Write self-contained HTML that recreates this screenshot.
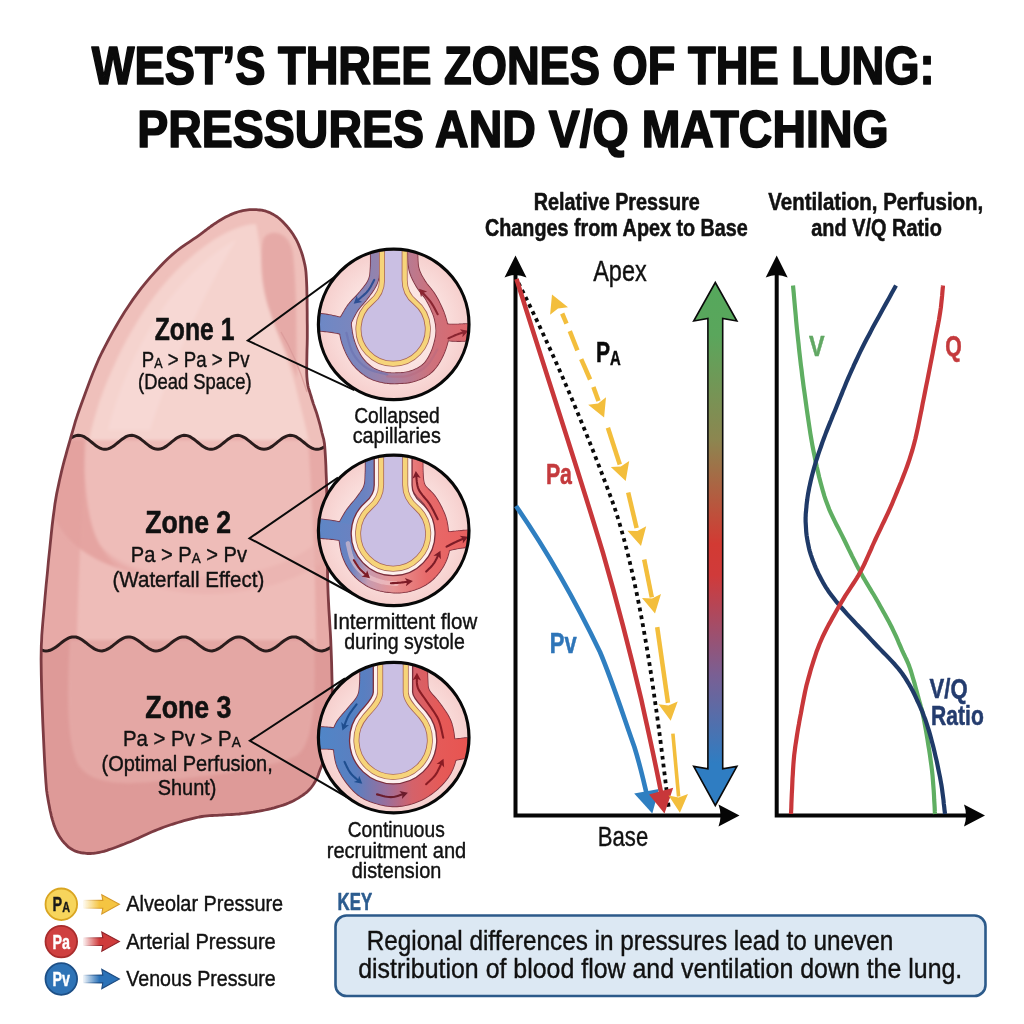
<!DOCTYPE html>
<html><head><meta charset="utf-8"><title>West's Three Zones of the Lung</title>
<style>
html,body{margin:0;padding:0;background:#fff;}
body{width:1024px;height:1024px;overflow:hidden;font-family:"Liberation Sans",sans-serif;}
svg{display:block;font-family:"Liberation Sans",sans-serif;will-change:transform;}
</style></head><body>
<svg width="1024" height="1024" viewBox="0 0 1024 1024">
<defs>


<linearGradient id="bigArrow" gradientUnits="userSpaceOnUse" x1="0" y1="283" x2="0" y2="805">
  <stop offset="0" stop-color="#55a85c"/>
  <stop offset="0.10" stop-color="#5aa65c"/>
  <stop offset="0.30" stop-color="#8c8650"/>
  <stop offset="0.50" stop-color="#d23a33"/>
  <stop offset="0.56" stop-color="#d03a3a"/>
  <stop offset="0.75" stop-color="#7a5f93"/>
  <stop offset="0.92" stop-color="#2f7dc2"/>
  <stop offset="1" stop-color="#2f7dc2"/>
</linearGradient>
<radialGradient id="circBg" cx="0.5" cy="0.5" r="0.5">
  <stop offset="0" stop-color="#fdeceb"/>
  <stop offset="0.6" stop-color="#fbe3e1"/>
  <stop offset="1" stop-color="#f6cfcd"/>
</radialGradient>
<linearGradient id="legYs" x1="0" y1="0" x2="1" y2="0">
  <stop offset="0" stop-color="#d69a2a" stop-opacity="0"/>
  <stop offset="0.5" stop-color="#d69a2a" stop-opacity="1"/>
  <stop offset="1" stop-color="#d69a2a"/>
</linearGradient>
<linearGradient id="legRs" x1="0" y1="0" x2="1" y2="0">
  <stop offset="0" stop-color="#8f2228" stop-opacity="0"/>
  <stop offset="0.5" stop-color="#8f2228" stop-opacity="1"/>
  <stop offset="1" stop-color="#8f2228"/>
</linearGradient>
<linearGradient id="legBs" x1="0" y1="0" x2="1" y2="0">
  <stop offset="0" stop-color="#1c4a80" stop-opacity="0"/>
  <stop offset="0.5" stop-color="#1c4a80" stop-opacity="1"/>
  <stop offset="1" stop-color="#1c4a80"/>
</linearGradient>
<linearGradient id="legY" x1="0" y1="0" x2="1" y2="0">
  <stop offset="0" stop-color="#f5c542" stop-opacity="0.05"/>
  <stop offset="0.45" stop-color="#f5c542" stop-opacity="1"/>
  <stop offset="1" stop-color="#f5c542"/>
</linearGradient>
<linearGradient id="legR" x1="0" y1="0" x2="1" y2="0">
  <stop offset="0" stop-color="#cf3b3b" stop-opacity="0.05"/>
  <stop offset="0.45" stop-color="#cf3b3b" stop-opacity="1"/>
  <stop offset="1" stop-color="#cf3b3b"/>
</linearGradient>
<linearGradient id="legB" x1="0" y1="0" x2="1" y2="0">
  <stop offset="0" stop-color="#2b72b8" stop-opacity="0.05"/>
  <stop offset="0.45" stop-color="#2b72b8" stop-opacity="1"/>
  <stop offset="1" stop-color="#2b72b8"/>
</linearGradient>


<linearGradient id="cap1" gradientUnits="userSpaceOnUse" x1="-76" y1="0" x2="76" y2="0">
  <stop offset="0" stop-color="#6c88c6"/>
  <stop offset="0.25" stop-color="#7c86bd"/>
  <stop offset="0.5" stop-color="#a9809f"/>
  <stop offset="0.74" stop-color="#cd727d"/>
  <stop offset="1" stop-color="#dd666a"/>
</linearGradient>
<linearGradient id="cap2" gradientUnits="userSpaceOnUse" x1="-76" y1="0" x2="76" y2="0">
  <stop offset="0" stop-color="#5d86c6"/>
  <stop offset="0.22" stop-color="#6a82c1"/>
  <stop offset="0.33" stop-color="#c79bb0"/>
  <stop offset="0.5" stop-color="#e79393"/>
  <stop offset="0.72" stop-color="#e76a6a"/>
  <stop offset="1" stop-color="#e95f5e"/>
</linearGradient>
<linearGradient id="cap3" gradientUnits="userSpaceOnUse" x1="-76" y1="0" x2="76" y2="0">
  <stop offset="0" stop-color="#4f86c8"/>
  <stop offset="0.25" stop-color="#5b7fc0"/>
  <stop offset="0.45" stop-color="#9a6f9c"/>
  <stop offset="0.62" stop-color="#d4626a"/>
  <stop offset="0.8" stop-color="#e55a58"/>
  <stop offset="1" stop-color="#e85450"/>
</linearGradient>
<linearGradient id="cap2v" gradientUnits="userSpaceOnUse" x1="-60" y1="0" x2="-10" y2="0">
  <stop offset="0" stop-color="#5d86c6"/>
  <stop offset="0.6" stop-color="#6a82c1"/>
  <stop offset="1" stop-color="#7d86c0"/>
</linearGradient>
<linearGradient id="cap3v" gradientUnits="userSpaceOnUse" x1="-60" y1="0" x2="-10" y2="0">
  <stop offset="0" stop-color="#4f84c7"/>
  <stop offset="0.6" stop-color="#587fc1"/>
  <stop offset="1" stop-color="#6a7bb8"/>
</linearGradient>
<clipPath id="cclip"><circle cx="0" cy="0" r="74"/></clipPath>

</defs>
<text x="91.8" y="83.7" font-size="53" font-weight="bold" fill="#0b0b0b" stroke="#0b0b0b" stroke-width="1.7" stroke-linejoin="round" textLength="842.8" lengthAdjust="spacingAndGlyphs" >WEST’S THREE ZONES OF THE LUNG:</text>
<text x="137.3" y="146.9" font-size="52.5" font-weight="bold" fill="#0b0b0b" stroke="#0b0b0b" stroke-width="1.7" stroke-linejoin="round" textLength="751.3" lengthAdjust="spacingAndGlyphs" >PRESSURES AND V/Q MATCHING</text>
<clipPath id="lungclip"><path d="M 254.7,209.6 L 256.4,209.7 L 258.1,209.8 L 259.8,210.0 L 261.6,210.2 L 263.3,210.5 L 265.0,210.9 L 266.7,211.5 L 268.4,212.1 L 270.1,212.8 L 271.8,213.7 L 273.5,214.6 L 275.2,215.6 L 276.9,216.7 L 278.6,218.0 L 280.3,219.4 L 282.0,221.0 L 283.7,222.8 L 285.5,224.7 L 287.4,226.8 L 289.2,229.0 L 291.0,231.4 L 292.7,233.8 L 294.2,236.2 L 295.7,238.7 L 297.0,241.2 L 298.3,243.9 L 299.4,246.6 L 300.5,249.4 L 301.5,252.2 L 302.4,255.0 L 303.2,257.8 L 303.9,260.6 L 304.5,263.2 L 305.0,265.4 L 305.4,267.6 L 305.7,269.8 L 306.0,272.3 L 306.2,275.1 L 306.4,278.5 L 306.6,282.5 L 306.8,287.4 L 306.9,293.0 L 307.1,299.1 L 307.1,305.6 L 307.2,312.3 L 307.2,319.0 L 307.3,325.6 L 307.3,331.7 L 307.3,337.7 L 307.2,343.9 L 307.0,350.1 L 306.9,356.2 L 306.8,362.1 L 306.7,367.6 L 306.7,372.6 L 306.9,377.0 L 307.2,380.6 L 307.6,383.6 L 308.0,386.0 L 308.5,388.1 L 309.1,390.0 L 309.7,391.8 L 310.3,393.8 L 311.0,396.0 L 311.7,398.5 L 312.5,401.0 L 313.3,403.6 L 314.2,406.1 L 315.1,408.7 L 316.0,411.2 L 316.8,413.6 L 317.5,416.0 L 318.2,418.3 L 318.8,420.5 L 319.4,422.6 L 320.0,424.7 L 320.5,426.8 L 321.0,428.8 L 321.5,430.9 L 322.0,433.0 L 322.5,434.9 L 322.9,436.4 L 323.3,437.8 L 323.7,439.2 L 324.0,441.0 L 324.4,443.2 L 324.7,446.2 L 325.0,450.0 L 325.3,454.7 L 325.6,460.0 L 325.9,466.0 L 326.1,472.4 L 326.4,479.4 L 326.6,486.9 L 326.8,494.7 L 327.0,503.0 L 327.1,512.0 L 327.2,521.9 L 327.3,532.5 L 327.3,543.4 L 327.4,554.4 L 327.5,565.2 L 327.6,575.5 L 327.8,585.0 L 328.1,593.7 L 328.5,601.9 L 328.9,609.7 L 329.4,617.2 L 329.8,624.6 L 330.3,632.0 L 330.7,639.4 L 331.0,647.0 L 331.3,654.9 L 331.6,663.1 L 331.8,671.4 L 332.0,679.6 L 332.2,687.7 L 332.3,695.3 L 332.3,702.5 L 332.3,709.0 L 332.2,714.8 L 332.0,720.1 L 331.8,725.0 L 331.5,729.4 L 331.2,733.6 L 330.7,737.5 L 330.2,741.3 L 329.5,745.0 L 328.7,748.6 L 327.7,751.9 L 326.5,755.0 L 325.3,757.9 L 324.1,760.7 L 322.9,763.3 L 321.8,765.7 L 320.8,768.0 L 320.0,770.1 L 319.3,772.0 L 318.7,773.7 L 318.2,775.2 L 317.6,776.7 L 317.0,778.1 L 316.3,779.5 L 315.5,781.0 L 314.6,782.5 L 313.7,784.0 L 312.7,785.5 L 311.6,787.0 L 310.5,788.4 L 309.2,789.8 L 307.8,791.2 L 306.2,792.6 L 304.4,794.0 L 302.5,795.4 L 300.5,796.7 L 298.3,798.1 L 296.0,799.4 L 293.6,800.7 L 291.1,801.9 L 288.6,803.0 L 285.9,804.1 L 283.1,805.1 L 280.2,806.0 L 277.2,806.9 L 274.1,807.8 L 271.0,808.6 L 268.0,809.3 L 265.0,810.0 L 262.0,810.6 L 259.1,811.2 L 256.1,811.7 L 253.1,812.2 L 250.2,812.6 L 247.3,813.0 L 244.4,813.4 L 241.7,813.7 L 239.1,814.0 L 236.5,814.2 L 234.1,814.4 L 231.6,814.5 L 229.3,814.6 L 226.9,814.7 L 224.5,814.8 L 222.0,815.0 L 219.5,815.1 L 217.1,815.3 L 214.7,815.4 L 212.2,815.5 L 209.7,815.6 L 207.2,815.8 L 204.6,816.1 L 201.9,816.5 L 199.1,817.0 L 196.2,817.6 L 193.2,818.3 L 190.1,819.1 L 187.1,819.9 L 184.0,820.7 L 181.0,821.6 L 178.0,822.5 L 175.1,823.4 L 172.2,824.3 L 169.3,825.3 L 166.4,826.3 L 163.5,827.3 L 160.7,828.4 L 157.8,829.5 L 155.0,830.6 L 152.2,831.8 L 149.4,833.0 L 146.7,834.2 L 143.9,835.5 L 141.2,836.8 L 138.5,838.1 L 135.7,839.3 L 133.0,840.5 L 130.2,841.7 L 127.3,842.8 L 124.4,844.0 L 121.4,845.1 L 118.6,846.2 L 115.9,847.3 L 113.3,848.2 L 111.0,849.0 L 108.9,849.7 L 107.1,850.3 L 105.4,850.8 L 103.9,851.3 L 102.4,851.7 L 101.0,852.0 L 99.5,852.3 L 98.0,852.6 L 96.5,852.9 L 95.0,853.1 L 93.5,853.3 L 92.1,853.4 L 90.6,853.5 L 89.2,853.5 L 87.7,853.5 L 86.2,853.4 L 84.7,853.2 L 83.2,853.0 L 81.6,852.8 L 80.0,852.5 L 78.4,852.1 L 76.9,851.6 L 75.4,851.1 L 74.0,850.5 L 72.7,849.8 L 71.4,849.0 L 70.1,848.2 L 68.9,847.3 L 67.7,846.3 L 66.6,845.2 L 65.5,844.1 L 64.4,843.0 L 63.4,841.8 L 62.3,840.6 L 61.4,839.3 L 60.4,837.9 L 59.5,836.5 L 58.6,835.0 L 57.8,833.5 L 57.0,832.0 L 56.2,830.4 L 55.5,828.9 L 54.9,827.2 L 54.2,825.6 L 53.6,823.8 L 53.1,822.0 L 52.5,820.1 L 51.9,818.0 L 51.3,815.8 L 50.8,813.4 L 50.2,811.0 L 49.7,808.4 L 49.2,805.8 L 48.7,803.2 L 48.2,800.6 L 47.8,798.0 L 47.4,795.7 L 47.1,793.9 L 46.9,792.2 L 46.6,790.4 L 46.4,788.3 L 46.2,785.6 L 45.9,782.1 L 45.6,777.5 L 45.2,771.7 L 44.8,764.8 L 44.4,757.1 L 44.0,748.9 L 43.6,740.3 L 43.2,731.6 L 42.8,723.1 L 42.5,715.0 L 42.2,707.1 L 41.9,699.0 L 41.7,690.9 L 41.5,682.8 L 41.3,674.8 L 41.2,667.1 L 41.1,659.6 L 41.2,652.5 L 41.3,646.1 L 41.6,640.5 L 41.8,635.4 L 42.2,630.3 L 42.6,625.1 L 43.1,619.4 L 43.7,612.8 L 44.4,605.0 L 45.2,595.6 L 46.2,584.7 L 47.4,572.9 L 48.5,560.6 L 49.8,548.3 L 51.0,536.6 L 52.1,526.0 L 53.2,517.0 L 54.2,509.6 L 55.0,503.4 L 55.9,498.2 L 56.7,493.6 L 57.6,489.3 L 58.5,485.1 L 59.4,480.8 L 60.5,476.0 L 61.7,470.8 L 63.0,465.5 L 64.4,460.1 L 65.9,454.8 L 67.3,449.6 L 68.8,444.5 L 70.2,439.6 L 71.5,435.0 L 72.7,430.9 L 73.7,427.3 L 74.7,423.9 L 75.6,420.7 L 76.7,417.4 L 77.9,413.8 L 79.3,409.8 L 81.0,405.0 L 83.0,399.5 L 85.2,393.5 L 87.6,387.0 L 90.1,380.2 L 92.8,373.2 L 95.7,366.2 L 98.7,359.2 L 101.9,352.5 L 105.3,345.8 L 108.9,339.0 L 112.6,332.1 L 116.6,325.2 L 120.6,318.4 L 124.7,311.8 L 128.9,305.5 L 133.0,299.4 L 137.2,293.6 L 141.5,287.9 L 146.0,282.4 L 150.4,277.1 L 154.9,272.1 L 159.4,267.2 L 163.7,262.7 L 168.0,258.5 L 172.3,254.6 L 176.6,251.0 L 181.0,247.7 L 185.3,244.6 L 189.5,241.8 L 193.4,239.2 L 196.9,236.8 L 200.0,234.6 L 202.6,232.7 L 204.7,231.0 L 206.5,229.7 L 208.0,228.5 L 209.4,227.5 L 210.7,226.5 L 212.1,225.5 L 213.7,224.4 L 215.4,223.3 L 217.1,222.1 L 218.8,221.0 L 220.5,220.0 L 222.2,219.0 L 223.9,218.0 L 225.6,217.1 L 227.3,216.2 L 229.0,215.4 L 230.7,214.6 L 232.4,213.9 L 234.1,213.2 L 235.9,212.6 L 237.6,212.0 L 239.3,211.5 L 241.0,211.1 L 242.7,210.7 L 244.4,210.4 L 246.1,210.1 L 247.8,209.9 L 249.6,209.7 L 251.3,209.6 L 253.0,209.6 Z"/></clipPath>
<filter id="soft" x="-20%" y="-20%" width="140%" height="140%"><feGaussianBlur stdDeviation="3.2"/></filter>
<filter id="soft2" x="-20%" y="-20%" width="140%" height="140%"><feGaussianBlur stdDeviation="1.6"/></filter>
<g clip-path="url(#lungclip)">
<rect x="0" y="180" width="400" height="700" fill="#efc0bb"/>
<g filter="url(#soft2)">
<path d="M 256,224 C 240,224 215,236 190,258 C 150,292 120,345 100,400 C 92,425 88,440 84,470 L 314,470 C 310,440 300,405 295,384 C 288,358 276,332 270,312 C 262,290 262,250 256,224 Z" fill="#f5d3ce"/>
<path d="M 236,240 C 215,250 180,280 155,320 C 135,352 118,390 108,430 L 150,430 C 170,370 200,300 236,240 Z" fill="#f8ddd9" opacity="0.55"/>
<path d="M 263,240 C 268,228 290,230 293,254 C 297,290 296,330 297,378 C 288,352 276,332 270,312 C 262,290 259,262 263,240 Z" fill="#e6aaa7"/>
</g>
<path d="M 281,332 C 292,350 300,370 307,392" fill="none" stroke="#d99a98" stroke-width="1.4" opacity="0.8"/>
<path d="M 60.0,446.4 L 62.0,444.9 L 64.0,443.3 L 66.0,441.7 L 68.0,440.1 L 70.0,438.6 L 72.0,437.3 L 74.0,436.3 L 76.0,435.6 L 78.0,435.3 L 80.0,435.4 L 82.0,435.9 L 84.0,436.7 L 86.0,437.9 L 88.0,439.3 L 90.0,440.9 L 92.0,442.5 L 94.0,444.1 L 96.0,445.7 L 98.0,447.0 L 100.0,448.1 L 102.0,448.9 L 104.0,449.3 L 106.0,449.3 L 108.0,448.9 L 110.0,448.1 L 112.0,447.0 L 114.0,445.7 L 116.0,444.1 L 118.0,442.5 L 120.0,440.9 L 122.0,439.3 L 124.0,437.9 L 126.0,436.7 L 128.0,435.9 L 130.0,435.4 L 132.0,435.3 L 134.0,435.6 L 136.0,436.3 L 138.0,437.3 L 140.0,438.6 L 142.0,440.1 L 144.0,441.7 L 146.0,443.3 L 148.0,444.9 L 150.0,446.4 L 152.0,447.6 L 154.0,448.5 L 156.0,449.1 L 158.0,449.3 L 160.0,449.1 L 162.0,448.5 L 164.0,447.6 L 166.0,446.4 L 168.0,444.9 L 170.0,443.3 L 172.0,441.7 L 174.0,440.1 L 176.0,438.6 L 178.0,437.3 L 180.0,436.3 L 182.0,435.6 L 184.0,435.3 L 186.0,435.4 L 188.0,435.9 L 190.0,436.7 L 192.0,437.9 L 194.0,439.3 L 196.0,440.9 L 198.0,442.5 L 200.0,444.1 L 202.0,445.7 L 204.0,447.0 L 206.0,448.1 L 208.0,448.9 L 210.0,449.3 L 212.0,449.3 L 214.0,448.9 L 216.0,448.1 L 218.0,447.0 L 220.0,445.7 L 222.0,444.1 L 224.0,442.5 L 226.0,440.9 L 228.0,439.3 L 230.0,437.9 L 232.0,436.7 L 234.0,435.9 L 236.0,435.4 L 238.0,435.3 L 240.0,435.6 L 242.0,436.3 L 244.0,437.3 L 246.0,438.6 L 248.0,440.1 L 250.0,441.7 L 252.0,443.3 L 254.0,444.9 L 256.0,446.4 L 258.0,447.6 L 260.0,448.5 L 262.0,449.1 L 264.0,449.3 L 266.0,449.1 L 268.0,448.5 L 270.0,447.6 L 272.0,446.4 L 274.0,444.9 L 276.0,443.3 L 278.0,441.7 L 280.0,440.1 L 282.0,438.6 L 284.0,437.3 L 286.0,436.3 L 288.0,435.6 L 290.0,435.3 L 292.0,435.4 L 294.0,435.9 L 296.0,436.7 L 298.0,437.9 L 300.0,439.3 L 302.0,440.9 L 304.0,442.5 L 306.0,444.1 L 308.0,445.7 L 310.0,447.0 L 312.0,448.1 L 314.0,448.9 L 316.0,449.3 L 318.0,449.3 L 320.0,448.9 L 322.0,448.1 L 324.0,447.0 L 326.0,445.7 L 328.0,444.1 L 330.0,442.5 L 332.0,440.9 L 334.0,439.3 L 340,900 L 20,900 Z" fill="#e7aaa7"/>
<g filter="url(#soft2)">
<path d="M 86,440 C 82,500 78,580 76,670 L 316,670 C 316,600 314,520 308,440 Z" fill="#eebcb8"/>
<path d="M 40,440 L 84,440 C 84,480 86,520 100,545 C 112,562 130,570 150,574 C 120,572 90,560 70,540 C 58,528 50,510 46,500 Z" fill="#e3a19f" opacity="0.9"/>
<path d="M 100,545 C 130,575 190,585 260,570 C 290,562 310,550 325,535 L 325,560 C 300,580 250,596 200,594 C 150,592 115,575 100,545 Z" fill="#e9b0ad" opacity="0.6"/>
</g>
<path d="M 30.0,641.9 L 32.0,643.5 L 34.0,645.1 L 36.0,646.6 L 38.0,648.0 L 40.0,649.2 L 42.0,650.1 L 44.0,650.7 L 46.0,650.9 L 48.0,650.8 L 50.0,650.3 L 52.0,649.4 L 54.0,648.3 L 56.0,647.0 L 58.0,645.5 L 60.0,643.9 L 62.0,642.3 L 64.0,640.8 L 66.0,639.5 L 68.0,638.4 L 70.0,637.5 L 72.0,637.0 L 74.0,636.9 L 76.0,637.1 L 78.0,637.7 L 80.0,638.6 L 82.0,639.8 L 84.0,641.2 L 86.0,642.7 L 88.0,644.3 L 90.0,645.9 L 92.0,647.3 L 94.0,648.6 L 96.0,649.7 L 98.0,650.4 L 100.0,650.8 L 102.0,650.9 L 104.0,650.6 L 106.0,649.9 L 108.0,648.9 L 110.0,647.7 L 112.0,646.3 L 114.0,644.7 L 116.0,643.1 L 118.0,641.5 L 120.0,640.1 L 122.0,638.9 L 124.0,637.9 L 126.0,637.2 L 128.0,636.9 L 130.0,637.0 L 132.0,637.4 L 134.0,638.1 L 136.0,639.2 L 138.0,640.5 L 140.0,641.9 L 142.0,643.5 L 144.0,645.1 L 146.0,646.6 L 148.0,648.0 L 150.0,649.2 L 152.0,650.1 L 154.0,650.7 L 156.0,650.9 L 158.0,650.8 L 160.0,650.3 L 162.0,649.4 L 164.0,648.3 L 166.0,647.0 L 168.0,645.5 L 170.0,643.9 L 172.0,642.3 L 174.0,640.8 L 176.0,639.5 L 178.0,638.4 L 180.0,637.5 L 182.0,637.0 L 184.0,636.9 L 186.0,637.1 L 188.0,637.7 L 190.0,638.6 L 192.0,639.8 L 194.0,641.2 L 196.0,642.7 L 198.0,644.3 L 200.0,645.9 L 202.0,647.3 L 204.0,648.6 L 206.0,649.7 L 208.0,650.4 L 210.0,650.8 L 212.0,650.9 L 214.0,650.6 L 216.0,649.9 L 218.0,648.9 L 220.0,647.7 L 222.0,646.3 L 224.0,644.7 L 226.0,643.1 L 228.0,641.5 L 230.0,640.1 L 232.0,638.9 L 234.0,637.9 L 236.0,637.2 L 238.0,636.9 L 240.0,637.0 L 242.0,637.4 L 244.0,638.1 L 246.0,639.2 L 248.0,640.5 L 250.0,641.9 L 252.0,643.5 L 254.0,645.1 L 256.0,646.6 L 258.0,648.0 L 260.0,649.2 L 262.0,650.1 L 264.0,650.7 L 266.0,650.9 L 268.0,650.8 L 270.0,650.3 L 272.0,649.4 L 274.0,648.3 L 276.0,647.0 L 278.0,645.5 L 280.0,643.9 L 282.0,642.3 L 284.0,640.8 L 286.0,639.5 L 288.0,638.4 L 290.0,637.5 L 292.0,637.0 L 294.0,636.9 L 296.0,637.1 L 298.0,637.7 L 300.0,638.6 L 302.0,639.8 L 304.0,641.2 L 306.0,642.7 L 308.0,644.3 L 310.0,645.9 L 312.0,647.3 L 314.0,648.6 L 316.0,649.7 L 318.0,650.4 L 320.0,650.8 L 322.0,650.9 L 324.0,650.6 L 326.0,649.9 L 328.0,648.9 L 330.0,647.7 L 332.0,646.3 L 334.0,644.7 L 336.0,643.1 L 338.0,641.5 L 340.0,640.1 L 340,900 L 20,900 Z" fill="#de9a98"/>
<g filter="url(#soft2)">
<path d="M 70,640 C 66,700 68,740 76,760 C 84,780 110,786 150,782 C 220,775 270,768 296,756 C 314,744 316,700 314,640 Z" fill="#e4a7a4"/>
</g>
<path d="M 60.0,446.4 L 62.0,444.9 L 64.0,443.3 L 66.0,441.7 L 68.0,440.1 L 70.0,438.6 L 72.0,437.3 L 74.0,436.3 L 76.0,435.6 L 78.0,435.3 L 80.0,435.4 L 82.0,435.9 L 84.0,436.7 L 86.0,437.9 L 88.0,439.3 L 90.0,440.9 L 92.0,442.5 L 94.0,444.1 L 96.0,445.7 L 98.0,447.0 L 100.0,448.1 L 102.0,448.9 L 104.0,449.3 L 106.0,449.3 L 108.0,448.9 L 110.0,448.1 L 112.0,447.0 L 114.0,445.7 L 116.0,444.1 L 118.0,442.5 L 120.0,440.9 L 122.0,439.3 L 124.0,437.9 L 126.0,436.7 L 128.0,435.9 L 130.0,435.4 L 132.0,435.3 L 134.0,435.6 L 136.0,436.3 L 138.0,437.3 L 140.0,438.6 L 142.0,440.1 L 144.0,441.7 L 146.0,443.3 L 148.0,444.9 L 150.0,446.4 L 152.0,447.6 L 154.0,448.5 L 156.0,449.1 L 158.0,449.3 L 160.0,449.1 L 162.0,448.5 L 164.0,447.6 L 166.0,446.4 L 168.0,444.9 L 170.0,443.3 L 172.0,441.7 L 174.0,440.1 L 176.0,438.6 L 178.0,437.3 L 180.0,436.3 L 182.0,435.6 L 184.0,435.3 L 186.0,435.4 L 188.0,435.9 L 190.0,436.7 L 192.0,437.9 L 194.0,439.3 L 196.0,440.9 L 198.0,442.5 L 200.0,444.1 L 202.0,445.7 L 204.0,447.0 L 206.0,448.1 L 208.0,448.9 L 210.0,449.3 L 212.0,449.3 L 214.0,448.9 L 216.0,448.1 L 218.0,447.0 L 220.0,445.7 L 222.0,444.1 L 224.0,442.5 L 226.0,440.9 L 228.0,439.3 L 230.0,437.9 L 232.0,436.7 L 234.0,435.9 L 236.0,435.4 L 238.0,435.3 L 240.0,435.6 L 242.0,436.3 L 244.0,437.3 L 246.0,438.6 L 248.0,440.1 L 250.0,441.7 L 252.0,443.3 L 254.0,444.9 L 256.0,446.4 L 258.0,447.6 L 260.0,448.5 L 262.0,449.1 L 264.0,449.3 L 266.0,449.1 L 268.0,448.5 L 270.0,447.6 L 272.0,446.4 L 274.0,444.9 L 276.0,443.3 L 278.0,441.7 L 280.0,440.1 L 282.0,438.6 L 284.0,437.3 L 286.0,436.3 L 288.0,435.6 L 290.0,435.3 L 292.0,435.4 L 294.0,435.9 L 296.0,436.7 L 298.0,437.9 L 300.0,439.3 L 302.0,440.9 L 304.0,442.5 L 306.0,444.1 L 308.0,445.7 L 310.0,447.0 L 312.0,448.1 L 314.0,448.9 L 316.0,449.3 L 318.0,449.3 L 320.0,448.9 L 322.0,448.1 L 324.0,447.0 L 326.0,445.7 L 328.0,444.1 L 330.0,442.5 L 332.0,440.9 L 334.0,439.3" fill="none" stroke="#2a1c1c" stroke-width="3"/>
<path d="M 30.0,641.9 L 32.0,643.5 L 34.0,645.1 L 36.0,646.6 L 38.0,648.0 L 40.0,649.2 L 42.0,650.1 L 44.0,650.7 L 46.0,650.9 L 48.0,650.8 L 50.0,650.3 L 52.0,649.4 L 54.0,648.3 L 56.0,647.0 L 58.0,645.5 L 60.0,643.9 L 62.0,642.3 L 64.0,640.8 L 66.0,639.5 L 68.0,638.4 L 70.0,637.5 L 72.0,637.0 L 74.0,636.9 L 76.0,637.1 L 78.0,637.7 L 80.0,638.6 L 82.0,639.8 L 84.0,641.2 L 86.0,642.7 L 88.0,644.3 L 90.0,645.9 L 92.0,647.3 L 94.0,648.6 L 96.0,649.7 L 98.0,650.4 L 100.0,650.8 L 102.0,650.9 L 104.0,650.6 L 106.0,649.9 L 108.0,648.9 L 110.0,647.7 L 112.0,646.3 L 114.0,644.7 L 116.0,643.1 L 118.0,641.5 L 120.0,640.1 L 122.0,638.9 L 124.0,637.9 L 126.0,637.2 L 128.0,636.9 L 130.0,637.0 L 132.0,637.4 L 134.0,638.1 L 136.0,639.2 L 138.0,640.5 L 140.0,641.9 L 142.0,643.5 L 144.0,645.1 L 146.0,646.6 L 148.0,648.0 L 150.0,649.2 L 152.0,650.1 L 154.0,650.7 L 156.0,650.9 L 158.0,650.8 L 160.0,650.3 L 162.0,649.4 L 164.0,648.3 L 166.0,647.0 L 168.0,645.5 L 170.0,643.9 L 172.0,642.3 L 174.0,640.8 L 176.0,639.5 L 178.0,638.4 L 180.0,637.5 L 182.0,637.0 L 184.0,636.9 L 186.0,637.1 L 188.0,637.7 L 190.0,638.6 L 192.0,639.8 L 194.0,641.2 L 196.0,642.7 L 198.0,644.3 L 200.0,645.9 L 202.0,647.3 L 204.0,648.6 L 206.0,649.7 L 208.0,650.4 L 210.0,650.8 L 212.0,650.9 L 214.0,650.6 L 216.0,649.9 L 218.0,648.9 L 220.0,647.7 L 222.0,646.3 L 224.0,644.7 L 226.0,643.1 L 228.0,641.5 L 230.0,640.1 L 232.0,638.9 L 234.0,637.9 L 236.0,637.2 L 238.0,636.9 L 240.0,637.0 L 242.0,637.4 L 244.0,638.1 L 246.0,639.2 L 248.0,640.5 L 250.0,641.9 L 252.0,643.5 L 254.0,645.1 L 256.0,646.6 L 258.0,648.0 L 260.0,649.2 L 262.0,650.1 L 264.0,650.7 L 266.0,650.9 L 268.0,650.8 L 270.0,650.3 L 272.0,649.4 L 274.0,648.3 L 276.0,647.0 L 278.0,645.5 L 280.0,643.9 L 282.0,642.3 L 284.0,640.8 L 286.0,639.5 L 288.0,638.4 L 290.0,637.5 L 292.0,637.0 L 294.0,636.9 L 296.0,637.1 L 298.0,637.7 L 300.0,638.6 L 302.0,639.8 L 304.0,641.2 L 306.0,642.7 L 308.0,644.3 L 310.0,645.9 L 312.0,647.3 L 314.0,648.6 L 316.0,649.7 L 318.0,650.4 L 320.0,650.8 L 322.0,650.9 L 324.0,650.6 L 326.0,649.9 L 328.0,648.9 L 330.0,647.7 L 332.0,646.3 L 334.0,644.7 L 336.0,643.1 L 338.0,641.5 L 340.0,640.1" fill="none" stroke="#2a1c1c" stroke-width="3"/>
</g>
<path d="M 254.7,209.6 L 256.4,209.7 L 258.1,209.8 L 259.8,210.0 L 261.6,210.2 L 263.3,210.5 L 265.0,210.9 L 266.7,211.5 L 268.4,212.1 L 270.1,212.8 L 271.8,213.7 L 273.5,214.6 L 275.2,215.6 L 276.9,216.7 L 278.6,218.0 L 280.3,219.4 L 282.0,221.0 L 283.7,222.8 L 285.5,224.7 L 287.4,226.8 L 289.2,229.0 L 291.0,231.4 L 292.7,233.8 L 294.2,236.2 L 295.7,238.7 L 297.0,241.2 L 298.3,243.9 L 299.4,246.6 L 300.5,249.4 L 301.5,252.2 L 302.4,255.0 L 303.2,257.8 L 303.9,260.6 L 304.5,263.2 L 305.0,265.4 L 305.4,267.6 L 305.7,269.8 L 306.0,272.3 L 306.2,275.1 L 306.4,278.5 L 306.6,282.5 L 306.8,287.4 L 306.9,293.0 L 307.1,299.1 L 307.1,305.6 L 307.2,312.3 L 307.2,319.0 L 307.3,325.6 L 307.3,331.7 L 307.3,337.7 L 307.2,343.9 L 307.0,350.1 L 306.9,356.2 L 306.8,362.1 L 306.7,367.6 L 306.7,372.6 L 306.9,377.0 L 307.2,380.6 L 307.6,383.6 L 308.0,386.0 L 308.5,388.1 L 309.1,390.0 L 309.7,391.8 L 310.3,393.8 L 311.0,396.0 L 311.7,398.5 L 312.5,401.0 L 313.3,403.6 L 314.2,406.1 L 315.1,408.7 L 316.0,411.2 L 316.8,413.6 L 317.5,416.0 L 318.2,418.3 L 318.8,420.5 L 319.4,422.6 L 320.0,424.7 L 320.5,426.8 L 321.0,428.8 L 321.5,430.9 L 322.0,433.0 L 322.5,434.9 L 322.9,436.4 L 323.3,437.8 L 323.7,439.2 L 324.0,441.0 L 324.4,443.2 L 324.7,446.2 L 325.0,450.0 L 325.3,454.7 L 325.6,460.0 L 325.9,466.0 L 326.1,472.4 L 326.4,479.4 L 326.6,486.9 L 326.8,494.7 L 327.0,503.0 L 327.1,512.0 L 327.2,521.9 L 327.3,532.5 L 327.3,543.4 L 327.4,554.4 L 327.5,565.2 L 327.6,575.5 L 327.8,585.0 L 328.1,593.7 L 328.5,601.9 L 328.9,609.7 L 329.4,617.2 L 329.8,624.6 L 330.3,632.0 L 330.7,639.4 L 331.0,647.0 L 331.3,654.9 L 331.6,663.1 L 331.8,671.4 L 332.0,679.6 L 332.2,687.7 L 332.3,695.3 L 332.3,702.5 L 332.3,709.0 L 332.2,714.8 L 332.0,720.1 L 331.8,725.0 L 331.5,729.4 L 331.2,733.6 L 330.7,737.5 L 330.2,741.3 L 329.5,745.0 L 328.7,748.6 L 327.7,751.9 L 326.5,755.0 L 325.3,757.9 L 324.1,760.7 L 322.9,763.3 L 321.8,765.7 L 320.8,768.0 L 320.0,770.1 L 319.3,772.0 L 318.7,773.7 L 318.2,775.2 L 317.6,776.7 L 317.0,778.1 L 316.3,779.5 L 315.5,781.0 L 314.6,782.5 L 313.7,784.0 L 312.7,785.5 L 311.6,787.0 L 310.5,788.4 L 309.2,789.8 L 307.8,791.2 L 306.2,792.6 L 304.4,794.0 L 302.5,795.4 L 300.5,796.7 L 298.3,798.1 L 296.0,799.4 L 293.6,800.7 L 291.1,801.9 L 288.6,803.0 L 285.9,804.1 L 283.1,805.1 L 280.2,806.0 L 277.2,806.9 L 274.1,807.8 L 271.0,808.6 L 268.0,809.3 L 265.0,810.0 L 262.0,810.6 L 259.1,811.2 L 256.1,811.7 L 253.1,812.2 L 250.2,812.6 L 247.3,813.0 L 244.4,813.4 L 241.7,813.7 L 239.1,814.0 L 236.5,814.2 L 234.1,814.4 L 231.6,814.5 L 229.3,814.6 L 226.9,814.7 L 224.5,814.8 L 222.0,815.0 L 219.5,815.1 L 217.1,815.3 L 214.7,815.4 L 212.2,815.5 L 209.7,815.6 L 207.2,815.8 L 204.6,816.1 L 201.9,816.5 L 199.1,817.0 L 196.2,817.6 L 193.2,818.3 L 190.1,819.1 L 187.1,819.9 L 184.0,820.7 L 181.0,821.6 L 178.0,822.5 L 175.1,823.4 L 172.2,824.3 L 169.3,825.3 L 166.4,826.3 L 163.5,827.3 L 160.7,828.4 L 157.8,829.5 L 155.0,830.6 L 152.2,831.8 L 149.4,833.0 L 146.7,834.2 L 143.9,835.5 L 141.2,836.8 L 138.5,838.1 L 135.7,839.3 L 133.0,840.5 L 130.2,841.7 L 127.3,842.8 L 124.4,844.0 L 121.4,845.1 L 118.6,846.2 L 115.9,847.3 L 113.3,848.2 L 111.0,849.0 L 108.9,849.7 L 107.1,850.3 L 105.4,850.8 L 103.9,851.3 L 102.4,851.7 L 101.0,852.0 L 99.5,852.3 L 98.0,852.6 L 96.5,852.9 L 95.0,853.1 L 93.5,853.3 L 92.1,853.4 L 90.6,853.5 L 89.2,853.5 L 87.7,853.5 L 86.2,853.4 L 84.7,853.2 L 83.2,853.0 L 81.6,852.8 L 80.0,852.5 L 78.4,852.1 L 76.9,851.6 L 75.4,851.1 L 74.0,850.5 L 72.7,849.8 L 71.4,849.0 L 70.1,848.2 L 68.9,847.3 L 67.7,846.3 L 66.6,845.2 L 65.5,844.1 L 64.4,843.0 L 63.4,841.8 L 62.3,840.6 L 61.4,839.3 L 60.4,837.9 L 59.5,836.5 L 58.6,835.0 L 57.8,833.5 L 57.0,832.0 L 56.2,830.4 L 55.5,828.9 L 54.9,827.2 L 54.2,825.6 L 53.6,823.8 L 53.1,822.0 L 52.5,820.1 L 51.9,818.0 L 51.3,815.8 L 50.8,813.4 L 50.2,811.0 L 49.7,808.4 L 49.2,805.8 L 48.7,803.2 L 48.2,800.6 L 47.8,798.0 L 47.4,795.7 L 47.1,793.9 L 46.9,792.2 L 46.6,790.4 L 46.4,788.3 L 46.2,785.6 L 45.9,782.1 L 45.6,777.5 L 45.2,771.7 L 44.8,764.8 L 44.4,757.1 L 44.0,748.9 L 43.6,740.3 L 43.2,731.6 L 42.8,723.1 L 42.5,715.0 L 42.2,707.1 L 41.9,699.0 L 41.7,690.9 L 41.5,682.8 L 41.3,674.8 L 41.2,667.1 L 41.1,659.6 L 41.2,652.5 L 41.3,646.1 L 41.6,640.5 L 41.8,635.4 L 42.2,630.3 L 42.6,625.1 L 43.1,619.4 L 43.7,612.8 L 44.4,605.0 L 45.2,595.6 L 46.2,584.7 L 47.4,572.9 L 48.5,560.6 L 49.8,548.3 L 51.0,536.6 L 52.1,526.0 L 53.2,517.0 L 54.2,509.6 L 55.0,503.4 L 55.9,498.2 L 56.7,493.6 L 57.6,489.3 L 58.5,485.1 L 59.4,480.8 L 60.5,476.0 L 61.7,470.8 L 63.0,465.5 L 64.4,460.1 L 65.9,454.8 L 67.3,449.6 L 68.8,444.5 L 70.2,439.6 L 71.5,435.0 L 72.7,430.9 L 73.7,427.3 L 74.7,423.9 L 75.6,420.7 L 76.7,417.4 L 77.9,413.8 L 79.3,409.8 L 81.0,405.0 L 83.0,399.5 L 85.2,393.5 L 87.6,387.0 L 90.1,380.2 L 92.8,373.2 L 95.7,366.2 L 98.7,359.2 L 101.9,352.5 L 105.3,345.8 L 108.9,339.0 L 112.6,332.1 L 116.6,325.2 L 120.6,318.4 L 124.7,311.8 L 128.9,305.5 L 133.0,299.4 L 137.2,293.6 L 141.5,287.9 L 146.0,282.4 L 150.4,277.1 L 154.9,272.1 L 159.4,267.2 L 163.7,262.7 L 168.0,258.5 L 172.3,254.6 L 176.6,251.0 L 181.0,247.7 L 185.3,244.6 L 189.5,241.8 L 193.4,239.2 L 196.9,236.8 L 200.0,234.6 L 202.6,232.7 L 204.7,231.0 L 206.5,229.7 L 208.0,228.5 L 209.4,227.5 L 210.7,226.5 L 212.1,225.5 L 213.7,224.4 L 215.4,223.3 L 217.1,222.1 L 218.8,221.0 L 220.5,220.0 L 222.2,219.0 L 223.9,218.0 L 225.6,217.1 L 227.3,216.2 L 229.0,215.4 L 230.7,214.6 L 232.4,213.9 L 234.1,213.2 L 235.9,212.6 L 237.6,212.0 L 239.3,211.5 L 241.0,211.1 L 242.7,210.7 L 244.4,210.4 L 246.1,210.1 L 247.8,209.9 L 249.6,209.7 L 251.3,209.6 L 253.0,209.6 Z" fill="none" stroke="#7d3b42" stroke-width="2.8" stroke-linejoin="round"/>
<text x="154.7" y="340.4" font-size="30.5" font-weight="bold" fill="#111" stroke="#111" stroke-width="0.55" stroke-linejoin="round" textLength="79.7" lengthAdjust="spacingAndGlyphs" >Zone 1</text>
<text x="145.3" y="533.2" font-size="30.5" font-weight="bold" fill="#111" stroke="#111" stroke-width="0.55" stroke-linejoin="round" textLength="85.9" lengthAdjust="spacingAndGlyphs" >Zone 2</text>
<text x="145.3" y="717.8" font-size="30.5" font-weight="bold" fill="#111" stroke="#111" stroke-width="0.55" stroke-linejoin="round" textLength="86.2" lengthAdjust="spacingAndGlyphs" >Zone 3</text>
<text x="141.8" y="367.2" font-size="22.5" font-weight="normal" fill="#111" stroke="#111" stroke-width="0.42" stroke-linejoin="round" textLength="107.7" lengthAdjust="spacingAndGlyphs" xml:space="preserve">P<tspan font-size="15.1" dy="1">A</tspan><tspan dy="-1"> &gt; P</tspan>a &gt; Pv</text>
<text x="138.0" y="389.0" font-size="22.5" font-weight="normal" fill="#111" stroke="#111" stroke-width="0.42" stroke-linejoin="round" textLength="113.7" lengthAdjust="spacingAndGlyphs" >(Dead Space)</text>
<text x="130.8" y="562.1" font-size="22.5" font-weight="normal" fill="#111" stroke="#111" stroke-width="0.42" stroke-linejoin="round" textLength="116.2" lengthAdjust="spacingAndGlyphs" xml:space="preserve">Pa &gt; P<tspan font-size="15.1" dy="1">A</tspan><tspan dy="-1"> &gt; P</tspan>v</text>
<text x="112.5" y="586.9" font-size="22.5" font-weight="normal" fill="#111" stroke="#111" stroke-width="0.42" stroke-linejoin="round" textLength="151.8" lengthAdjust="spacingAndGlyphs" >(Waterfall Effect)</text>
<text x="123.0" y="746.3" font-size="22.5" font-weight="normal" fill="#111" stroke="#111" stroke-width="0.42" stroke-linejoin="round" textLength="117.8" lengthAdjust="spacingAndGlyphs" xml:space="preserve">Pa &gt; Pv &gt; P<tspan font-size="15.1" dy="1">A</tspan></text>
<text x="101.5" y="771.0" font-size="22.5" font-weight="normal" fill="#111" stroke="#111" stroke-width="0.42" stroke-linejoin="round" textLength="171.3" lengthAdjust="spacingAndGlyphs" >(Optimal Perfusion,</text>
<text x="157.7" y="794.9" font-size="22.5" font-weight="normal" fill="#111" stroke="#111" stroke-width="0.42" stroke-linejoin="round" textLength="58.7" lengthAdjust="spacingAndGlyphs" >Shunt)</text>
<path d="M 340.6,272.5 L 247.8,340.6 L 354.3,390.2" fill="none" stroke="#0a0a0a" stroke-width="2" stroke-linejoin="miter"/>
<path d="M 338,477.5 L 249.5,538.3 L 352,593.5" fill="none" stroke="#0a0a0a" stroke-width="2" stroke-linejoin="miter"/>
<path d="M 345,678.4 L 249.9,740.8 L 352,800.2" fill="none" stroke="#0a0a0a" stroke-width="2" stroke-linejoin="miter"/>
<g transform="translate(393.7,324.4)">
<circle cx="0" cy="0" r="75" fill="url(#circBg)"/>
<g clip-path="url(#cclip)">
<path d="M -14.29,-80.72 L -14.28,-79.26 L -22.81,-79.16 L -22.82,-80.66 Z M -14.28,-79.26 L -14.25,-77.31 L -22.78,-77.18 L -22.81,-79.16 Z M -14.25,-77.31 L -14.21,-74.97 L -22.74,-74.84 L -22.78,-77.18 Z M -14.21,-74.97 L -14.17,-72.35 L -22.70,-72.23 L -22.74,-74.84 Z M -14.17,-72.35 L -14.14,-69.54 L -22.67,-69.45 L -22.70,-72.23 Z M -14.14,-69.54 L -14.11,-66.66 L -22.65,-66.62 L -22.67,-69.45 Z M -14.11,-66.66 L -14.11,-63.80 L -22.64,-63.83 L -22.65,-66.62 Z M -14.11,-63.80 L -14.13,-61.06 L -22.67,-61.19 L -22.64,-63.83 Z M -14.13,-61.06 L -14.19,-58.53 L -22.72,-58.82 L -22.67,-61.19 Z M -14.19,-58.53 L -14.29,-56.34 L -22.81,-56.80 L -22.72,-58.82 Z M -14.29,-56.34 L -14.41,-54.48 L -22.93,-55.04 L -22.81,-56.80 Z M -14.41,-54.48 L -14.53,-52.80 L -23.03,-53.43 L -22.93,-55.04 Z M -14.53,-52.80 L -14.66,-51.23 L -23.14,-52.00 L -23.03,-53.43 Z M -14.66,-51.23 L -14.82,-49.73 L -23.26,-50.71 L -23.14,-52.00 Z M -14.82,-49.73 L -15.02,-48.28 L -23.41,-49.55 L -23.26,-50.71 Z M -15.02,-48.28 L -15.27,-46.84 L -23.59,-48.48 L -23.41,-49.55 Z M -15.27,-46.84 L -15.59,-45.41 L -23.82,-47.46 L -23.59,-48.48 Z M -15.59,-45.41 L -15.98,-43.97 L -24.10,-46.45 L -23.82,-47.46 Z M -15.98,-43.97 L -16.46,-42.52 L -24.46,-45.40 L -24.10,-46.45 Z M -16.46,-42.52 L -17.03,-41.00 L -24.90,-44.31 L -24.46,-45.40 Z M -17.03,-41.00 L -17.72,-39.43 L -25.42,-43.20 L -24.90,-44.31 Z M -17.72,-39.43 L -18.50,-37.89 L -26.03,-42.10 L -25.42,-43.20 Z M -18.50,-37.89 L -19.35,-36.39 L -26.74,-40.98 L -26.03,-42.10 Z M -19.35,-36.39 L -20.24,-34.94 L -27.52,-39.84 L -26.74,-40.98 Z M -20.24,-34.94 L -21.18,-33.53 L -28.38,-38.67 L -27.52,-39.84 Z M -21.18,-33.53 L -22.14,-32.15 L -29.30,-37.48 L -28.38,-38.67 Z M -22.14,-32.15 L -23.11,-30.79 L -30.27,-36.27 L -29.30,-37.48 Z M -23.11,-30.79 L -24.09,-29.46 L -31.29,-35.04 L -30.27,-36.27 Z M -24.09,-29.46 L -25.05,-28.14 L -32.32,-33.77 L -31.29,-35.04 Z M -25.05,-28.14 L -26.03,-26.80 L -33.34,-32.52 L -32.32,-33.77 Z M -26.03,-26.80 L -27.10,-25.40 L -34.34,-31.33 L -33.34,-32.52 Z M -27.10,-25.40 L -28.24,-23.97 L -35.39,-30.16 L -34.34,-31.33 Z M -28.24,-23.97 L -29.41,-22.58 L -36.52,-28.95 L -35.39,-30.16 Z M -29.41,-22.58 L -30.58,-21.22 L -37.70,-27.71 L -36.52,-28.95 Z M -30.58,-21.22 L -31.74,-19.89 L -38.93,-26.45 L -37.70,-27.71 Z M -31.74,-19.89 L -32.87,-18.58 L -40.17,-25.16 L -38.93,-26.45 Z M -32.87,-18.58 L -33.94,-17.30 L -41.41,-23.84 L -40.17,-25.16 Z M -33.94,-17.30 L -34.95,-16.06 L -42.64,-22.48 L -41.41,-23.84 Z M -34.95,-16.06 L -35.86,-14.86 L -43.83,-21.09 L -42.64,-22.48 Z M -35.86,-14.86 L -36.67,-13.71 L -44.97,-19.64 L -43.83,-21.09 Z M -36.67,-13.71 L -37.44,-12.49 L -46.05,-18.14 L -44.97,-19.64 Z M -37.44,-12.49 L -38.22,-11.15 L -47.10,-16.59 L -46.05,-18.14 Z M -38.22,-11.15 L -39.01,-9.73 L -48.10,-15.01 L -47.10,-16.59 Z M -39.01,-9.73 L -39.77,-8.27 L -49.05,-13.44 L -48.10,-15.01 Z M -39.77,-8.27 L -40.51,-6.82 L -49.94,-11.92 L -49.05,-13.44 Z M -40.51,-6.82 L -41.20,-5.41 L -50.77,-10.48 L -49.94,-11.92 Z M -41.20,-5.41 L -41.84,-4.09 L -51.51,-9.16 L -50.77,-10.48 Z M -41.84,-4.09 L -42.42,-2.89 L -52.16,-8.01 L -51.51,-9.16 Z M -42.42,-2.89 L -42.94,-1.84 L -52.69,-7.08 L -52.16,-8.01 Z M -42.94,-1.84 L -43.36,-1.01 L -53.12,-6.37 L -52.69,-7.08 Z" fill="#7a2d3b" stroke="#7a2d3b" stroke-width="2.2" stroke-linejoin="round"/>
<path d="M -79.83,-11.25 L -78.87,-11.12 L -80.56,5.80 L -81.59,5.73 Z M -78.87,-11.12 L -77.62,-10.95 L -79.23,5.89 L -80.56,5.80 Z M -77.62,-10.95 L -76.10,-10.76 L -77.70,5.99 L -79.23,5.89 Z M -76.10,-10.76 L -74.38,-10.54 L -76.00,6.09 L -77.70,5.99 Z M -74.38,-10.54 L -72.51,-10.29 L -74.18,6.21 L -76.00,6.09 Z M -72.51,-10.29 L -70.55,-10.02 L -72.30,6.34 L -74.18,6.21 Z M -70.55,-10.02 L -68.55,-9.74 L -70.41,6.48 L -72.30,6.34 Z M -68.55,-9.74 L -66.56,-9.44 L -68.57,6.64 L -70.41,6.48 Z M -66.56,-9.44 L -64.61,-9.12 L -66.83,6.80 L -68.57,6.64 Z M -64.61,-9.12 L -62.75,-8.78 L -65.27,6.97 L -66.83,6.80 Z M -62.75,-8.78 L -60.94,-8.41 L -63.76,7.18 L -65.27,6.97 Z M -60.94,-8.41 L -59.09,-8.01 L -62.14,7.43 L -63.76,7.18 Z M -59.09,-8.01 L -57.25,-7.57 L -60.45,7.71 L -62.14,7.43 Z M -57.25,-7.57 L -55.43,-7.12 L -58.74,8.02 L -60.45,7.71 Z M -55.43,-7.12 L -53.66,-6.67 L -57.04,8.34 L -58.74,8.02 Z M -53.66,-6.67 L -51.98,-6.22 L -55.38,8.66 L -57.04,8.34 Z M -51.98,-6.22 L -50.41,-5.81 L -53.79,8.96 L -55.38,8.66 Z M -50.41,-5.81 L -48.98,-5.43 L -52.30,9.25 L -53.79,8.96 Z M -48.98,-5.43 L -47.75,-5.10 L -50.94,9.50 L -52.30,9.25 Z M -47.75,-5.10 L -46.74,-4.83 L -49.75,9.70 L -50.94,9.50 Z M -46.74,-4.83 L -45.90,-4.62 L -48.75,9.86 L -49.75,9.70 Z M -45.90,-4.62 L -45.23,-4.44 L -47.94,9.97 L -48.75,9.86 Z M -45.23,-4.44 L -44.70,-4.30 L -47.26,10.04 L -47.94,9.97 Z M -44.70,-4.30 L -44.31,-4.19 L -46.69,10.10 L -47.26,10.04 Z M -44.31,-4.19 L -44.03,-4.10 L -46.21,10.13 L -46.69,10.10 Z M -44.03,-4.10 L -43.83,-4.04 L -45.81,10.15 L -46.21,10.13 Z M -43.83,-4.04 L -43.65,-3.98 L -45.51,10.16 L -45.81,10.15 Z M -43.65,-3.98 L -43.43,-3.92 L -45.31,10.15 L -45.51,10.16 Z M -43.43,-3.92 L -43.13,-3.85 L -45.22,10.14 L -45.31,10.15 Z M -43.13,-3.85 L -42.86,-3.78 L -45.09,10.14 L -45.22,10.14 Z" fill="#7a2d3b" stroke="#7a2d3b" stroke-width="2.2" stroke-linejoin="round"/>
<path d="M -43.48,-3.61 L -43.29,-2.38 L -54.69,-0.81 L -54.86,-1.91 Z M -43.29,-2.38 L -43.09,-0.81 L -54.51,0.62 L -54.69,-0.81 Z M -43.09,-0.81 L -42.86,0.97 L -54.30,2.39 L -54.51,0.62 Z M -42.86,0.97 L -42.61,2.93 L -54.05,4.42 L -54.30,2.39 Z M -42.61,2.93 L -42.33,5.02 L -53.76,6.63 L -54.05,4.42 Z M -42.33,5.02 L -42.00,7.16 L -53.42,8.96 L -53.76,6.63 Z M -42.00,7.16 L -41.64,9.30 L -53.02,11.36 L -53.42,8.96 Z M -41.64,9.30 L -41.25,11.37 L -52.54,13.78 L -53.02,11.36 Z M -41.25,11.37 L -40.81,13.29 L -51.98,16.16 L -52.54,13.78 Z M -40.81,13.29 L -40.33,15.04 L -51.33,18.41 L -51.98,16.16 Z M -40.33,15.04 L -39.78,16.78 L -50.61,20.51 L -51.33,18.41 Z M -39.78,16.78 L -39.15,18.61 L -49.84,22.58 L -50.61,20.51 Z M -39.15,18.61 L -38.48,20.45 L -49.01,24.65 L -49.84,22.58 Z M -38.48,20.45 L -37.76,22.28 L -48.11,26.73 L -49.01,24.65 Z M -37.76,22.28 L -37.00,24.10 L -47.15,28.78 L -48.11,26.73 Z M -37.00,24.10 L -36.19,25.87 L -46.13,30.81 L -47.15,28.78 Z M -36.19,25.87 L -35.36,27.59 L -45.06,32.79 L -46.13,30.81 Z M -35.36,27.59 L -34.49,29.22 L -43.93,34.72 L -45.06,32.79 Z M -34.49,29.22 L -33.61,30.76 L -42.75,36.58 L -43.93,34.72 Z M -33.61,30.76 L -32.70,32.19 L -41.52,38.37 L -42.75,36.58 Z M -32.70,32.19 L -31.76,33.54 L -40.22,40.06 L -41.52,38.37 Z M -31.76,33.54 L -30.74,34.85 L -38.85,41.69 L -40.22,40.06 Z M -30.74,34.85 L -29.67,36.13 L -37.44,43.24 L -38.85,41.69 Z M -29.67,36.13 L -28.55,37.36 L -35.98,44.71 L -37.44,43.24 Z M -28.55,37.36 L -27.39,38.55 L -34.49,46.11 L -35.98,44.71 Z M -27.39,38.55 L -26.20,39.68 L -32.97,47.43 L -34.49,46.11 Z M -26.20,39.68 L -24.99,40.74 L -31.44,48.67 L -32.97,47.43 Z M -24.99,40.74 L -23.78,41.74 L -29.91,49.82 L -31.44,48.67 Z M -23.78,41.74 L -22.57,42.67 L -28.38,50.90 L -29.91,49.82 Z M -22.57,42.67 L -21.40,43.50 L -26.84,51.91 L -28.38,50.90 Z M -21.40,43.50 L -20.28,44.22 L -25.25,52.86 L -26.84,51.91 Z M -20.28,44.22 L -19.16,44.86 L -23.63,53.70 L -25.25,52.86 Z M -19.16,44.86 L -18.01,45.42 L -22.02,54.44 L -23.63,53.70 Z M -18.01,45.42 L -16.83,45.94 L -20.41,55.09 L -22.02,54.44 Z M -16.83,45.94 L -15.62,46.40 L -18.82,55.65 L -20.41,55.09 Z M -15.62,46.40 L -14.39,46.82 L -17.24,56.14 L -18.82,55.65 Z M -14.39,46.82 L -13.12,47.20 L -15.70,56.57 L -17.24,56.14 Z M -13.12,47.20 L -11.83,47.55 L -14.18,56.96 L -15.70,56.57 Z M -11.83,47.55 L -10.51,47.88 L -12.69,57.30 L -14.18,56.96 Z M -10.51,47.88 L -9.20,48.19 L -11.21,57.62 L -12.69,57.30 Z M -9.20,48.19 L -7.95,48.45 L -9.70,57.92 L -11.21,57.62 Z M -7.95,48.45 L -6.73,48.66 L -8.17,58.17 L -9.70,57.92 Z M -6.73,48.66 L -5.53,48.82 L -6.65,58.37 L -8.17,58.17 Z M -5.53,48.82 L -4.31,48.95 L -5.14,58.52 L -6.65,58.37 Z M -4.31,48.95 L -3.08,49.04 L -3.64,58.63 L -5.14,58.52 Z M -3.08,49.04 L -1.84,49.09 L -2.14,58.69 L -3.64,58.63 Z M -1.84,49.09 L -0.56,49.12 L -0.64,58.72 L -2.14,58.69 Z M -0.56,49.12 L 0.75,49.11 L 0.87,58.73 L -0.64,58.72 Z M 0.75,49.11 L 2.11,49.07 L 2.39,58.70 L 0.87,58.73 Z M 2.11,49.07 L 3.51,49.01 L 3.91,58.65 L 2.39,58.70 Z M 3.51,49.01 L 4.98,48.93 L 5.46,58.59 L 3.91,58.65 Z M 4.98,48.93 L 6.48,48.84 L 7.06,58.52 L 5.46,58.59 Z M 6.48,48.84 L 7.99,48.73 L 8.71,58.42 L 7.06,58.52 Z M 7.99,48.73 L 9.49,48.59 L 10.41,58.30 L 8.71,58.42 Z M 9.49,48.59 L 10.99,48.42 L 12.14,58.14 L 10.41,58.30 Z M 10.99,48.42 L 12.46,48.20 L 13.90,57.92 L 12.14,58.14 Z M 12.46,48.20 L 13.89,47.94 L 15.69,57.65 L 13.90,57.92 Z M 13.89,47.94 L 15.28,47.64 L 17.48,57.30 L 15.69,57.65 Z M 15.28,47.64 L 16.61,47.28 L 19.29,56.88 L 17.48,57.30 Z M 16.61,47.28 L 17.91,46.85 L 21.05,56.36 L 19.29,56.88 Z M 17.91,46.85 L 19.26,46.34 L 22.76,55.79 L 21.05,56.36 Z M 19.26,46.34 L 20.64,45.77 L 24.45,55.17 L 22.76,55.79 Z M 20.64,45.77 L 22.02,45.15 L 26.15,54.49 L 24.45,55.17 Z M 22.02,45.15 L 23.37,44.48 L 27.86,53.74 L 26.15,54.49 Z M 23.37,44.48 L 24.69,43.77 L 29.56,52.92 L 27.86,53.74 Z M 24.69,43.77 L 25.96,43.02 L 31.25,52.03 L 29.56,52.92 Z M 25.96,43.02 L 27.17,42.23 L 32.91,51.05 L 31.25,52.03 Z M 27.17,42.23 L 28.30,41.40 L 34.53,49.99 L 32.91,51.05 Z M 28.30,41.40 L 29.35,40.55 L 36.10,48.84 L 34.53,49.99 Z M 29.35,40.55 L 30.30,39.68 L 37.61,47.58 L 36.10,48.84 Z M 30.30,39.68 L 31.19,38.75 L 39.04,46.22 L 37.61,47.58 Z M 31.19,38.75 L 32.04,37.73 L 40.38,44.77 L 39.04,46.22 Z M 32.04,37.73 L 32.88,36.62 L 41.63,43.27 L 40.38,44.77 Z M 32.88,36.62 L 33.70,35.43 L 42.79,41.72 L 41.63,43.27 Z M 33.70,35.43 L 34.49,34.17 L 43.88,40.14 L 42.79,41.72 Z M 34.49,34.17 L 35.26,32.85 L 44.90,38.55 L 43.88,40.14 Z M 35.26,32.85 L 35.99,31.48 L 45.86,36.94 L 44.90,38.55 Z M 35.99,31.48 L 36.71,30.07 L 46.76,35.34 L 45.86,36.94 Z M 36.71,30.07 L 37.39,28.65 L 47.61,33.76 L 46.76,35.34 Z M 37.39,28.65 L 38.03,27.25 L 48.43,32.17 L 47.61,33.76 Z M 38.03,27.25 L 38.61,25.89 L 49.24,30.50 L 48.43,32.17 Z M 38.61,25.89 L 39.15,24.49 L 50.00,28.76 L 49.24,30.50 Z M 39.15,24.49 L 39.65,23.03 L 50.71,27.01 L 50.00,28.76 Z M 39.65,23.03 L 40.12,21.53 L 51.36,25.24 L 50.71,27.01 Z M 40.12,21.53 L 40.56,20.01 L 51.96,23.48 L 51.36,25.24 Z M 40.56,20.01 L 40.96,18.48 L 52.51,21.74 L 51.96,23.48 Z M 40.96,18.48 L 41.33,16.97 L 53.02,20.02 L 52.51,21.74 Z M 41.33,16.97 L 41.67,15.49 L 53.47,18.35 L 53.02,20.02 Z M 41.67,15.49 L 41.98,14.06 L 53.88,16.74 L 53.47,18.35 Z M 41.98,14.06 L 42.24,12.74 L 54.25,15.14 L 53.88,16.74 Z M 42.24,12.74 L 42.44,11.54 L 54.57,13.45 L 54.25,15.14 Z M 42.44,11.54 L 42.60,10.30 L 54.81,11.72 L 54.57,13.45 Z M 42.60,10.30 L 42.72,9.01 L 54.98,10.04 L 54.81,11.72 Z M 42.72,9.01 L 42.81,7.70 L 55.09,8.42 L 54.98,10.04 Z M 42.81,7.70 L 42.88,6.40 L 55.16,6.89 L 55.09,8.42 Z M 42.88,6.40 L 42.92,5.14 L 55.20,5.48 L 55.16,6.89 Z M 42.92,5.14 L 42.96,3.96 L 55.22,4.21 L 55.20,5.48 Z M 42.96,3.96 L 42.98,2.85 L 55.24,3.12 L 55.22,4.21 Z M 42.98,2.85 L 43.01,1.84 L 55.25,2.28 L 55.24,3.12 Z M 43.01,1.84 L 43.06,1.02 L 55.29,1.63 L 55.25,2.28 Z" fill="#7a2d3b" stroke="#7a2d3b" stroke-width="2.2" stroke-linejoin="round"/>
<path d="M 45.75,0.13 L 46.09,0.16 L 43.33,13.68 L 43.32,13.65 Z M 46.09,0.16 L 46.50,0.21 L 43.25,13.71 L 43.33,13.68 Z M 46.50,0.21 L 46.72,0.21 L 43.38,13.79 L 43.25,13.71 Z M 46.72,0.21 L 46.82,0.18 L 43.70,13.93 L 43.38,13.79 Z M 46.82,0.18 L 46.90,0.14 L 44.14,14.08 L 43.70,13.93 Z M 46.90,0.14 L 47.03,0.10 L 44.66,14.24 L 44.14,14.08 Z M 47.03,0.10 L 47.27,0.07 L 45.26,14.40 L 44.66,14.24 Z M 47.27,0.07 L 47.64,0.05 L 45.94,14.55 L 45.26,14.40 Z M 47.64,0.05 L 48.17,0.04 L 46.72,14.70 L 45.94,14.55 Z M 48.17,0.04 L 48.91,0.05 L 47.58,14.84 L 46.72,14.70 Z M 48.91,0.05 L 49.88,0.08 L 48.52,14.98 L 47.58,14.84 Z M 49.88,0.08 L 51.01,0.13 L 49.59,15.14 L 48.52,14.98 Z M 51.01,0.13 L 52.22,0.19 L 50.82,15.31 L 49.59,15.14 Z M 52.22,0.19 L 53.52,0.25 L 52.18,15.49 L 50.82,15.31 Z M 53.52,0.25 L 54.89,0.30 L 53.66,15.68 L 52.18,15.49 Z M 54.89,0.30 L 56.32,0.35 L 55.22,15.85 L 53.66,15.68 Z M 56.32,0.35 L 57.78,0.39 L 56.87,16.02 L 55.22,15.85 Z M 57.78,0.39 L 59.26,0.42 L 58.57,16.16 L 56.87,16.02 Z M 59.26,0.42 L 60.74,0.42 L 60.33,16.27 L 58.57,16.16 Z M 60.74,0.42 L 62.20,0.40 L 62.12,16.35 L 60.33,16.27 Z M 62.20,0.40 L 63.79,0.34 L 64.03,16.39 L 62.12,16.35 Z M 63.79,0.34 L 65.64,0.25 L 66.10,16.39 L 64.03,16.39 Z M 65.64,0.25 L 67.67,0.14 L 68.27,16.36 L 66.10,16.39 Z M 67.67,0.14 L 69.78,0.01 L 70.49,16.31 L 68.27,16.36 Z M 69.78,0.01 L 71.91,-0.13 L 72.70,16.25 L 70.49,16.31 Z M 71.91,-0.13 L 73.98,-0.27 L 74.83,16.18 L 72.70,16.25 Z M 73.98,-0.27 L 75.93,-0.41 L 76.80,16.11 L 74.83,16.18 Z M 75.93,-0.41 L 77.68,-0.53 L 78.55,16.05 L 76.80,16.11 Z M 77.68,-0.53 L 79.18,-0.64 L 80.00,16.00 L 78.55,16.05 Z M 79.18,-0.64 L 80.33,-0.71 L 81.10,15.97 L 80.00,16.00 Z" fill="#7a2d3b" stroke="#7a2d3b" stroke-width="2.2" stroke-linejoin="round"/>
<path d="M 43.38,5.91 L 43.20,4.97 L 54.00,2.60 L 54.22,3.41 Z M 43.20,4.97 L 42.99,3.79 L 53.73,1.56 L 54.00,2.60 Z M 42.99,3.79 L 42.78,2.46 L 53.41,0.26 L 53.73,1.56 Z M 42.78,2.46 L 42.54,0.99 L 53.04,-1.23 L 53.41,0.26 Z M 42.54,0.99 L 42.27,-0.57 L 52.62,-2.87 L 53.04,-1.23 Z M 42.27,-0.57 L 41.97,-2.19 L 52.15,-4.61 L 52.62,-2.87 Z M 41.97,-2.19 L 41.63,-3.83 L 51.64,-6.42 L 52.15,-4.61 Z M 41.63,-3.83 L 41.26,-5.45 L 51.07,-8.26 L 51.64,-6.42 Z M 41.26,-5.45 L 40.84,-7.00 L 50.46,-10.11 L 51.07,-8.26 Z M 40.84,-7.00 L 40.38,-8.47 L 49.80,-11.89 L 50.46,-10.11 Z M 40.38,-8.47 L 39.84,-9.96 L 49.10,-13.62 L 49.80,-11.89 Z M 39.84,-9.96 L 39.23,-11.55 L 48.36,-15.36 L 49.10,-13.62 Z M 39.23,-11.55 L 38.55,-13.18 L 47.58,-17.14 L 48.36,-15.36 Z M 38.55,-13.18 L 37.83,-14.84 L 46.76,-18.93 L 47.58,-17.14 Z M 37.83,-14.84 L 37.07,-16.52 L 45.90,-20.73 L 46.76,-18.93 Z M 37.07,-16.52 L 36.27,-18.18 L 45.01,-22.53 L 45.90,-20.73 Z M 36.27,-18.18 L 35.45,-19.82 L 44.10,-24.30 L 45.01,-22.53 Z M 35.45,-19.82 L 34.62,-21.42 L 43.16,-26.03 L 44.10,-24.30 Z M 34.62,-21.42 L 33.79,-22.96 L 42.22,-27.72 L 43.16,-26.03 Z M 33.79,-22.96 L 32.98,-24.39 L 41.24,-29.37 L 42.22,-27.72 Z M 32.98,-24.39 L 32.18,-25.70 L 40.20,-31.00 L 41.24,-29.37 Z M 32.18,-25.70 L 31.33,-26.95 L 39.10,-32.55 L 40.20,-31.00 Z M 31.33,-26.95 L 30.42,-28.19 L 37.98,-34.00 L 39.10,-32.55 Z M 30.42,-28.19 L 29.46,-29.45 L 36.88,-35.38 L 37.98,-34.00 Z M 29.46,-29.45 L 28.45,-30.72 L 35.80,-36.68 L 36.88,-35.38 Z M 28.45,-30.72 L 27.41,-32.02 L 34.76,-37.93 L 35.80,-36.68 Z M 27.41,-32.02 L 26.36,-33.37 L 33.77,-39.14 L 34.76,-37.93 Z M 26.36,-33.37 L 25.31,-34.79 L 32.85,-40.31 L 33.77,-39.14 Z M 25.31,-34.79 L 24.28,-36.28 L 32.01,-41.47 L 32.85,-40.31 Z M 24.28,-36.28 L 23.33,-37.80 L 31.22,-42.68 L 32.01,-41.47 Z M 23.33,-37.80 L 22.48,-39.27 L 30.42,-43.99 L 31.22,-42.68 Z M 22.48,-39.27 L 21.65,-40.70 L 29.60,-45.33 L 30.42,-43.99 Z M 21.65,-40.70 L 20.84,-42.15 L 28.82,-46.65 L 29.60,-45.33 Z M 20.84,-42.15 L 20.04,-43.64 L 28.07,-47.95 L 28.82,-46.65 Z M 20.04,-43.64 L 19.27,-45.17 L 27.37,-49.25 L 28.07,-47.95 Z M 19.27,-45.17 L 18.53,-46.75 L 26.72,-50.54 L 27.37,-49.25 Z M 18.53,-46.75 L 17.83,-48.37 L 26.13,-51.84 L 26.72,-50.54 Z M 17.83,-48.37 L 17.19,-50.05 L 25.59,-53.15 L 26.13,-51.84 Z M 17.19,-50.05 L 16.61,-51.79 L 25.12,-54.47 L 25.59,-53.15 Z M 16.61,-51.79 L 16.10,-53.61 L 24.73,-55.81 L 25.12,-54.47 Z M 16.10,-53.61 L 15.67,-55.55 L 24.40,-57.23 L 24.73,-55.81 Z M 15.67,-55.55 L 15.35,-57.57 L 24.14,-58.80 L 24.40,-57.23 Z M 15.35,-57.57 L 15.11,-59.61 L 23.94,-60.51 L 24.14,-58.80 Z M 15.11,-59.61 L 14.93,-61.66 L 23.79,-62.31 L 23.94,-60.51 Z M 14.93,-61.66 L 14.80,-63.67 L 23.68,-64.14 L 23.79,-62.31 Z M 14.80,-63.67 L 14.71,-65.63 L 23.60,-65.98 L 23.68,-64.14 Z M 14.71,-65.63 L 14.65,-67.49 L 23.54,-67.78 L 23.60,-65.98 Z M 14.65,-67.49 L 14.59,-69.22 L 23.49,-69.50 L 23.54,-67.78 Z M 14.59,-69.22 L 14.54,-70.77 L 23.44,-71.11 L 23.49,-69.50 Z M 14.54,-70.77 L 14.48,-72.13 L 23.38,-72.55 L 23.44,-71.11 Z M 14.48,-72.13 L 14.42,-73.41 L 23.32,-73.76 L 23.38,-72.55 Z M 14.42,-73.41 L 14.38,-74.64 L 23.28,-74.84 L 23.32,-73.76 Z M 14.38,-74.64 L 14.36,-75.76 L 23.27,-75.82 L 23.28,-74.84 Z M 14.36,-75.76 L 14.37,-76.79 L 23.27,-76.71 L 23.27,-75.82 Z M 14.37,-76.79 L 14.38,-77.71 L 23.29,-77.52 L 23.27,-76.71 Z M 14.38,-77.71 L 14.40,-78.53 L 23.31,-78.26 L 23.29,-77.52 Z M 14.40,-78.53 L 14.43,-79.25 L 23.33,-78.93 L 23.31,-78.26 Z M 14.43,-79.25 L 14.45,-79.86 L 23.35,-79.55 L 23.33,-78.93 Z M 14.45,-79.86 L 14.47,-80.34 L 23.37,-80.13 L 23.35,-79.55 Z M 14.47,-80.34 L 14.47,-80.75 L 23.38,-80.62 L 23.37,-80.13 Z" fill="#7a2d3b" stroke="#7a2d3b" stroke-width="2.2" stroke-linejoin="round"/>
<path d="M -14.29,-80.72 L -14.28,-79.26 L -22.81,-79.16 L -22.82,-80.66 Z M -14.28,-79.26 L -14.25,-77.31 L -22.78,-77.18 L -22.81,-79.16 Z M -14.25,-77.31 L -14.21,-74.97 L -22.74,-74.84 L -22.78,-77.18 Z M -14.21,-74.97 L -14.17,-72.35 L -22.70,-72.23 L -22.74,-74.84 Z M -14.17,-72.35 L -14.14,-69.54 L -22.67,-69.45 L -22.70,-72.23 Z M -14.14,-69.54 L -14.11,-66.66 L -22.65,-66.62 L -22.67,-69.45 Z M -14.11,-66.66 L -14.11,-63.80 L -22.64,-63.83 L -22.65,-66.62 Z M -14.11,-63.80 L -14.13,-61.06 L -22.67,-61.19 L -22.64,-63.83 Z M -14.13,-61.06 L -14.19,-58.53 L -22.72,-58.82 L -22.67,-61.19 Z M -14.19,-58.53 L -14.29,-56.34 L -22.81,-56.80 L -22.72,-58.82 Z M -14.29,-56.34 L -14.41,-54.48 L -22.93,-55.04 L -22.81,-56.80 Z M -14.41,-54.48 L -14.53,-52.80 L -23.03,-53.43 L -22.93,-55.04 Z M -14.53,-52.80 L -14.66,-51.23 L -23.14,-52.00 L -23.03,-53.43 Z M -14.66,-51.23 L -14.82,-49.73 L -23.26,-50.71 L -23.14,-52.00 Z M -14.82,-49.73 L -15.02,-48.28 L -23.41,-49.55 L -23.26,-50.71 Z M -15.02,-48.28 L -15.27,-46.84 L -23.59,-48.48 L -23.41,-49.55 Z M -15.27,-46.84 L -15.59,-45.41 L -23.82,-47.46 L -23.59,-48.48 Z M -15.59,-45.41 L -15.98,-43.97 L -24.10,-46.45 L -23.82,-47.46 Z M -15.98,-43.97 L -16.46,-42.52 L -24.46,-45.40 L -24.10,-46.45 Z M -16.46,-42.52 L -17.03,-41.00 L -24.90,-44.31 L -24.46,-45.40 Z M -17.03,-41.00 L -17.72,-39.43 L -25.42,-43.20 L -24.90,-44.31 Z M -17.72,-39.43 L -18.50,-37.89 L -26.03,-42.10 L -25.42,-43.20 Z M -18.50,-37.89 L -19.35,-36.39 L -26.74,-40.98 L -26.03,-42.10 Z M -19.35,-36.39 L -20.24,-34.94 L -27.52,-39.84 L -26.74,-40.98 Z M -20.24,-34.94 L -21.18,-33.53 L -28.38,-38.67 L -27.52,-39.84 Z M -21.18,-33.53 L -22.14,-32.15 L -29.30,-37.48 L -28.38,-38.67 Z M -22.14,-32.15 L -23.11,-30.79 L -30.27,-36.27 L -29.30,-37.48 Z M -23.11,-30.79 L -24.09,-29.46 L -31.29,-35.04 L -30.27,-36.27 Z M -24.09,-29.46 L -25.05,-28.14 L -32.32,-33.77 L -31.29,-35.04 Z M -25.05,-28.14 L -26.03,-26.80 L -33.34,-32.52 L -32.32,-33.77 Z M -26.03,-26.80 L -27.10,-25.40 L -34.34,-31.33 L -33.34,-32.52 Z M -27.10,-25.40 L -28.24,-23.97 L -35.39,-30.16 L -34.34,-31.33 Z M -28.24,-23.97 L -29.41,-22.58 L -36.52,-28.95 L -35.39,-30.16 Z M -29.41,-22.58 L -30.58,-21.22 L -37.70,-27.71 L -36.52,-28.95 Z M -30.58,-21.22 L -31.74,-19.89 L -38.93,-26.45 L -37.70,-27.71 Z M -31.74,-19.89 L -32.87,-18.58 L -40.17,-25.16 L -38.93,-26.45 Z M -32.87,-18.58 L -33.94,-17.30 L -41.41,-23.84 L -40.17,-25.16 Z M -33.94,-17.30 L -34.95,-16.06 L -42.64,-22.48 L -41.41,-23.84 Z M -34.95,-16.06 L -35.86,-14.86 L -43.83,-21.09 L -42.64,-22.48 Z M -35.86,-14.86 L -36.67,-13.71 L -44.97,-19.64 L -43.83,-21.09 Z M -36.67,-13.71 L -37.44,-12.49 L -46.05,-18.14 L -44.97,-19.64 Z M -37.44,-12.49 L -38.22,-11.15 L -47.10,-16.59 L -46.05,-18.14 Z M -38.22,-11.15 L -39.01,-9.73 L -48.10,-15.01 L -47.10,-16.59 Z M -39.01,-9.73 L -39.77,-8.27 L -49.05,-13.44 L -48.10,-15.01 Z M -39.77,-8.27 L -40.51,-6.82 L -49.94,-11.92 L -49.05,-13.44 Z M -40.51,-6.82 L -41.20,-5.41 L -50.77,-10.48 L -49.94,-11.92 Z M -41.20,-5.41 L -41.84,-4.09 L -51.51,-9.16 L -50.77,-10.48 Z M -41.84,-4.09 L -42.42,-2.89 L -52.16,-8.01 L -51.51,-9.16 Z M -42.42,-2.89 L -42.94,-1.84 L -52.69,-7.08 L -52.16,-8.01 Z M -42.94,-1.84 L -43.36,-1.01 L -53.12,-6.37 L -52.69,-7.08 Z" fill="url(#cap1)" stroke="url(#cap1)" stroke-width="0.5" stroke-linejoin="round"/>
<path d="M -79.83,-11.25 L -78.87,-11.12 L -80.56,5.80 L -81.59,5.73 Z M -78.87,-11.12 L -77.62,-10.95 L -79.23,5.89 L -80.56,5.80 Z M -77.62,-10.95 L -76.10,-10.76 L -77.70,5.99 L -79.23,5.89 Z M -76.10,-10.76 L -74.38,-10.54 L -76.00,6.09 L -77.70,5.99 Z M -74.38,-10.54 L -72.51,-10.29 L -74.18,6.21 L -76.00,6.09 Z M -72.51,-10.29 L -70.55,-10.02 L -72.30,6.34 L -74.18,6.21 Z M -70.55,-10.02 L -68.55,-9.74 L -70.41,6.48 L -72.30,6.34 Z M -68.55,-9.74 L -66.56,-9.44 L -68.57,6.64 L -70.41,6.48 Z M -66.56,-9.44 L -64.61,-9.12 L -66.83,6.80 L -68.57,6.64 Z M -64.61,-9.12 L -62.75,-8.78 L -65.27,6.97 L -66.83,6.80 Z M -62.75,-8.78 L -60.94,-8.41 L -63.76,7.18 L -65.27,6.97 Z M -60.94,-8.41 L -59.09,-8.01 L -62.14,7.43 L -63.76,7.18 Z M -59.09,-8.01 L -57.25,-7.57 L -60.45,7.71 L -62.14,7.43 Z M -57.25,-7.57 L -55.43,-7.12 L -58.74,8.02 L -60.45,7.71 Z M -55.43,-7.12 L -53.66,-6.67 L -57.04,8.34 L -58.74,8.02 Z M -53.66,-6.67 L -51.98,-6.22 L -55.38,8.66 L -57.04,8.34 Z M -51.98,-6.22 L -50.41,-5.81 L -53.79,8.96 L -55.38,8.66 Z M -50.41,-5.81 L -48.98,-5.43 L -52.30,9.25 L -53.79,8.96 Z M -48.98,-5.43 L -47.75,-5.10 L -50.94,9.50 L -52.30,9.25 Z M -47.75,-5.10 L -46.74,-4.83 L -49.75,9.70 L -50.94,9.50 Z M -46.74,-4.83 L -45.90,-4.62 L -48.75,9.86 L -49.75,9.70 Z M -45.90,-4.62 L -45.23,-4.44 L -47.94,9.97 L -48.75,9.86 Z M -45.23,-4.44 L -44.70,-4.30 L -47.26,10.04 L -47.94,9.97 Z M -44.70,-4.30 L -44.31,-4.19 L -46.69,10.10 L -47.26,10.04 Z M -44.31,-4.19 L -44.03,-4.10 L -46.21,10.13 L -46.69,10.10 Z M -44.03,-4.10 L -43.83,-4.04 L -45.81,10.15 L -46.21,10.13 Z M -43.83,-4.04 L -43.65,-3.98 L -45.51,10.16 L -45.81,10.15 Z M -43.65,-3.98 L -43.43,-3.92 L -45.31,10.15 L -45.51,10.16 Z M -43.43,-3.92 L -43.13,-3.85 L -45.22,10.14 L -45.31,10.15 Z M -43.13,-3.85 L -42.86,-3.78 L -45.09,10.14 L -45.22,10.14 Z" fill="url(#cap1)" stroke="url(#cap1)" stroke-width="0.5" stroke-linejoin="round"/>
<path d="M -43.48,-3.61 L -43.29,-2.38 L -54.69,-0.81 L -54.86,-1.91 Z M -43.29,-2.38 L -43.09,-0.81 L -54.51,0.62 L -54.69,-0.81 Z M -43.09,-0.81 L -42.86,0.97 L -54.30,2.39 L -54.51,0.62 Z M -42.86,0.97 L -42.61,2.93 L -54.05,4.42 L -54.30,2.39 Z M -42.61,2.93 L -42.33,5.02 L -53.76,6.63 L -54.05,4.42 Z M -42.33,5.02 L -42.00,7.16 L -53.42,8.96 L -53.76,6.63 Z M -42.00,7.16 L -41.64,9.30 L -53.02,11.36 L -53.42,8.96 Z M -41.64,9.30 L -41.25,11.37 L -52.54,13.78 L -53.02,11.36 Z M -41.25,11.37 L -40.81,13.29 L -51.98,16.16 L -52.54,13.78 Z M -40.81,13.29 L -40.33,15.04 L -51.33,18.41 L -51.98,16.16 Z M -40.33,15.04 L -39.78,16.78 L -50.61,20.51 L -51.33,18.41 Z M -39.78,16.78 L -39.15,18.61 L -49.84,22.58 L -50.61,20.51 Z M -39.15,18.61 L -38.48,20.45 L -49.01,24.65 L -49.84,22.58 Z M -38.48,20.45 L -37.76,22.28 L -48.11,26.73 L -49.01,24.65 Z M -37.76,22.28 L -37.00,24.10 L -47.15,28.78 L -48.11,26.73 Z M -37.00,24.10 L -36.19,25.87 L -46.13,30.81 L -47.15,28.78 Z M -36.19,25.87 L -35.36,27.59 L -45.06,32.79 L -46.13,30.81 Z M -35.36,27.59 L -34.49,29.22 L -43.93,34.72 L -45.06,32.79 Z M -34.49,29.22 L -33.61,30.76 L -42.75,36.58 L -43.93,34.72 Z M -33.61,30.76 L -32.70,32.19 L -41.52,38.37 L -42.75,36.58 Z M -32.70,32.19 L -31.76,33.54 L -40.22,40.06 L -41.52,38.37 Z M -31.76,33.54 L -30.74,34.85 L -38.85,41.69 L -40.22,40.06 Z M -30.74,34.85 L -29.67,36.13 L -37.44,43.24 L -38.85,41.69 Z M -29.67,36.13 L -28.55,37.36 L -35.98,44.71 L -37.44,43.24 Z M -28.55,37.36 L -27.39,38.55 L -34.49,46.11 L -35.98,44.71 Z M -27.39,38.55 L -26.20,39.68 L -32.97,47.43 L -34.49,46.11 Z M -26.20,39.68 L -24.99,40.74 L -31.44,48.67 L -32.97,47.43 Z M -24.99,40.74 L -23.78,41.74 L -29.91,49.82 L -31.44,48.67 Z M -23.78,41.74 L -22.57,42.67 L -28.38,50.90 L -29.91,49.82 Z M -22.57,42.67 L -21.40,43.50 L -26.84,51.91 L -28.38,50.90 Z M -21.40,43.50 L -20.28,44.22 L -25.25,52.86 L -26.84,51.91 Z M -20.28,44.22 L -19.16,44.86 L -23.63,53.70 L -25.25,52.86 Z M -19.16,44.86 L -18.01,45.42 L -22.02,54.44 L -23.63,53.70 Z M -18.01,45.42 L -16.83,45.94 L -20.41,55.09 L -22.02,54.44 Z M -16.83,45.94 L -15.62,46.40 L -18.82,55.65 L -20.41,55.09 Z M -15.62,46.40 L -14.39,46.82 L -17.24,56.14 L -18.82,55.65 Z M -14.39,46.82 L -13.12,47.20 L -15.70,56.57 L -17.24,56.14 Z M -13.12,47.20 L -11.83,47.55 L -14.18,56.96 L -15.70,56.57 Z M -11.83,47.55 L -10.51,47.88 L -12.69,57.30 L -14.18,56.96 Z M -10.51,47.88 L -9.20,48.19 L -11.21,57.62 L -12.69,57.30 Z M -9.20,48.19 L -7.95,48.45 L -9.70,57.92 L -11.21,57.62 Z M -7.95,48.45 L -6.73,48.66 L -8.17,58.17 L -9.70,57.92 Z M -6.73,48.66 L -5.53,48.82 L -6.65,58.37 L -8.17,58.17 Z M -5.53,48.82 L -4.31,48.95 L -5.14,58.52 L -6.65,58.37 Z M -4.31,48.95 L -3.08,49.04 L -3.64,58.63 L -5.14,58.52 Z M -3.08,49.04 L -1.84,49.09 L -2.14,58.69 L -3.64,58.63 Z M -1.84,49.09 L -0.56,49.12 L -0.64,58.72 L -2.14,58.69 Z M -0.56,49.12 L 0.75,49.11 L 0.87,58.73 L -0.64,58.72 Z M 0.75,49.11 L 2.11,49.07 L 2.39,58.70 L 0.87,58.73 Z M 2.11,49.07 L 3.51,49.01 L 3.91,58.65 L 2.39,58.70 Z M 3.51,49.01 L 4.98,48.93 L 5.46,58.59 L 3.91,58.65 Z M 4.98,48.93 L 6.48,48.84 L 7.06,58.52 L 5.46,58.59 Z M 6.48,48.84 L 7.99,48.73 L 8.71,58.42 L 7.06,58.52 Z M 7.99,48.73 L 9.49,48.59 L 10.41,58.30 L 8.71,58.42 Z M 9.49,48.59 L 10.99,48.42 L 12.14,58.14 L 10.41,58.30 Z M 10.99,48.42 L 12.46,48.20 L 13.90,57.92 L 12.14,58.14 Z M 12.46,48.20 L 13.89,47.94 L 15.69,57.65 L 13.90,57.92 Z M 13.89,47.94 L 15.28,47.64 L 17.48,57.30 L 15.69,57.65 Z M 15.28,47.64 L 16.61,47.28 L 19.29,56.88 L 17.48,57.30 Z M 16.61,47.28 L 17.91,46.85 L 21.05,56.36 L 19.29,56.88 Z M 17.91,46.85 L 19.26,46.34 L 22.76,55.79 L 21.05,56.36 Z M 19.26,46.34 L 20.64,45.77 L 24.45,55.17 L 22.76,55.79 Z M 20.64,45.77 L 22.02,45.15 L 26.15,54.49 L 24.45,55.17 Z M 22.02,45.15 L 23.37,44.48 L 27.86,53.74 L 26.15,54.49 Z M 23.37,44.48 L 24.69,43.77 L 29.56,52.92 L 27.86,53.74 Z M 24.69,43.77 L 25.96,43.02 L 31.25,52.03 L 29.56,52.92 Z M 25.96,43.02 L 27.17,42.23 L 32.91,51.05 L 31.25,52.03 Z M 27.17,42.23 L 28.30,41.40 L 34.53,49.99 L 32.91,51.05 Z M 28.30,41.40 L 29.35,40.55 L 36.10,48.84 L 34.53,49.99 Z M 29.35,40.55 L 30.30,39.68 L 37.61,47.58 L 36.10,48.84 Z M 30.30,39.68 L 31.19,38.75 L 39.04,46.22 L 37.61,47.58 Z M 31.19,38.75 L 32.04,37.73 L 40.38,44.77 L 39.04,46.22 Z M 32.04,37.73 L 32.88,36.62 L 41.63,43.27 L 40.38,44.77 Z M 32.88,36.62 L 33.70,35.43 L 42.79,41.72 L 41.63,43.27 Z M 33.70,35.43 L 34.49,34.17 L 43.88,40.14 L 42.79,41.72 Z M 34.49,34.17 L 35.26,32.85 L 44.90,38.55 L 43.88,40.14 Z M 35.26,32.85 L 35.99,31.48 L 45.86,36.94 L 44.90,38.55 Z M 35.99,31.48 L 36.71,30.07 L 46.76,35.34 L 45.86,36.94 Z M 36.71,30.07 L 37.39,28.65 L 47.61,33.76 L 46.76,35.34 Z M 37.39,28.65 L 38.03,27.25 L 48.43,32.17 L 47.61,33.76 Z M 38.03,27.25 L 38.61,25.89 L 49.24,30.50 L 48.43,32.17 Z M 38.61,25.89 L 39.15,24.49 L 50.00,28.76 L 49.24,30.50 Z M 39.15,24.49 L 39.65,23.03 L 50.71,27.01 L 50.00,28.76 Z M 39.65,23.03 L 40.12,21.53 L 51.36,25.24 L 50.71,27.01 Z M 40.12,21.53 L 40.56,20.01 L 51.96,23.48 L 51.36,25.24 Z M 40.56,20.01 L 40.96,18.48 L 52.51,21.74 L 51.96,23.48 Z M 40.96,18.48 L 41.33,16.97 L 53.02,20.02 L 52.51,21.74 Z M 41.33,16.97 L 41.67,15.49 L 53.47,18.35 L 53.02,20.02 Z M 41.67,15.49 L 41.98,14.06 L 53.88,16.74 L 53.47,18.35 Z M 41.98,14.06 L 42.24,12.74 L 54.25,15.14 L 53.88,16.74 Z M 42.24,12.74 L 42.44,11.54 L 54.57,13.45 L 54.25,15.14 Z M 42.44,11.54 L 42.60,10.30 L 54.81,11.72 L 54.57,13.45 Z M 42.60,10.30 L 42.72,9.01 L 54.98,10.04 L 54.81,11.72 Z M 42.72,9.01 L 42.81,7.70 L 55.09,8.42 L 54.98,10.04 Z M 42.81,7.70 L 42.88,6.40 L 55.16,6.89 L 55.09,8.42 Z M 42.88,6.40 L 42.92,5.14 L 55.20,5.48 L 55.16,6.89 Z M 42.92,5.14 L 42.96,3.96 L 55.22,4.21 L 55.20,5.48 Z M 42.96,3.96 L 42.98,2.85 L 55.24,3.12 L 55.22,4.21 Z M 42.98,2.85 L 43.01,1.84 L 55.25,2.28 L 55.24,3.12 Z M 43.01,1.84 L 43.06,1.02 L 55.29,1.63 L 55.25,2.28 Z" fill="url(#cap1)" stroke="url(#cap1)" stroke-width="0.5" stroke-linejoin="round"/>
<path d="M 45.75,0.13 L 46.09,0.16 L 43.33,13.68 L 43.32,13.65 Z M 46.09,0.16 L 46.50,0.21 L 43.25,13.71 L 43.33,13.68 Z M 46.50,0.21 L 46.72,0.21 L 43.38,13.79 L 43.25,13.71 Z M 46.72,0.21 L 46.82,0.18 L 43.70,13.93 L 43.38,13.79 Z M 46.82,0.18 L 46.90,0.14 L 44.14,14.08 L 43.70,13.93 Z M 46.90,0.14 L 47.03,0.10 L 44.66,14.24 L 44.14,14.08 Z M 47.03,0.10 L 47.27,0.07 L 45.26,14.40 L 44.66,14.24 Z M 47.27,0.07 L 47.64,0.05 L 45.94,14.55 L 45.26,14.40 Z M 47.64,0.05 L 48.17,0.04 L 46.72,14.70 L 45.94,14.55 Z M 48.17,0.04 L 48.91,0.05 L 47.58,14.84 L 46.72,14.70 Z M 48.91,0.05 L 49.88,0.08 L 48.52,14.98 L 47.58,14.84 Z M 49.88,0.08 L 51.01,0.13 L 49.59,15.14 L 48.52,14.98 Z M 51.01,0.13 L 52.22,0.19 L 50.82,15.31 L 49.59,15.14 Z M 52.22,0.19 L 53.52,0.25 L 52.18,15.49 L 50.82,15.31 Z M 53.52,0.25 L 54.89,0.30 L 53.66,15.68 L 52.18,15.49 Z M 54.89,0.30 L 56.32,0.35 L 55.22,15.85 L 53.66,15.68 Z M 56.32,0.35 L 57.78,0.39 L 56.87,16.02 L 55.22,15.85 Z M 57.78,0.39 L 59.26,0.42 L 58.57,16.16 L 56.87,16.02 Z M 59.26,0.42 L 60.74,0.42 L 60.33,16.27 L 58.57,16.16 Z M 60.74,0.42 L 62.20,0.40 L 62.12,16.35 L 60.33,16.27 Z M 62.20,0.40 L 63.79,0.34 L 64.03,16.39 L 62.12,16.35 Z M 63.79,0.34 L 65.64,0.25 L 66.10,16.39 L 64.03,16.39 Z M 65.64,0.25 L 67.67,0.14 L 68.27,16.36 L 66.10,16.39 Z M 67.67,0.14 L 69.78,0.01 L 70.49,16.31 L 68.27,16.36 Z M 69.78,0.01 L 71.91,-0.13 L 72.70,16.25 L 70.49,16.31 Z M 71.91,-0.13 L 73.98,-0.27 L 74.83,16.18 L 72.70,16.25 Z M 73.98,-0.27 L 75.93,-0.41 L 76.80,16.11 L 74.83,16.18 Z M 75.93,-0.41 L 77.68,-0.53 L 78.55,16.05 L 76.80,16.11 Z M 77.68,-0.53 L 79.18,-0.64 L 80.00,16.00 L 78.55,16.05 Z M 79.18,-0.64 L 80.33,-0.71 L 81.10,15.97 L 80.00,16.00 Z" fill="url(#cap1)" stroke="url(#cap1)" stroke-width="0.5" stroke-linejoin="round"/>
<path d="M 43.38,5.91 L 43.20,4.97 L 54.00,2.60 L 54.22,3.41 Z M 43.20,4.97 L 42.99,3.79 L 53.73,1.56 L 54.00,2.60 Z M 42.99,3.79 L 42.78,2.46 L 53.41,0.26 L 53.73,1.56 Z M 42.78,2.46 L 42.54,0.99 L 53.04,-1.23 L 53.41,0.26 Z M 42.54,0.99 L 42.27,-0.57 L 52.62,-2.87 L 53.04,-1.23 Z M 42.27,-0.57 L 41.97,-2.19 L 52.15,-4.61 L 52.62,-2.87 Z M 41.97,-2.19 L 41.63,-3.83 L 51.64,-6.42 L 52.15,-4.61 Z M 41.63,-3.83 L 41.26,-5.45 L 51.07,-8.26 L 51.64,-6.42 Z M 41.26,-5.45 L 40.84,-7.00 L 50.46,-10.11 L 51.07,-8.26 Z M 40.84,-7.00 L 40.38,-8.47 L 49.80,-11.89 L 50.46,-10.11 Z M 40.38,-8.47 L 39.84,-9.96 L 49.10,-13.62 L 49.80,-11.89 Z M 39.84,-9.96 L 39.23,-11.55 L 48.36,-15.36 L 49.10,-13.62 Z M 39.23,-11.55 L 38.55,-13.18 L 47.58,-17.14 L 48.36,-15.36 Z M 38.55,-13.18 L 37.83,-14.84 L 46.76,-18.93 L 47.58,-17.14 Z M 37.83,-14.84 L 37.07,-16.52 L 45.90,-20.73 L 46.76,-18.93 Z M 37.07,-16.52 L 36.27,-18.18 L 45.01,-22.53 L 45.90,-20.73 Z M 36.27,-18.18 L 35.45,-19.82 L 44.10,-24.30 L 45.01,-22.53 Z M 35.45,-19.82 L 34.62,-21.42 L 43.16,-26.03 L 44.10,-24.30 Z M 34.62,-21.42 L 33.79,-22.96 L 42.22,-27.72 L 43.16,-26.03 Z M 33.79,-22.96 L 32.98,-24.39 L 41.24,-29.37 L 42.22,-27.72 Z M 32.98,-24.39 L 32.18,-25.70 L 40.20,-31.00 L 41.24,-29.37 Z M 32.18,-25.70 L 31.33,-26.95 L 39.10,-32.55 L 40.20,-31.00 Z M 31.33,-26.95 L 30.42,-28.19 L 37.98,-34.00 L 39.10,-32.55 Z M 30.42,-28.19 L 29.46,-29.45 L 36.88,-35.38 L 37.98,-34.00 Z M 29.46,-29.45 L 28.45,-30.72 L 35.80,-36.68 L 36.88,-35.38 Z M 28.45,-30.72 L 27.41,-32.02 L 34.76,-37.93 L 35.80,-36.68 Z M 27.41,-32.02 L 26.36,-33.37 L 33.77,-39.14 L 34.76,-37.93 Z M 26.36,-33.37 L 25.31,-34.79 L 32.85,-40.31 L 33.77,-39.14 Z M 25.31,-34.79 L 24.28,-36.28 L 32.01,-41.47 L 32.85,-40.31 Z M 24.28,-36.28 L 23.33,-37.80 L 31.22,-42.68 L 32.01,-41.47 Z M 23.33,-37.80 L 22.48,-39.27 L 30.42,-43.99 L 31.22,-42.68 Z M 22.48,-39.27 L 21.65,-40.70 L 29.60,-45.33 L 30.42,-43.99 Z M 21.65,-40.70 L 20.84,-42.15 L 28.82,-46.65 L 29.60,-45.33 Z M 20.84,-42.15 L 20.04,-43.64 L 28.07,-47.95 L 28.82,-46.65 Z M 20.04,-43.64 L 19.27,-45.17 L 27.37,-49.25 L 28.07,-47.95 Z M 19.27,-45.17 L 18.53,-46.75 L 26.72,-50.54 L 27.37,-49.25 Z M 18.53,-46.75 L 17.83,-48.37 L 26.13,-51.84 L 26.72,-50.54 Z M 17.83,-48.37 L 17.19,-50.05 L 25.59,-53.15 L 26.13,-51.84 Z M 17.19,-50.05 L 16.61,-51.79 L 25.12,-54.47 L 25.59,-53.15 Z M 16.61,-51.79 L 16.10,-53.61 L 24.73,-55.81 L 25.12,-54.47 Z M 16.10,-53.61 L 15.67,-55.55 L 24.40,-57.23 L 24.73,-55.81 Z M 15.67,-55.55 L 15.35,-57.57 L 24.14,-58.80 L 24.40,-57.23 Z M 15.35,-57.57 L 15.11,-59.61 L 23.94,-60.51 L 24.14,-58.80 Z M 15.11,-59.61 L 14.93,-61.66 L 23.79,-62.31 L 23.94,-60.51 Z M 14.93,-61.66 L 14.80,-63.67 L 23.68,-64.14 L 23.79,-62.31 Z M 14.80,-63.67 L 14.71,-65.63 L 23.60,-65.98 L 23.68,-64.14 Z M 14.71,-65.63 L 14.65,-67.49 L 23.54,-67.78 L 23.60,-65.98 Z M 14.65,-67.49 L 14.59,-69.22 L 23.49,-69.50 L 23.54,-67.78 Z M 14.59,-69.22 L 14.54,-70.77 L 23.44,-71.11 L 23.49,-69.50 Z M 14.54,-70.77 L 14.48,-72.13 L 23.38,-72.55 L 23.44,-71.11 Z M 14.48,-72.13 L 14.42,-73.41 L 23.32,-73.76 L 23.38,-72.55 Z M 14.42,-73.41 L 14.38,-74.64 L 23.28,-74.84 L 23.32,-73.76 Z M 14.38,-74.64 L 14.36,-75.76 L 23.27,-75.82 L 23.28,-74.84 Z M 14.36,-75.76 L 14.37,-76.79 L 23.27,-76.71 L 23.27,-75.82 Z M 14.37,-76.79 L 14.38,-77.71 L 23.29,-77.52 L 23.27,-76.71 Z M 14.38,-77.71 L 14.40,-78.53 L 23.31,-78.26 L 23.29,-77.52 Z M 14.40,-78.53 L 14.43,-79.25 L 23.33,-78.93 L 23.31,-78.26 Z M 14.43,-79.25 L 14.45,-79.86 L 23.35,-79.55 L 23.33,-78.93 Z M 14.45,-79.86 L 14.47,-80.34 L 23.37,-80.13 L 23.35,-79.55 Z M 14.47,-80.34 L 14.47,-80.75 L 23.38,-80.62 L 23.37,-80.13 Z" fill="url(#cap1)" stroke="url(#cap1)" stroke-width="0.5" stroke-linejoin="round"/>
<path d="M -47.31,8.37 L -46.86,9.99 L -46.32,12.17 L -45.68,14.78 L -44.94,17.65 L -44.08,20.64 L -43.12,23.59 L -42.03,26.36 L -40.82,28.78 L -39.48,30.96 L -38.01,33.08 L -36.43,35.12 L -34.73,37.08 L -32.92,38.92 L -31.01,40.63 L -29.00,42.21 L -26.90,43.63 L -24.52,44.88 L -21.78,45.99 L -18.83,46.96 L -15.83,47.80 L -12.94,48.53 L -10.31,49.15 L -8.11,49.68 L -6.49,50.12" fill="none" stroke="#6a6fae" stroke-width="2.2" opacity="0.55" stroke-linecap="round"/>
<path d="M -6.49,51.98 L -4.91,52.00 L -2.78,52.09 L -0.25,52.21 L 2.55,52.30 L 5.50,52.32 L 8.47,52.21 L 11.32,51.93 L 13.92,51.42 L 16.38,50.70 L 18.86,49.81 L 21.34,48.78 L 23.77,47.61 L 26.14,46.31 L 28.40,44.89 L 30.52,43.38 L 32.47,41.77 L 34.29,39.91 L 36.04,37.70 L 37.68,35.29 L 39.20,32.82 L 40.57,30.42 L 41.78,28.24 L 42.80,26.41 L 43.60,25.07" fill="none" stroke="#b86a80" stroke-width="2.2" opacity="0.5" stroke-linecap="round"/>
<path d="M -19.48,-44.51 L -19.95,-43.64 L -20.54,-42.49 L -21.24,-41.11 L -22.03,-39.58 L -22.91,-37.97 L -23.87,-36.35 L -24.90,-34.80 L -25.98,-33.37 L -27.22,-31.98 L -28.69,-30.52 L -30.30,-29.03 L -31.95,-27.58 L -33.54,-26.21 L -35.00,-24.98 L -36.22,-23.95 L -37.11,-23.17" fill="none" stroke="#2d4f93" stroke-width="2.1" stroke-linecap="round"/><path d="M -40.00,-20.70 L -36.93,-28.82 L -35.66,-24.40 L -31.50,-22.45 Z" fill="#2d4f93"/>
<path d="M 43.98,-10.18 L 43.46,-11.12 L 42.80,-12.38 L 42.01,-13.89 L 41.12,-15.55 L 40.16,-17.30 L 39.16,-19.05 L 38.13,-20.72 L 37.11,-22.24 L 36.00,-23.71 L 34.74,-25.24 L 33.40,-26.78 L 32.04,-28.28 L 30.74,-29.69 L 29.56,-30.95 L 28.57,-32.01 L 27.83,-32.82" fill="none" stroke="#8a2530" stroke-width="2.1" stroke-linecap="round"/><path d="M 25.25,-35.60 L 33.48,-32.88 L 29.13,-31.43 L 27.36,-27.19 Z" fill="#8a2530"/>
<path d="M 54.74,13.94 L 55.38,13.65 L 56.25,13.25 L 57.27,12.77 L 58.41,12.25 L 59.62,11.70 L 60.83,11.17 L 62.00,10.66 L 63.09,10.23 L 64.16,9.83 L 65.29,9.44 L 66.46,9.06 L 67.60,8.70 L 68.67,8.37 L 69.64,8.07 L 70.45,7.82 L 71.07,7.63" fill="none" stroke="#8a2530" stroke-width="2.1" stroke-linecap="round"/><path d="M 74.70,6.51 L 68.66,12.74 L 69.25,8.19 L 66.21,4.75 Z" fill="#8a2530"/>
<path d="M -11.69,-95 L -11.69,-44.51 C -11.69,-35.51 -15.49,-27.93 -22.47,-22.24 A 34.70 34.70 0 1 0 21.35,-22.24 C 14.38,-27.93 10.95,-35.51 10.95,-44.51 L 10.95,-95 Z" fill="#cabfe3" stroke="#a9675a" stroke-width="6.0"/>
<path d="M -11.69,-95 L -11.69,-44.51 C -11.69,-35.51 -15.49,-27.93 -22.47,-22.24 A 34.70 34.70 0 1 0 21.35,-22.24 C 14.38,-27.93 10.95,-35.51 10.95,-44.51 L 10.95,-95 Z" fill="none" stroke="#f6d47a" stroke-width="4.4"/>
</g>
<circle cx="0" cy="0" r="75.3" fill="none" stroke="#080808" stroke-width="3.2"/>
</g>
<g transform="translate(393.7,530.4)">
<circle cx="0" cy="0" r="75" fill="url(#circBg)"/>
<g clip-path="url(#cclip)">
<path d="M -17.72,-81.71 L -17.71,-80.25 L -27.92,-80.18 L -27.92,-81.67 Z M -17.71,-80.25 L -17.70,-78.31 L -27.90,-78.22 L -27.92,-80.18 Z M -17.70,-78.31 L -17.68,-75.99 L -27.87,-75.90 L -27.90,-78.22 Z M -17.68,-75.99 L -17.66,-73.39 L -27.84,-73.31 L -27.87,-75.90 Z M -17.66,-73.39 L -17.64,-70.61 L -27.81,-70.55 L -27.84,-73.31 Z M -17.64,-70.61 L -17.63,-67.75 L -27.80,-67.72 L -27.81,-70.55 Z M -17.63,-67.75 L -17.63,-64.90 L -27.79,-64.92 L -27.80,-67.72 Z M -17.63,-64.90 L -17.64,-62.16 L -27.81,-62.26 L -27.79,-64.92 Z M -17.64,-62.16 L -17.67,-59.62 L -27.85,-59.83 L -27.81,-62.26 Z M -17.67,-59.62 L -17.72,-57.41 L -27.92,-57.72 L -27.85,-59.83 Z M -17.72,-57.41 L -17.77,-55.52 L -28.00,-55.83 L -27.92,-57.72 Z M -17.77,-55.52 L -17.80,-53.78 L -28.06,-54.06 L -28.00,-55.83 Z M -17.80,-53.78 L -17.83,-52.12 L -28.12,-52.44 L -28.06,-54.06 Z M -17.83,-52.12 L -17.87,-50.50 L -28.20,-50.97 L -28.12,-52.44 Z M -17.87,-50.50 L -17.93,-48.92 L -28.29,-49.61 L -28.20,-50.97 Z M -17.93,-48.92 L -18.03,-47.33 L -28.42,-48.37 L -28.29,-49.61 Z M -18.03,-47.33 L -18.19,-45.73 L -28.59,-47.21 L -28.42,-48.37 Z M -18.19,-45.73 L -18.42,-44.11 L -28.81,-46.11 L -28.59,-47.21 Z M -18.42,-44.11 L -18.74,-42.45 L -29.09,-45.04 L -28.81,-46.11 Z M -18.74,-42.45 L -19.17,-40.75 L -29.44,-43.96 L -29.09,-45.04 Z M -19.17,-40.75 L -19.71,-39.02 L -29.86,-42.90 L -29.44,-43.96 Z M -19.71,-39.02 L -20.34,-37.36 L -30.36,-41.87 L -29.86,-42.90 Z M -20.34,-37.36 L -21.03,-35.76 L -30.94,-40.82 L -30.36,-41.87 Z M -21.03,-35.76 L -21.78,-34.23 L -31.60,-39.76 L -30.94,-40.82 Z M -21.78,-34.23 L -22.55,-32.77 L -32.33,-38.67 L -31.60,-39.76 Z M -22.55,-32.77 L -23.33,-31.35 L -33.11,-37.55 L -32.33,-38.67 Z M -23.33,-31.35 L -24.12,-29.98 L -33.96,-36.40 L -33.11,-37.55 Z M -24.12,-29.98 L -24.90,-28.65 L -34.85,-35.20 L -33.96,-36.40 Z M -24.90,-28.65 L -25.65,-27.36 L -35.77,-33.95 L -34.85,-35.20 Z M -25.65,-27.36 L -26.42,-26.02 L -36.67,-32.71 L -35.77,-33.95 Z M -26.42,-26.02 L -27.27,-24.57 L -37.53,-31.56 L -36.67,-32.71 Z M -27.27,-24.57 L -28.19,-23.10 L -38.43,-30.44 L -37.53,-31.56 Z M -28.19,-23.10 L -29.13,-21.66 L -39.39,-29.28 L -38.43,-30.44 Z M -29.13,-21.66 L -30.07,-20.26 L -40.41,-28.08 L -39.39,-29.28 Z M -30.07,-20.26 L -30.99,-18.90 L -41.46,-26.85 L -40.41,-28.08 Z M -30.99,-18.90 L -31.88,-17.57 L -42.55,-25.58 L -41.46,-26.85 Z M -31.88,-17.57 L -32.71,-16.28 L -43.64,-24.27 L -42.55,-25.58 Z M -32.71,-16.28 L -33.49,-15.04 L -44.73,-22.91 L -43.64,-24.27 Z M -33.49,-15.04 L -34.18,-13.85 L -45.81,-21.50 L -44.73,-22.91 Z M -34.18,-13.85 L -34.80,-12.71 L -46.84,-20.04 L -45.81,-21.50 Z M -34.80,-12.71 L -35.38,-11.51 L -47.84,-18.53 L -46.84,-20.04 Z M -35.38,-11.51 L -36.00,-10.17 L -48.80,-16.97 L -47.84,-18.53 Z M -36.00,-10.17 L -36.61,-8.74 L -49.74,-15.40 L -48.80,-16.97 Z M -36.61,-8.74 L -37.22,-7.27 L -50.63,-13.84 L -49.74,-15.40 Z M -37.22,-7.27 L -37.81,-5.81 L -51.48,-12.33 L -50.63,-13.84 Z M -37.81,-5.81 L -38.37,-4.39 L -52.27,-10.90 L -51.48,-12.33 Z M -38.37,-4.39 L -38.88,-3.06 L -52.98,-9.60 L -52.27,-10.90 Z M -38.88,-3.06 L -39.36,-1.84 L -53.59,-8.47 L -52.98,-9.60 Z M -39.36,-1.84 L -39.78,-0.76 L -54.10,-7.56 L -53.59,-8.47 Z M -39.78,-0.76 L -40.13,0.09 L -54.50,-6.86 L -54.10,-7.56 Z" fill="#7a2d3b" stroke="#7a2d3b" stroke-width="2.2" stroke-linejoin="round"/>
<path d="M -79.94,-11.52 L -78.97,-11.42 L -80.46,7.03 L -81.48,6.97 Z M -78.97,-11.42 L -77.71,-11.29 L -79.14,7.11 L -80.46,7.03 Z M -77.71,-11.29 L -76.19,-11.15 L -77.61,7.20 L -79.14,7.11 Z M -76.19,-11.15 L -74.47,-10.98 L -75.91,7.29 L -77.61,7.20 Z M -74.47,-10.98 L -72.61,-10.79 L -74.09,7.40 L -75.91,7.29 Z M -72.61,-10.79 L -70.65,-10.59 L -72.20,7.52 L -74.09,7.40 Z M -70.65,-10.59 L -68.66,-10.37 L -70.30,7.64 L -72.20,7.52 Z M -68.66,-10.37 L -66.67,-10.14 L -68.45,7.77 L -70.30,7.64 Z M -66.67,-10.14 L -64.74,-9.89 L -66.70,7.91 L -68.45,7.77 Z M -64.74,-9.89 L -62.90,-9.63 L -65.12,8.05 L -66.70,7.91 Z M -62.90,-9.63 L -61.11,-9.34 L -63.59,8.20 L -65.12,8.05 Z M -61.11,-9.34 L -59.30,-9.02 L -61.98,8.39 L -63.59,8.20 Z M -59.30,-9.02 L -57.48,-8.67 L -60.30,8.60 L -61.98,8.39 Z M -57.48,-8.67 L -55.69,-8.32 L -58.61,8.83 L -60.30,8.60 Z M -55.69,-8.32 L -53.94,-7.96 L -56.92,9.06 L -58.61,8.83 Z M -53.94,-7.96 L -52.27,-7.60 L -55.27,9.30 L -56.92,9.06 Z M -52.27,-7.60 L -50.70,-7.26 L -53.68,9.52 L -55.27,9.30 Z M -50.70,-7.26 L -49.27,-6.95 L -52.19,9.73 L -53.68,9.52 Z M -49.27,-6.95 L -48.01,-6.67 L -50.80,9.91 L -52.19,9.73 Z M -48.01,-6.67 L -46.93,-6.44 L -49.55,10.05 L -50.80,9.91 Z M -46.93,-6.44 L -46.01,-6.24 L -48.48,10.16 L -49.55,10.05 Z M -46.01,-6.24 L -45.22,-6.06 L -47.55,10.23 L -48.48,10.16 Z M -45.22,-6.06 L -44.54,-5.90 L -46.75,10.28 L -47.55,10.23 Z M -44.54,-5.90 L -43.98,-5.76 L -46.05,10.31 L -46.75,10.28 Z M -43.98,-5.76 L -43.50,-5.64 L -45.44,10.32 L -46.05,10.31 Z M -43.50,-5.64 L -43.10,-5.53 L -44.93,10.32 L -45.44,10.32 Z M -43.10,-5.53 L -42.73,-5.43 L -44.50,10.31 L -44.93,10.32 Z M -42.73,-5.43 L -42.39,-5.34 L -44.15,10.30 L -44.50,10.31 Z M -42.39,-5.34 L -42.03,-5.26 L -43.89,10.28 L -44.15,10.30 Z M -42.03,-5.26 L -41.70,-5.18 L -43.65,10.28 L -43.89,10.28 Z" fill="#7a2d3b" stroke="#7a2d3b" stroke-width="2.2" stroke-linejoin="round"/>
<path d="M -41.07,-0.99 L -40.88,0.46 L -54.87,2.15 L -55.04,0.89 Z M -40.88,0.46 L -40.68,2.32 L -54.68,3.83 L -54.87,2.15 Z M -40.68,2.32 L -40.47,4.44 L -54.44,5.93 L -54.68,3.83 Z M -40.47,4.44 L -40.23,6.76 L -54.17,8.32 L -54.44,5.93 Z M -40.23,6.76 L -39.96,9.20 L -53.86,10.93 L -54.17,8.32 Z M -39.96,9.20 L -39.64,11.68 L -53.49,13.66 L -53.86,10.93 Z M -39.64,11.68 L -39.26,14.10 L -53.06,16.44 L -53.49,13.66 Z M -39.26,14.10 L -38.84,16.36 L -52.55,19.21 L -53.06,16.44 Z M -38.84,16.36 L -38.36,18.34 L -51.94,21.92 L -52.55,19.21 Z M -38.36,18.34 L -37.84,19.99 L -51.22,24.45 L -51.94,21.92 Z M -37.84,19.99 L -37.23,21.50 L -50.42,26.73 L -51.22,24.45 Z M -37.23,21.50 L -36.52,23.03 L -49.57,28.88 L -50.42,26.73 Z M -36.52,23.03 L -35.75,24.50 L -48.65,30.97 L -49.57,28.88 Z M -35.75,24.50 L -34.92,25.92 L -47.67,33.00 L -48.65,30.97 Z M -34.92,25.92 L -34.03,27.27 L -46.61,34.97 L -47.67,33.00 Z M -34.03,27.27 L -33.09,28.58 L -45.49,36.88 L -46.61,34.97 Z M -33.09,28.58 L -32.12,29.82 L -44.31,38.72 L -45.49,36.88 Z M -32.12,29.82 L -31.10,31.02 L -43.07,40.49 L -44.31,38.72 Z M -31.10,31.02 L -30.05,32.16 L -41.77,42.20 L -43.07,40.49 Z M -30.05,32.16 L -28.99,33.24 L -40.40,43.85 L -41.77,42.20 Z M -28.99,33.24 L -27.91,34.24 L -38.93,45.47 L -40.40,43.85 Z M -27.91,34.24 L -26.79,35.18 L -37.38,47.04 L -38.93,45.47 Z M -26.79,35.18 L -25.60,36.08 L -35.76,48.52 L -37.38,47.04 Z M -25.60,36.08 L -24.36,36.95 L -34.09,49.93 L -35.76,48.52 Z M -24.36,36.95 L -23.08,37.77 L -32.37,51.26 L -34.09,49.93 Z M -23.08,37.77 L -21.76,38.55 L -30.62,52.52 L -32.37,51.26 Z M -21.76,38.55 L -20.42,39.27 L -28.83,53.69 L -30.62,52.52 Z M -20.42,39.27 L -19.07,39.95 L -27.02,54.79 L -28.83,53.69 Z M -19.07,39.95 L -17.71,40.58 L -25.19,55.80 L -27.02,54.79 Z M -17.71,40.58 L -16.40,41.13 L -23.31,56.74 L -25.19,55.80 Z M -16.40,41.13 L -15.13,41.61 L -21.34,57.61 L -23.31,56.74 Z M -15.13,41.61 L -13.83,42.03 L -19.32,58.39 L -21.34,57.61 Z M -13.83,42.03 L -12.48,42.41 L -17.29,59.05 L -19.32,58.39 Z M -12.48,42.41 L -11.07,42.76 L -15.26,59.63 L -17.29,59.05 Z M -11.07,42.76 L -9.62,43.06 L -13.25,60.12 L -15.26,59.63 Z M -9.62,43.06 L -8.13,43.33 L -11.25,60.54 L -13.25,60.12 Z M -8.13,43.33 L -6.62,43.56 L -9.27,60.89 L -11.25,60.54 Z M -6.62,43.56 L -5.09,43.75 L -7.33,61.18 L -9.27,60.89 Z M -5.09,43.75 L -3.55,43.92 L -5.42,61.42 L -7.33,61.18 Z M -3.55,43.92 L -2.01,44.05 L -3.55,61.61 L -5.42,61.42 Z M -2.01,44.05 L -0.50,44.16 L -1.69,61.77 L -3.55,61.61 Z M -0.50,44.16 L 0.99,44.24 L 0.20,61.88 L -1.69,61.77 Z M 0.99,44.24 L 2.44,44.29 L 2.11,61.94 L 0.20,61.88 Z M 2.44,44.29 L 3.87,44.30 L 4.05,61.94 L 2.11,61.94 Z M 3.87,44.30 L 5.26,44.28 L 6.01,61.89 L 4.05,61.94 Z M 5.26,44.28 L 6.61,44.20 L 8.00,61.76 L 6.01,61.89 Z M 6.61,44.20 L 7.94,44.08 L 10.00,61.56 L 8.00,61.76 Z M 7.94,44.08 L 9.23,43.90 L 12.03,61.28 L 10.00,61.56 Z M 9.23,43.90 L 10.49,43.67 L 14.07,60.90 L 12.03,61.28 Z M 10.49,43.67 L 11.73,43.37 L 16.10,60.44 L 14.07,60.90 Z M 11.73,43.37 L 13.03,42.98 L 18.10,59.91 L 16.10,60.44 Z M 13.03,42.98 L 14.37,42.52 L 20.09,59.30 L 18.10,59.91 Z M 14.37,42.52 L 15.73,41.99 L 22.07,58.62 L 20.09,59.30 Z M 15.73,41.99 L 17.08,41.40 L 24.05,57.87 L 22.07,58.62 Z M 17.08,41.40 L 18.43,40.76 L 26.01,57.05 L 24.05,57.87 Z M 18.43,40.76 L 19.75,40.08 L 27.95,56.14 L 26.01,57.05 Z M 19.75,40.08 L 21.03,39.35 L 29.86,55.16 L 27.95,56.14 Z M 21.03,39.35 L 22.26,38.61 L 31.73,54.10 L 29.86,55.16 Z M 22.26,38.61 L 23.42,37.84 L 33.55,52.96 L 31.73,54.10 Z M 23.42,37.84 L 24.51,37.08 L 35.31,51.72 L 33.55,52.96 Z M 24.51,37.08 L 25.55,36.29 L 37.02,50.38 L 35.31,51.72 Z M 25.55,36.29 L 26.60,35.42 L 38.66,48.96 L 37.02,50.38 Z M 26.60,35.42 L 27.65,34.47 L 40.22,47.47 L 38.66,48.96 Z M 27.65,34.47 L 28.71,33.46 L 41.71,45.93 L 40.22,47.47 Z M 28.71,33.46 L 29.75,32.40 L 43.11,44.35 L 41.71,45.93 Z M 29.75,32.40 L 30.76,31.29 L 44.44,42.74 L 43.11,44.35 Z M 30.76,31.29 L 31.74,30.16 L 45.70,41.11 L 44.44,42.74 Z M 31.74,30.16 L 32.67,29.02 L 46.88,39.47 L 45.70,41.11 Z M 32.67,29.02 L 33.56,27.87 L 47.99,37.82 L 46.88,39.47 Z M 33.56,27.87 L 34.36,26.76 L 49.03,36.16 L 47.99,37.82 Z M 34.36,26.76 L 35.08,25.69 L 50.02,34.45 L 49.03,36.16 Z M 35.08,25.69 L 35.75,24.61 L 50.93,32.69 L 50.02,34.45 Z M 35.75,24.61 L 36.39,23.50 L 51.75,30.93 L 50.93,32.69 Z M 36.39,23.50 L 36.99,22.36 L 52.49,29.16 L 51.75,30.93 Z M 36.99,22.36 L 37.55,21.19 L 53.16,27.39 L 52.49,29.16 Z M 37.55,21.19 L 38.08,19.99 L 53.75,25.63 L 53.16,27.39 Z M 38.08,19.99 L 38.58,18.77 L 54.27,23.88 L 53.75,25.63 Z M 38.58,18.77 L 39.03,17.54 L 54.73,22.13 L 54.27,23.88 Z M 39.03,17.54 L 39.46,16.28 L 55.13,20.41 L 54.73,22.13 Z M 39.46,16.28 L 39.83,15.12 L 55.50,18.60 L 55.13,20.41 Z M 39.83,15.12 L 40.14,14.00 L 55.80,16.61 L 55.50,18.60 Z M 40.14,14.00 L 40.40,12.74 L 56.00,14.54 L 55.80,16.61 Z M 40.40,12.74 L 40.63,11.30 L 56.09,12.51 L 56.00,14.54 Z M 40.63,11.30 L 40.83,9.76 L 56.12,10.54 L 56.09,12.51 Z M 40.83,9.76 L 40.99,8.18 L 56.10,8.66 L 56.12,10.54 Z M 40.99,8.18 L 41.12,6.63 L 56.04,6.91 L 56.10,8.66 Z M 41.12,6.63 L 41.22,5.15 L 55.97,5.32 L 56.04,6.91 Z M 41.22,5.15 L 41.32,3.77 L 55.91,3.96 L 55.97,5.32 Z M 41.32,3.77 L 41.41,2.51 L 55.86,2.91 L 55.91,3.96 Z M 41.41,2.51 L 41.50,1.51 L 55.84,2.11 L 55.86,2.91 Z" fill="#7a2d3b" stroke="#7a2d3b" stroke-width="2.2" stroke-linejoin="round"/>
<path d="M 41.08,4.30 L 41.12,4.26 L 45.74,21.52 L 45.39,21.58 Z M 41.12,4.26 L 41.09,4.22 L 46.15,21.45 L 45.74,21.52 Z M 41.09,4.22 L 41.25,4.12 L 46.39,21.43 L 46.15,21.45 Z M 41.25,4.12 L 41.57,3.96 L 46.54,21.45 L 46.39,21.43 Z M 41.57,3.96 L 42.02,3.78 L 46.67,21.48 L 46.54,21.45 Z M 42.02,3.78 L 42.56,3.58 L 46.86,21.48 L 46.67,21.48 Z M 42.56,3.58 L 43.19,3.39 L 47.16,21.46 L 46.86,21.48 Z M 43.19,3.39 L 43.90,3.21 L 47.59,21.40 L 47.16,21.46 Z M 43.90,3.21 L 44.74,3.04 L 48.17,21.30 L 47.59,21.40 Z M 44.74,3.04 L 45.68,2.88 L 48.95,21.14 L 48.17,21.30 Z M 45.68,2.88 L 46.75,2.73 L 49.95,20.93 L 48.95,21.14 Z M 46.75,2.73 L 47.96,2.59 L 51.11,20.65 L 49.95,20.93 Z M 47.96,2.59 L 49.32,2.44 L 52.40,20.34 L 51.11,20.65 Z M 49.32,2.44 L 50.80,2.29 L 53.80,20.00 L 52.40,20.34 Z M 50.80,2.29 L 52.38,2.14 L 55.29,19.63 L 53.80,20.00 Z M 52.38,2.14 L 54.03,1.99 L 56.84,19.26 L 55.29,19.63 Z M 54.03,1.99 L 55.75,1.83 L 58.44,18.89 L 56.84,19.26 Z M 55.75,1.83 L 57.49,1.67 L 60.07,18.52 L 58.44,18.89 Z M 57.49,1.67 L 59.26,1.50 L 61.70,18.18 L 60.07,18.52 Z M 59.26,1.50 L 61.01,1.33 L 63.30,17.87 L 61.70,18.18 Z M 61.01,1.33 L 62.87,1.15 L 65.02,17.57 L 63.30,17.87 Z M 62.87,1.15 L 64.91,0.95 L 66.95,17.26 L 65.02,17.57 Z M 64.91,0.95 L 67.06,0.75 L 69.02,16.95 L 66.95,17.26 Z M 67.06,0.75 L 69.25,0.54 L 71.16,16.64 L 69.02,16.95 Z M 69.25,0.54 L 71.43,0.33 L 73.30,16.34 L 71.16,16.64 Z M 71.43,0.33 L 73.53,0.13 L 75.37,16.06 L 73.30,16.34 Z M 73.53,0.13 L 75.49,-0.05 L 77.30,15.80 L 75.37,16.06 Z M 75.49,-0.05 L 77.23,-0.22 L 79.04,15.56 L 77.30,15.80 Z M 77.23,-0.22 L 78.68,-0.35 L 80.51,15.36 L 79.04,15.56 Z M 78.68,-0.35 L 79.79,-0.46 L 81.63,15.21 L 80.51,15.36 Z" fill="#7a2d3b" stroke="#7a2d3b" stroke-width="2.2" stroke-linejoin="round"/>
<path d="M 40.67,6.25 L 40.59,5.14 L 54.57,3.92 L 54.70,4.79 Z M 40.59,5.14 L 40.54,3.75 L 54.44,2.79 L 54.57,3.92 Z M 40.54,3.75 L 40.50,2.25 L 54.29,1.32 L 54.44,2.79 Z M 40.50,2.25 L 40.45,0.63 L 54.11,-0.40 L 54.29,1.32 Z M 40.45,0.63 L 40.37,-1.08 L 53.89,-2.31 L 54.11,-0.40 Z M 40.37,-1.08 L 40.27,-2.83 L 53.61,-4.36 L 53.89,-2.31 Z M 40.27,-2.83 L 40.11,-4.57 L 53.27,-6.50 L 53.61,-4.36 Z M 40.11,-4.57 L 39.89,-6.26 L 52.84,-8.70 L 53.27,-6.50 Z M 39.89,-6.26 L 39.61,-7.82 L 52.31,-10.93 L 52.84,-8.70 Z M 39.61,-7.82 L 39.26,-9.26 L 51.66,-13.11 L 52.31,-10.93 Z M 39.26,-9.26 L 38.78,-10.76 L 50.92,-15.17 L 51.66,-13.11 Z M 38.78,-10.76 L 38.17,-12.40 L 50.11,-17.21 L 50.92,-15.17 Z M 38.17,-12.40 L 37.47,-14.12 L 49.22,-19.26 L 50.11,-17.21 Z M 37.47,-14.12 L 36.70,-15.89 L 48.28,-21.31 L 49.22,-19.26 Z M 36.70,-15.89 L 35.85,-17.67 L 47.27,-23.34 L 48.28,-21.31 Z M 35.85,-17.67 L 34.96,-19.44 L 46.23,-25.35 L 47.27,-23.34 Z M 34.96,-19.44 L 34.04,-21.17 L 45.16,-27.32 L 46.23,-25.35 Z M 34.04,-21.17 L 33.10,-22.85 L 44.07,-29.22 L 45.16,-27.32 Z M 33.10,-22.85 L 32.17,-24.46 L 42.96,-31.04 L 44.07,-29.22 Z M 32.17,-24.46 L 31.30,-25.87 L 41.81,-32.86 L 42.96,-31.04 Z M 31.30,-25.87 L 30.50,-27.04 L 40.48,-34.69 L 41.81,-32.86 Z M 30.50,-27.04 L 29.63,-28.12 L 39.04,-36.40 L 40.48,-34.69 Z M 29.63,-28.12 L 28.61,-29.23 L 37.60,-37.92 L 39.04,-36.40 Z M 28.61,-29.23 L 27.49,-30.38 L 36.22,-39.27 L 37.60,-37.92 Z M 27.49,-30.38 L 26.26,-31.60 L 34.93,-40.49 L 36.22,-39.27 Z M 26.26,-31.60 L 24.97,-32.89 L 33.76,-41.60 L 34.93,-40.49 Z M 24.97,-32.89 L 23.64,-34.30 L 32.77,-42.61 L 33.76,-41.60 Z M 23.64,-34.30 L 22.31,-35.87 L 31.96,-43.52 L 32.77,-42.61 Z M 22.31,-35.87 L 21.04,-37.66 L 31.35,-44.32 L 31.96,-43.52 Z M 21.04,-37.66 L 19.96,-39.59 L 30.88,-45.12 L 31.35,-44.32 Z M 19.96,-39.59 L 19.13,-41.47 L 30.47,-46.02 L 30.88,-45.12 Z M 19.13,-41.47 L 18.51,-43.26 L 30.12,-46.97 L 30.47,-46.02 Z M 18.51,-43.26 L 18.02,-45.03 L 29.84,-47.92 L 30.12,-46.97 Z M 18.02,-45.03 L 17.67,-46.77 L 29.62,-48.94 L 29.84,-47.92 Z M 17.67,-46.77 L 17.41,-48.48 L 29.44,-50.05 L 29.62,-48.94 Z M 17.41,-48.48 L 17.24,-50.17 L 29.30,-51.30 L 29.44,-50.05 Z M 17.24,-50.17 L 17.11,-51.85 L 29.18,-52.71 L 29.30,-51.30 Z M 17.11,-51.85 L 17.01,-53.56 L 29.07,-54.28 L 29.18,-52.71 Z M 17.01,-53.56 L 16.91,-55.32 L 28.96,-56.03 L 29.07,-54.28 Z M 16.91,-55.32 L 16.80,-57.24 L 28.84,-57.90 L 28.96,-56.03 Z M 16.80,-57.24 L 16.70,-59.51 L 28.74,-59.94 L 28.84,-57.90 Z M 16.70,-59.51 L 16.63,-62.11 L 28.68,-62.31 L 28.74,-59.94 Z M 16.63,-62.11 L 16.61,-64.89 L 28.66,-64.93 L 28.68,-62.31 Z M 16.61,-64.89 L 16.61,-67.76 L 28.66,-67.70 L 28.66,-64.93 Z M 16.61,-67.76 L 16.64,-70.65 L 28.69,-70.51 L 28.66,-67.70 Z M 16.64,-70.65 L 16.67,-73.44 L 28.72,-73.26 L 28.69,-70.51 Z M 16.67,-73.44 L 16.72,-76.05 L 28.77,-75.84 L 28.72,-73.26 Z M 16.72,-76.05 L 16.75,-78.37 L 28.81,-78.17 L 28.77,-75.84 Z M 16.75,-78.37 L 16.78,-80.29 L 28.84,-80.14 L 28.81,-78.17 Z M 16.78,-80.29 L 16.79,-81.74 L 28.85,-81.64 L 28.84,-80.14 Z" fill="#7a2d3b" stroke="#7a2d3b" stroke-width="2.2" stroke-linejoin="round"/>
<path d="M -17.72,-81.71 L -17.71,-80.25 L -27.92,-80.18 L -27.92,-81.67 Z M -17.71,-80.25 L -17.70,-78.31 L -27.90,-78.22 L -27.92,-80.18 Z M -17.70,-78.31 L -17.68,-75.99 L -27.87,-75.90 L -27.90,-78.22 Z M -17.68,-75.99 L -17.66,-73.39 L -27.84,-73.31 L -27.87,-75.90 Z M -17.66,-73.39 L -17.64,-70.61 L -27.81,-70.55 L -27.84,-73.31 Z M -17.64,-70.61 L -17.63,-67.75 L -27.80,-67.72 L -27.81,-70.55 Z M -17.63,-67.75 L -17.63,-64.90 L -27.79,-64.92 L -27.80,-67.72 Z M -17.63,-64.90 L -17.64,-62.16 L -27.81,-62.26 L -27.79,-64.92 Z M -17.64,-62.16 L -17.67,-59.62 L -27.85,-59.83 L -27.81,-62.26 Z M -17.67,-59.62 L -17.72,-57.41 L -27.92,-57.72 L -27.85,-59.83 Z M -17.72,-57.41 L -17.77,-55.52 L -28.00,-55.83 L -27.92,-57.72 Z M -17.77,-55.52 L -17.80,-53.78 L -28.06,-54.06 L -28.00,-55.83 Z M -17.80,-53.78 L -17.83,-52.12 L -28.12,-52.44 L -28.06,-54.06 Z M -17.83,-52.12 L -17.87,-50.50 L -28.20,-50.97 L -28.12,-52.44 Z M -17.87,-50.50 L -17.93,-48.92 L -28.29,-49.61 L -28.20,-50.97 Z M -17.93,-48.92 L -18.03,-47.33 L -28.42,-48.37 L -28.29,-49.61 Z M -18.03,-47.33 L -18.19,-45.73 L -28.59,-47.21 L -28.42,-48.37 Z M -18.19,-45.73 L -18.42,-44.11 L -28.81,-46.11 L -28.59,-47.21 Z M -18.42,-44.11 L -18.74,-42.45 L -29.09,-45.04 L -28.81,-46.11 Z M -18.74,-42.45 L -19.17,-40.75 L -29.44,-43.96 L -29.09,-45.04 Z M -19.17,-40.75 L -19.71,-39.02 L -29.86,-42.90 L -29.44,-43.96 Z M -19.71,-39.02 L -20.34,-37.36 L -30.36,-41.87 L -29.86,-42.90 Z M -20.34,-37.36 L -21.03,-35.76 L -30.94,-40.82 L -30.36,-41.87 Z M -21.03,-35.76 L -21.78,-34.23 L -31.60,-39.76 L -30.94,-40.82 Z M -21.78,-34.23 L -22.55,-32.77 L -32.33,-38.67 L -31.60,-39.76 Z M -22.55,-32.77 L -23.33,-31.35 L -33.11,-37.55 L -32.33,-38.67 Z M -23.33,-31.35 L -24.12,-29.98 L -33.96,-36.40 L -33.11,-37.55 Z M -24.12,-29.98 L -24.90,-28.65 L -34.85,-35.20 L -33.96,-36.40 Z M -24.90,-28.65 L -25.65,-27.36 L -35.77,-33.95 L -34.85,-35.20 Z M -25.65,-27.36 L -26.42,-26.02 L -36.67,-32.71 L -35.77,-33.95 Z M -26.42,-26.02 L -27.27,-24.57 L -37.53,-31.56 L -36.67,-32.71 Z M -27.27,-24.57 L -28.19,-23.10 L -38.43,-30.44 L -37.53,-31.56 Z M -28.19,-23.10 L -29.13,-21.66 L -39.39,-29.28 L -38.43,-30.44 Z M -29.13,-21.66 L -30.07,-20.26 L -40.41,-28.08 L -39.39,-29.28 Z M -30.07,-20.26 L -30.99,-18.90 L -41.46,-26.85 L -40.41,-28.08 Z M -30.99,-18.90 L -31.88,-17.57 L -42.55,-25.58 L -41.46,-26.85 Z M -31.88,-17.57 L -32.71,-16.28 L -43.64,-24.27 L -42.55,-25.58 Z M -32.71,-16.28 L -33.49,-15.04 L -44.73,-22.91 L -43.64,-24.27 Z M -33.49,-15.04 L -34.18,-13.85 L -45.81,-21.50 L -44.73,-22.91 Z M -34.18,-13.85 L -34.80,-12.71 L -46.84,-20.04 L -45.81,-21.50 Z M -34.80,-12.71 L -35.38,-11.51 L -47.84,-18.53 L -46.84,-20.04 Z M -35.38,-11.51 L -36.00,-10.17 L -48.80,-16.97 L -47.84,-18.53 Z M -36.00,-10.17 L -36.61,-8.74 L -49.74,-15.40 L -48.80,-16.97 Z M -36.61,-8.74 L -37.22,-7.27 L -50.63,-13.84 L -49.74,-15.40 Z M -37.22,-7.27 L -37.81,-5.81 L -51.48,-12.33 L -50.63,-13.84 Z M -37.81,-5.81 L -38.37,-4.39 L -52.27,-10.90 L -51.48,-12.33 Z M -38.37,-4.39 L -38.88,-3.06 L -52.98,-9.60 L -52.27,-10.90 Z M -38.88,-3.06 L -39.36,-1.84 L -53.59,-8.47 L -52.98,-9.60 Z M -39.36,-1.84 L -39.78,-0.76 L -54.10,-7.56 L -53.59,-8.47 Z M -39.78,-0.76 L -40.13,0.09 L -54.50,-6.86 L -54.10,-7.56 Z" fill="url(#cap2v)" stroke="url(#cap2v)" stroke-width="0.5" stroke-linejoin="round"/>
<path d="M -79.94,-11.52 L -78.97,-11.42 L -80.46,7.03 L -81.48,6.97 Z M -78.97,-11.42 L -77.71,-11.29 L -79.14,7.11 L -80.46,7.03 Z M -77.71,-11.29 L -76.19,-11.15 L -77.61,7.20 L -79.14,7.11 Z M -76.19,-11.15 L -74.47,-10.98 L -75.91,7.29 L -77.61,7.20 Z M -74.47,-10.98 L -72.61,-10.79 L -74.09,7.40 L -75.91,7.29 Z M -72.61,-10.79 L -70.65,-10.59 L -72.20,7.52 L -74.09,7.40 Z M -70.65,-10.59 L -68.66,-10.37 L -70.30,7.64 L -72.20,7.52 Z M -68.66,-10.37 L -66.67,-10.14 L -68.45,7.77 L -70.30,7.64 Z M -66.67,-10.14 L -64.74,-9.89 L -66.70,7.91 L -68.45,7.77 Z M -64.74,-9.89 L -62.90,-9.63 L -65.12,8.05 L -66.70,7.91 Z M -62.90,-9.63 L -61.11,-9.34 L -63.59,8.20 L -65.12,8.05 Z M -61.11,-9.34 L -59.30,-9.02 L -61.98,8.39 L -63.59,8.20 Z M -59.30,-9.02 L -57.48,-8.67 L -60.30,8.60 L -61.98,8.39 Z M -57.48,-8.67 L -55.69,-8.32 L -58.61,8.83 L -60.30,8.60 Z M -55.69,-8.32 L -53.94,-7.96 L -56.92,9.06 L -58.61,8.83 Z M -53.94,-7.96 L -52.27,-7.60 L -55.27,9.30 L -56.92,9.06 Z M -52.27,-7.60 L -50.70,-7.26 L -53.68,9.52 L -55.27,9.30 Z M -50.70,-7.26 L -49.27,-6.95 L -52.19,9.73 L -53.68,9.52 Z M -49.27,-6.95 L -48.01,-6.67 L -50.80,9.91 L -52.19,9.73 Z M -48.01,-6.67 L -46.93,-6.44 L -49.55,10.05 L -50.80,9.91 Z M -46.93,-6.44 L -46.01,-6.24 L -48.48,10.16 L -49.55,10.05 Z M -46.01,-6.24 L -45.22,-6.06 L -47.55,10.23 L -48.48,10.16 Z M -45.22,-6.06 L -44.54,-5.90 L -46.75,10.28 L -47.55,10.23 Z M -44.54,-5.90 L -43.98,-5.76 L -46.05,10.31 L -46.75,10.28 Z M -43.98,-5.76 L -43.50,-5.64 L -45.44,10.32 L -46.05,10.31 Z M -43.50,-5.64 L -43.10,-5.53 L -44.93,10.32 L -45.44,10.32 Z M -43.10,-5.53 L -42.73,-5.43 L -44.50,10.31 L -44.93,10.32 Z M -42.73,-5.43 L -42.39,-5.34 L -44.15,10.30 L -44.50,10.31 Z M -42.39,-5.34 L -42.03,-5.26 L -43.89,10.28 L -44.15,10.30 Z M -42.03,-5.26 L -41.70,-5.18 L -43.65,10.28 L -43.89,10.28 Z" fill="url(#cap2)" stroke="url(#cap2)" stroke-width="0.5" stroke-linejoin="round"/>
<path d="M -41.07,-0.99 L -40.88,0.46 L -54.87,2.15 L -55.04,0.89 Z M -40.88,0.46 L -40.68,2.32 L -54.68,3.83 L -54.87,2.15 Z M -40.68,2.32 L -40.47,4.44 L -54.44,5.93 L -54.68,3.83 Z M -40.47,4.44 L -40.23,6.76 L -54.17,8.32 L -54.44,5.93 Z M -40.23,6.76 L -39.96,9.20 L -53.86,10.93 L -54.17,8.32 Z M -39.96,9.20 L -39.64,11.68 L -53.49,13.66 L -53.86,10.93 Z M -39.64,11.68 L -39.26,14.10 L -53.06,16.44 L -53.49,13.66 Z M -39.26,14.10 L -38.84,16.36 L -52.55,19.21 L -53.06,16.44 Z M -38.84,16.36 L -38.36,18.34 L -51.94,21.92 L -52.55,19.21 Z M -38.36,18.34 L -37.84,19.99 L -51.22,24.45 L -51.94,21.92 Z M -37.84,19.99 L -37.23,21.50 L -50.42,26.73 L -51.22,24.45 Z M -37.23,21.50 L -36.52,23.03 L -49.57,28.88 L -50.42,26.73 Z M -36.52,23.03 L -35.75,24.50 L -48.65,30.97 L -49.57,28.88 Z M -35.75,24.50 L -34.92,25.92 L -47.67,33.00 L -48.65,30.97 Z M -34.92,25.92 L -34.03,27.27 L -46.61,34.97 L -47.67,33.00 Z M -34.03,27.27 L -33.09,28.58 L -45.49,36.88 L -46.61,34.97 Z M -33.09,28.58 L -32.12,29.82 L -44.31,38.72 L -45.49,36.88 Z M -32.12,29.82 L -31.10,31.02 L -43.07,40.49 L -44.31,38.72 Z M -31.10,31.02 L -30.05,32.16 L -41.77,42.20 L -43.07,40.49 Z M -30.05,32.16 L -28.99,33.24 L -40.40,43.85 L -41.77,42.20 Z M -28.99,33.24 L -27.91,34.24 L -38.93,45.47 L -40.40,43.85 Z M -27.91,34.24 L -26.79,35.18 L -37.38,47.04 L -38.93,45.47 Z M -26.79,35.18 L -25.60,36.08 L -35.76,48.52 L -37.38,47.04 Z M -25.60,36.08 L -24.36,36.95 L -34.09,49.93 L -35.76,48.52 Z M -24.36,36.95 L -23.08,37.77 L -32.37,51.26 L -34.09,49.93 Z M -23.08,37.77 L -21.76,38.55 L -30.62,52.52 L -32.37,51.26 Z M -21.76,38.55 L -20.42,39.27 L -28.83,53.69 L -30.62,52.52 Z M -20.42,39.27 L -19.07,39.95 L -27.02,54.79 L -28.83,53.69 Z M -19.07,39.95 L -17.71,40.58 L -25.19,55.80 L -27.02,54.79 Z M -17.71,40.58 L -16.40,41.13 L -23.31,56.74 L -25.19,55.80 Z M -16.40,41.13 L -15.13,41.61 L -21.34,57.61 L -23.31,56.74 Z M -15.13,41.61 L -13.83,42.03 L -19.32,58.39 L -21.34,57.61 Z M -13.83,42.03 L -12.48,42.41 L -17.29,59.05 L -19.32,58.39 Z M -12.48,42.41 L -11.07,42.76 L -15.26,59.63 L -17.29,59.05 Z M -11.07,42.76 L -9.62,43.06 L -13.25,60.12 L -15.26,59.63 Z M -9.62,43.06 L -8.13,43.33 L -11.25,60.54 L -13.25,60.12 Z M -8.13,43.33 L -6.62,43.56 L -9.27,60.89 L -11.25,60.54 Z M -6.62,43.56 L -5.09,43.75 L -7.33,61.18 L -9.27,60.89 Z M -5.09,43.75 L -3.55,43.92 L -5.42,61.42 L -7.33,61.18 Z M -3.55,43.92 L -2.01,44.05 L -3.55,61.61 L -5.42,61.42 Z M -2.01,44.05 L -0.50,44.16 L -1.69,61.77 L -3.55,61.61 Z M -0.50,44.16 L 0.99,44.24 L 0.20,61.88 L -1.69,61.77 Z M 0.99,44.24 L 2.44,44.29 L 2.11,61.94 L 0.20,61.88 Z M 2.44,44.29 L 3.87,44.30 L 4.05,61.94 L 2.11,61.94 Z M 3.87,44.30 L 5.26,44.28 L 6.01,61.89 L 4.05,61.94 Z M 5.26,44.28 L 6.61,44.20 L 8.00,61.76 L 6.01,61.89 Z M 6.61,44.20 L 7.94,44.08 L 10.00,61.56 L 8.00,61.76 Z M 7.94,44.08 L 9.23,43.90 L 12.03,61.28 L 10.00,61.56 Z M 9.23,43.90 L 10.49,43.67 L 14.07,60.90 L 12.03,61.28 Z M 10.49,43.67 L 11.73,43.37 L 16.10,60.44 L 14.07,60.90 Z M 11.73,43.37 L 13.03,42.98 L 18.10,59.91 L 16.10,60.44 Z M 13.03,42.98 L 14.37,42.52 L 20.09,59.30 L 18.10,59.91 Z M 14.37,42.52 L 15.73,41.99 L 22.07,58.62 L 20.09,59.30 Z M 15.73,41.99 L 17.08,41.40 L 24.05,57.87 L 22.07,58.62 Z M 17.08,41.40 L 18.43,40.76 L 26.01,57.05 L 24.05,57.87 Z M 18.43,40.76 L 19.75,40.08 L 27.95,56.14 L 26.01,57.05 Z M 19.75,40.08 L 21.03,39.35 L 29.86,55.16 L 27.95,56.14 Z M 21.03,39.35 L 22.26,38.61 L 31.73,54.10 L 29.86,55.16 Z M 22.26,38.61 L 23.42,37.84 L 33.55,52.96 L 31.73,54.10 Z M 23.42,37.84 L 24.51,37.08 L 35.31,51.72 L 33.55,52.96 Z M 24.51,37.08 L 25.55,36.29 L 37.02,50.38 L 35.31,51.72 Z M 25.55,36.29 L 26.60,35.42 L 38.66,48.96 L 37.02,50.38 Z M 26.60,35.42 L 27.65,34.47 L 40.22,47.47 L 38.66,48.96 Z M 27.65,34.47 L 28.71,33.46 L 41.71,45.93 L 40.22,47.47 Z M 28.71,33.46 L 29.75,32.40 L 43.11,44.35 L 41.71,45.93 Z M 29.75,32.40 L 30.76,31.29 L 44.44,42.74 L 43.11,44.35 Z M 30.76,31.29 L 31.74,30.16 L 45.70,41.11 L 44.44,42.74 Z M 31.74,30.16 L 32.67,29.02 L 46.88,39.47 L 45.70,41.11 Z M 32.67,29.02 L 33.56,27.87 L 47.99,37.82 L 46.88,39.47 Z M 33.56,27.87 L 34.36,26.76 L 49.03,36.16 L 47.99,37.82 Z M 34.36,26.76 L 35.08,25.69 L 50.02,34.45 L 49.03,36.16 Z M 35.08,25.69 L 35.75,24.61 L 50.93,32.69 L 50.02,34.45 Z M 35.75,24.61 L 36.39,23.50 L 51.75,30.93 L 50.93,32.69 Z M 36.39,23.50 L 36.99,22.36 L 52.49,29.16 L 51.75,30.93 Z M 36.99,22.36 L 37.55,21.19 L 53.16,27.39 L 52.49,29.16 Z M 37.55,21.19 L 38.08,19.99 L 53.75,25.63 L 53.16,27.39 Z M 38.08,19.99 L 38.58,18.77 L 54.27,23.88 L 53.75,25.63 Z M 38.58,18.77 L 39.03,17.54 L 54.73,22.13 L 54.27,23.88 Z M 39.03,17.54 L 39.46,16.28 L 55.13,20.41 L 54.73,22.13 Z M 39.46,16.28 L 39.83,15.12 L 55.50,18.60 L 55.13,20.41 Z M 39.83,15.12 L 40.14,14.00 L 55.80,16.61 L 55.50,18.60 Z M 40.14,14.00 L 40.40,12.74 L 56.00,14.54 L 55.80,16.61 Z M 40.40,12.74 L 40.63,11.30 L 56.09,12.51 L 56.00,14.54 Z M 40.63,11.30 L 40.83,9.76 L 56.12,10.54 L 56.09,12.51 Z M 40.83,9.76 L 40.99,8.18 L 56.10,8.66 L 56.12,10.54 Z M 40.99,8.18 L 41.12,6.63 L 56.04,6.91 L 56.10,8.66 Z M 41.12,6.63 L 41.22,5.15 L 55.97,5.32 L 56.04,6.91 Z M 41.22,5.15 L 41.32,3.77 L 55.91,3.96 L 55.97,5.32 Z M 41.32,3.77 L 41.41,2.51 L 55.86,2.91 L 55.91,3.96 Z M 41.41,2.51 L 41.50,1.51 L 55.84,2.11 L 55.86,2.91 Z" fill="url(#cap2)" stroke="url(#cap2)" stroke-width="0.5" stroke-linejoin="round"/>
<path d="M 41.08,4.30 L 41.12,4.26 L 45.74,21.52 L 45.39,21.58 Z M 41.12,4.26 L 41.09,4.22 L 46.15,21.45 L 45.74,21.52 Z M 41.09,4.22 L 41.25,4.12 L 46.39,21.43 L 46.15,21.45 Z M 41.25,4.12 L 41.57,3.96 L 46.54,21.45 L 46.39,21.43 Z M 41.57,3.96 L 42.02,3.78 L 46.67,21.48 L 46.54,21.45 Z M 42.02,3.78 L 42.56,3.58 L 46.86,21.48 L 46.67,21.48 Z M 42.56,3.58 L 43.19,3.39 L 47.16,21.46 L 46.86,21.48 Z M 43.19,3.39 L 43.90,3.21 L 47.59,21.40 L 47.16,21.46 Z M 43.90,3.21 L 44.74,3.04 L 48.17,21.30 L 47.59,21.40 Z M 44.74,3.04 L 45.68,2.88 L 48.95,21.14 L 48.17,21.30 Z M 45.68,2.88 L 46.75,2.73 L 49.95,20.93 L 48.95,21.14 Z M 46.75,2.73 L 47.96,2.59 L 51.11,20.65 L 49.95,20.93 Z M 47.96,2.59 L 49.32,2.44 L 52.40,20.34 L 51.11,20.65 Z M 49.32,2.44 L 50.80,2.29 L 53.80,20.00 L 52.40,20.34 Z M 50.80,2.29 L 52.38,2.14 L 55.29,19.63 L 53.80,20.00 Z M 52.38,2.14 L 54.03,1.99 L 56.84,19.26 L 55.29,19.63 Z M 54.03,1.99 L 55.75,1.83 L 58.44,18.89 L 56.84,19.26 Z M 55.75,1.83 L 57.49,1.67 L 60.07,18.52 L 58.44,18.89 Z M 57.49,1.67 L 59.26,1.50 L 61.70,18.18 L 60.07,18.52 Z M 59.26,1.50 L 61.01,1.33 L 63.30,17.87 L 61.70,18.18 Z M 61.01,1.33 L 62.87,1.15 L 65.02,17.57 L 63.30,17.87 Z M 62.87,1.15 L 64.91,0.95 L 66.95,17.26 L 65.02,17.57 Z M 64.91,0.95 L 67.06,0.75 L 69.02,16.95 L 66.95,17.26 Z M 67.06,0.75 L 69.25,0.54 L 71.16,16.64 L 69.02,16.95 Z M 69.25,0.54 L 71.43,0.33 L 73.30,16.34 L 71.16,16.64 Z M 71.43,0.33 L 73.53,0.13 L 75.37,16.06 L 73.30,16.34 Z M 73.53,0.13 L 75.49,-0.05 L 77.30,15.80 L 75.37,16.06 Z M 75.49,-0.05 L 77.23,-0.22 L 79.04,15.56 L 77.30,15.80 Z M 77.23,-0.22 L 78.68,-0.35 L 80.51,15.36 L 79.04,15.56 Z M 78.68,-0.35 L 79.79,-0.46 L 81.63,15.21 L 80.51,15.36 Z" fill="url(#cap2)" stroke="url(#cap2)" stroke-width="0.5" stroke-linejoin="round"/>
<path d="M 40.67,6.25 L 40.59,5.14 L 54.57,3.92 L 54.70,4.79 Z M 40.59,5.14 L 40.54,3.75 L 54.44,2.79 L 54.57,3.92 Z M 40.54,3.75 L 40.50,2.25 L 54.29,1.32 L 54.44,2.79 Z M 40.50,2.25 L 40.45,0.63 L 54.11,-0.40 L 54.29,1.32 Z M 40.45,0.63 L 40.37,-1.08 L 53.89,-2.31 L 54.11,-0.40 Z M 40.37,-1.08 L 40.27,-2.83 L 53.61,-4.36 L 53.89,-2.31 Z M 40.27,-2.83 L 40.11,-4.57 L 53.27,-6.50 L 53.61,-4.36 Z M 40.11,-4.57 L 39.89,-6.26 L 52.84,-8.70 L 53.27,-6.50 Z M 39.89,-6.26 L 39.61,-7.82 L 52.31,-10.93 L 52.84,-8.70 Z M 39.61,-7.82 L 39.26,-9.26 L 51.66,-13.11 L 52.31,-10.93 Z M 39.26,-9.26 L 38.78,-10.76 L 50.92,-15.17 L 51.66,-13.11 Z M 38.78,-10.76 L 38.17,-12.40 L 50.11,-17.21 L 50.92,-15.17 Z M 38.17,-12.40 L 37.47,-14.12 L 49.22,-19.26 L 50.11,-17.21 Z M 37.47,-14.12 L 36.70,-15.89 L 48.28,-21.31 L 49.22,-19.26 Z M 36.70,-15.89 L 35.85,-17.67 L 47.27,-23.34 L 48.28,-21.31 Z M 35.85,-17.67 L 34.96,-19.44 L 46.23,-25.35 L 47.27,-23.34 Z M 34.96,-19.44 L 34.04,-21.17 L 45.16,-27.32 L 46.23,-25.35 Z M 34.04,-21.17 L 33.10,-22.85 L 44.07,-29.22 L 45.16,-27.32 Z M 33.10,-22.85 L 32.17,-24.46 L 42.96,-31.04 L 44.07,-29.22 Z M 32.17,-24.46 L 31.30,-25.87 L 41.81,-32.86 L 42.96,-31.04 Z M 31.30,-25.87 L 30.50,-27.04 L 40.48,-34.69 L 41.81,-32.86 Z M 30.50,-27.04 L 29.63,-28.12 L 39.04,-36.40 L 40.48,-34.69 Z M 29.63,-28.12 L 28.61,-29.23 L 37.60,-37.92 L 39.04,-36.40 Z M 28.61,-29.23 L 27.49,-30.38 L 36.22,-39.27 L 37.60,-37.92 Z M 27.49,-30.38 L 26.26,-31.60 L 34.93,-40.49 L 36.22,-39.27 Z M 26.26,-31.60 L 24.97,-32.89 L 33.76,-41.60 L 34.93,-40.49 Z M 24.97,-32.89 L 23.64,-34.30 L 32.77,-42.61 L 33.76,-41.60 Z M 23.64,-34.30 L 22.31,-35.87 L 31.96,-43.52 L 32.77,-42.61 Z M 22.31,-35.87 L 21.04,-37.66 L 31.35,-44.32 L 31.96,-43.52 Z M 21.04,-37.66 L 19.96,-39.59 L 30.88,-45.12 L 31.35,-44.32 Z M 19.96,-39.59 L 19.13,-41.47 L 30.47,-46.02 L 30.88,-45.12 Z M 19.13,-41.47 L 18.51,-43.26 L 30.12,-46.97 L 30.47,-46.02 Z M 18.51,-43.26 L 18.02,-45.03 L 29.84,-47.92 L 30.12,-46.97 Z M 18.02,-45.03 L 17.67,-46.77 L 29.62,-48.94 L 29.84,-47.92 Z M 17.67,-46.77 L 17.41,-48.48 L 29.44,-50.05 L 29.62,-48.94 Z M 17.41,-48.48 L 17.24,-50.17 L 29.30,-51.30 L 29.44,-50.05 Z M 17.24,-50.17 L 17.11,-51.85 L 29.18,-52.71 L 29.30,-51.30 Z M 17.11,-51.85 L 17.01,-53.56 L 29.07,-54.28 L 29.18,-52.71 Z M 17.01,-53.56 L 16.91,-55.32 L 28.96,-56.03 L 29.07,-54.28 Z M 16.91,-55.32 L 16.80,-57.24 L 28.84,-57.90 L 28.96,-56.03 Z M 16.80,-57.24 L 16.70,-59.51 L 28.74,-59.94 L 28.84,-57.90 Z M 16.70,-59.51 L 16.63,-62.11 L 28.68,-62.31 L 28.74,-59.94 Z M 16.63,-62.11 L 16.61,-64.89 L 28.66,-64.93 L 28.68,-62.31 Z M 16.61,-64.89 L 16.61,-67.76 L 28.66,-67.70 L 28.66,-64.93 Z M 16.61,-67.76 L 16.64,-70.65 L 28.69,-70.51 L 28.66,-67.70 Z M 16.64,-70.65 L 16.67,-73.44 L 28.72,-73.26 L 28.69,-70.51 Z M 16.67,-73.44 L 16.72,-76.05 L 28.77,-75.84 L 28.72,-73.26 Z M 16.72,-76.05 L 16.75,-78.37 L 28.81,-78.17 L 28.77,-75.84 Z M 16.75,-78.37 L 16.78,-80.29 L 28.84,-80.14 L 28.81,-78.17 Z M 16.78,-80.29 L 16.79,-81.74 L 28.85,-81.64 L 28.84,-80.14 Z" fill="url(#cap2)" stroke="url(#cap2)" stroke-width="0.5" stroke-linejoin="round"/>
<path d="M -45.83,12.94 L -45.48,14.33 L -45.07,16.22 L -44.59,18.46 L -44.02,20.94 L -43.37,23.52 L -42.62,26.07 L -41.77,28.46 L -40.82,30.57 L -39.75,32.45 L -38.58,34.27 L -37.30,36.02 L -35.93,37.70 L -34.47,39.30 L -32.94,40.81 L -31.34,42.23 L -29.69,43.56 L -27.94,44.78 L -26.09,45.92 L -24.15,46.97 L -22.15,47.93 L -20.10,48.81 L -18.03,49.60 L -15.96,50.33 L -13.91,50.98 L -11.76,51.53 L -9.41,51.99 L -6.99,52.35 L -4.58,52.65 L -2.30,52.88 L -0.24,53.07 L 1.49,53.24 L 2.78,53.39" fill="none" stroke="#f6cfd2" stroke-width="4.5" opacity="0.55" stroke-linecap="round"/>
<path d="M 43.98,-11.18 L 43.40,-12.33 L 42.65,-13.85 L 41.77,-15.66 L 40.78,-17.68 L 39.69,-19.81 L 38.55,-21.97 L 37.37,-24.07 L 36.18,-26.02 L 34.89,-27.88 L 33.43,-29.74 L 31.88,-31.59 L 30.29,-33.45 L 28.75,-35.30 L 27.31,-37.16 L 26.06,-39.01 L 25.05,-40.87 L 24.30,-42.83 L 23.74,-44.93 L 23.34,-47.09 L 23.06,-49.22 L 22.86,-51.23 L 22.72,-53.05 L 22.59,-54.57 L 22.45,-55.71" fill="none" stroke="#7d1c27" stroke-width="2.1" stroke-linecap="round"/><path d="M 22.11,-59.50 L 26.96,-52.31 L 22.63,-53.82 L 18.64,-51.55 Z" fill="#7d1c27"/>
<path d="M 52.88,16.28 L 53.68,15.87 L 54.77,15.30 L 56.06,14.63 L 57.49,13.89 L 58.97,13.13 L 60.45,12.37 L 61.85,11.68 L 63.09,11.08 L 64.25,10.56 L 65.43,10.04 L 66.59,9.55 L 67.71,9.09 L 68.76,8.67 L 69.68,8.30 L 70.47,7.99 L 71.07,7.74" fill="none" stroke="#7d1c27" stroke-width="2.1" stroke-linecap="round"/><path d="M 74.59,6.33 L 69.09,13.04 L 69.30,8.45 L 65.98,5.28 Z" fill="#7d1c27"/>
<path d="M -39.89,29.64 L -39.48,30.29 L -38.94,31.16 L -38.31,32.20 L -37.60,33.35 L -36.82,34.56 L -36.00,35.77 L -35.17,36.93 L -34.32,37.99 L -33.40,39.01 L -32.35,40.08 L -31.22,41.17 L -30.08,42.22 L -28.98,43.21 L -27.98,44.10 L -27.15,44.84 L -26.53,45.41" fill="none" stroke="#7d1c27" stroke-width="2.1" stroke-linecap="round"/><path d="M -23.70,47.95 L -32.15,45.98 L -27.95,44.14 L -26.57,39.76 Z" fill="#7d1c27"/>
<path d="M -2.78,52.83 L -2.06,52.79 L -1.11,52.75 L 0.03,52.69 L 1.30,52.62 L 2.64,52.55 L 3.98,52.47 L 5.29,52.38 L 6.50,52.28 L 7.69,52.16 L 8.96,52.01 L 10.25,51.85 L 11.53,51.68 L 12.73,51.52 L 13.81,51.38 L 14.72,51.25 L 15.40,51.16" fill="none" stroke="#7d1c27" stroke-width="2.1" stroke-linecap="round"/><path d="M 19.17,50.65 L 12.19,55.81 L 13.52,51.42 L 11.08,47.53 Z" fill="#7d1c27"/>
<path d="M 32.47,41.14 L 33.06,40.55 L 33.86,39.79 L 34.81,38.87 L 35.86,37.85 L 36.95,36.75 L 38.02,35.61 L 39.02,34.47 L 39.89,33.35 L 40.69,32.17 L 41.47,30.84 L 42.23,29.44 L 42.96,28.04 L 43.62,26.69 L 44.21,25.48 L 44.70,24.46 L 45.09,23.70" fill="none" stroke="#7d1c27" stroke-width="2.1" stroke-linecap="round"/><path d="M 46.76,20.29 L 47.17,28.96 L 44.25,25.41 L 39.66,25.27 Z" fill="#7d1c27"/>
<path d="M -12.62,-95 L -12.62,-45.51 C -12.62,-36.51 -16.68,-29.13 -23.49,-23.24 A 35.07 35.07 0 1 0 22.37,-23.24 C 15.56,-29.13 11.51,-36.51 11.51,-45.51 L 11.51,-95 Z" fill="none" stroke="#7a2d3b" stroke-width="15.0"/>
<path d="M -12.62,-95 L -12.62,-45.51 C -12.62,-36.51 -16.68,-29.13 -23.49,-23.24 A 35.07 35.07 0 1 0 22.37,-23.24 C 15.56,-29.13 11.51,-36.51 11.51,-45.51 L 11.51,-95 Z" fill="none" stroke="#fdf0ed" stroke-width="12.4"/>
<path d="M -12.62,-95 L -12.62,-45.51 C -12.62,-36.51 -16.68,-29.13 -23.49,-23.24 A 35.07 35.07 0 1 0 22.37,-23.24 C 15.56,-29.13 11.51,-36.51 11.51,-45.51 L 11.51,-95 Z" fill="#cabfe3" stroke="#a9675a" stroke-width="6.0"/>
<path d="M -12.62,-95 L -12.62,-45.51 C -12.62,-36.51 -16.68,-29.13 -23.49,-23.24 A 35.07 35.07 0 1 0 22.37,-23.24 C 15.56,-29.13 11.51,-36.51 11.51,-45.51 L 11.51,-95 Z" fill="none" stroke="#f6d47a" stroke-width="4.4"/>
</g>
<circle cx="0" cy="0" r="75.3" fill="none" stroke="#080808" stroke-width="3.2"/>
</g>
<g transform="translate(393.7,737.6)">
<circle cx="0" cy="0" r="75" fill="url(#circBg)"/>
<g clip-path="url(#cclip)">
<path d="M -17.72,-88.93 L -17.71,-86.89 L -33.48,-86.77 L -33.49,-88.85 Z M -17.71,-86.89 L -17.69,-84.17 L -33.44,-84.00 L -33.48,-86.77 Z M -17.69,-84.17 L -17.66,-80.90 L -33.40,-80.72 L -33.44,-84.00 Z M -17.66,-80.90 L -17.63,-77.23 L -33.35,-77.07 L -33.40,-80.72 Z M -17.63,-77.23 L -17.60,-73.31 L -33.31,-73.20 L -33.35,-77.07 Z M -17.60,-73.31 L -17.58,-69.30 L -33.28,-69.25 L -33.31,-73.20 Z M -17.58,-69.30 L -17.58,-65.34 L -33.28,-65.38 L -33.28,-69.25 Z M -17.58,-65.34 L -17.59,-61.57 L -33.31,-61.75 L -33.28,-65.38 Z M -17.59,-61.57 L -17.64,-58.12 L -33.37,-58.52 L -33.31,-61.75 Z M -17.64,-58.12 L -17.72,-55.18 L -33.48,-55.80 L -33.37,-58.52 Z M -17.72,-55.18 L -17.81,-52.75 L -33.62,-53.48 L -33.48,-55.80 Z M -17.81,-52.75 L -17.88,-50.61 L -33.74,-51.39 L -33.62,-53.48 Z M -17.88,-50.61 L -17.95,-48.62 L -33.87,-49.58 L -33.74,-51.39 Z M -17.95,-48.62 L -18.04,-46.72 L -34.02,-48.04 L -33.87,-49.58 Z M -18.04,-46.72 L -18.18,-44.86 L -34.19,-46.73 L -34.02,-48.04 Z M -18.18,-44.86 L -18.38,-43.01 L -34.39,-45.60 L -34.19,-46.73 Z M -18.38,-43.01 L -18.68,-41.14 L -34.64,-44.59 L -34.39,-45.60 Z M -18.68,-41.14 L -19.08,-39.25 L -34.93,-43.61 L -34.64,-44.59 Z M -19.08,-39.25 L -19.60,-37.33 L -35.31,-42.59 L -34.93,-43.61 Z M -19.60,-37.33 L -20.27,-35.31 L -35.77,-41.53 L -35.31,-42.59 Z M -20.27,-35.31 L -21.12,-33.17 L -36.30,-40.50 L -35.77,-41.53 Z M -21.12,-33.17 L -22.13,-31.08 L -36.94,-39.48 L -36.30,-40.50 Z M -22.13,-31.08 L -23.21,-29.12 L -37.72,-38.37 L -36.94,-39.48 Z M -23.21,-29.12 L -24.33,-27.26 L -38.62,-37.20 L -37.72,-38.37 Z M -24.33,-27.26 L -25.47,-25.51 L -39.64,-35.98 L -38.62,-37.20 Z M -25.47,-25.51 L -26.59,-23.85 L -40.73,-34.70 L -39.64,-35.98 Z M -26.59,-23.85 L -27.68,-22.28 L -41.90,-33.36 L -40.73,-34.70 Z M -27.68,-22.28 L -28.71,-20.81 L -43.11,-31.97 L -41.90,-33.36 Z M -28.71,-20.81 L -29.66,-19.43 L -44.34,-30.52 L -43.11,-31.97 Z M -29.66,-19.43 L -30.59,-18.04 L -45.48,-29.11 L -44.34,-30.52 Z M -30.59,-18.04 L -31.65,-16.50 L -46.48,-27.89 L -45.48,-29.11 Z M -31.65,-16.50 L -32.80,-14.93 L -47.47,-26.74 L -46.48,-27.89 Z M -32.80,-14.93 L -33.94,-13.45 L -48.53,-25.55 L -47.47,-26.74 Z M -33.94,-13.45 L -35.03,-12.06 L -49.65,-24.31 L -48.53,-25.55 Z M -35.03,-12.06 L -36.06,-10.75 L -50.80,-23.02 L -49.65,-24.31 Z M -36.06,-10.75 L -37.00,-9.53 L -51.98,-21.67 L -50.80,-23.02 Z M -37.00,-9.53 L -37.83,-8.40 L -53.17,-20.26 L -51.98,-21.67 Z M -37.83,-8.40 L -38.54,-7.38 L -54.35,-18.76 L -53.17,-20.26 Z M -38.54,-7.38 L -39.09,-6.50 L -55.51,-17.15 L -54.35,-18.76 Z M -39.09,-6.50 L -39.48,-5.78 L -56.63,-15.40 L -55.51,-17.15 Z M -39.48,-5.78 L -39.78,-5.09 L -57.64,-13.54 L -56.63,-15.40 Z M -39.78,-5.09 L -40.08,-4.27 L -58.50,-11.69 L -57.64,-13.54 Z M -40.08,-4.27 L -40.39,-3.32 L -59.21,-9.91 L -58.50,-11.69 Z M -40.39,-3.32 L -40.68,-2.29 L -59.81,-8.22 L -59.21,-9.91 Z M -40.68,-2.29 L -40.95,-1.22 L -60.31,-6.65 L -59.81,-8.22 Z M -40.95,-1.22 L -41.20,-0.13 L -60.73,-5.22 L -60.31,-6.65 Z M -41.20,-0.13 L -41.44,0.96 L -61.09,-3.97 L -60.73,-5.22 Z M -41.44,0.96 L -41.67,2.03 L -61.37,-2.96 L -61.09,-3.97 Z M -41.67,2.03 L -41.93,3.11 L -61.57,-2.29 L -61.37,-2.96 Z M -41.93,3.11 L -42.17,4.00 L -61.74,-1.80 L -61.57,-2.29 Z" fill="#7a2d3b" stroke="#7a2d3b" stroke-width="2.2" stroke-linejoin="round"/>
<path d="M -80.52,-10.59 L -79.69,-10.55 L -79.98,10.93 L -80.90,10.93 Z M -79.69,-10.55 L -78.61,-10.51 L -78.80,10.91 L -79.98,10.93 Z M -78.61,-10.51 L -77.29,-10.46 L -77.47,10.88 L -78.80,10.91 Z M -77.29,-10.46 L -75.78,-10.41 L -76.00,10.85 L -77.47,10.88 Z M -75.78,-10.41 L -74.12,-10.34 L -74.43,10.83 L -76.00,10.85 Z M -74.12,-10.34 L -72.37,-10.27 L -72.80,10.81 L -74.43,10.83 Z M -72.37,-10.27 L -70.56,-10.18 L -71.15,10.81 L -72.80,10.81 Z M -70.56,-10.18 L -68.72,-10.08 L -69.54,10.82 L -71.15,10.81 Z M -68.72,-10.08 L -66.90,-9.96 L -68.01,10.85 L -69.54,10.82 Z M -66.90,-9.96 L -65.12,-9.82 L -66.62,10.91 L -68.01,10.85 Z M -65.12,-9.82 L -63.35,-9.65 L -65.22,11.00 L -66.62,10.91 Z M -63.35,-9.65 L -61.55,-9.45 L -63.69,11.13 L -65.22,11.00 Z M -61.55,-9.45 L -59.73,-9.24 L -62.07,11.29 L -63.69,11.13 Z M -59.73,-9.24 L -57.91,-9.01 L -60.41,11.48 L -62.07,11.29 Z M -57.91,-9.01 L -56.14,-8.78 L -58.74,11.68 L -60.41,11.48 Z M -56.14,-8.78 L -54.42,-8.54 L -57.09,11.88 L -58.74,11.68 Z M -54.42,-8.54 L -52.80,-8.32 L -55.49,12.07 L -57.09,11.88 Z M -52.80,-8.32 L -51.32,-8.10 L -53.98,12.25 L -55.49,12.07 Z M -51.32,-8.10 L -50.00,-7.90 L -52.58,12.41 L -53.98,12.25 Z M -50.00,-7.90 L -48.87,-7.73 L -51.33,12.53 L -52.58,12.41 Z M -48.87,-7.73 L -47.86,-7.57 L -50.27,12.61 L -51.33,12.53 Z M -47.86,-7.57 L -46.95,-7.40 L -49.36,12.67 L -50.27,12.61 Z M -46.95,-7.40 L -46.15,-7.25 L -48.56,12.70 L -49.36,12.67 Z M -46.15,-7.25 L -45.45,-7.10 L -47.86,12.72 L -48.56,12.70 Z M -45.45,-7.10 L -44.84,-6.95 L -47.25,12.73 L -47.86,12.72 Z M -44.84,-6.95 L -44.32,-6.82 L -46.72,12.73 L -47.25,12.73 Z M -44.32,-6.82 L -43.86,-6.70 L -46.25,12.72 L -46.72,12.73 Z M -43.86,-6.70 L -43.46,-6.60 L -45.84,12.72 L -46.25,12.72 Z M -43.46,-6.60 L -43.12,-6.51 L -45.47,12.71 L -45.84,12.72 Z M -43.12,-6.51 L -42.80,-6.44 L -45.14,12.72 L -45.47,12.71 Z" fill="#7a2d3b" stroke="#7a2d3b" stroke-width="2.2" stroke-linejoin="round"/>
<path d="M -42.18,-0.93 L -41.98,0.83 L -60.44,2.66 L -60.61,1.28 Z M -41.98,0.83 L -41.81,3.06 L -60.27,4.50 L -60.44,2.66 Z M -41.81,3.06 L -41.64,5.51 L -60.08,6.91 L -60.27,4.50 Z M -41.64,5.51 L -41.46,8.14 L -59.84,9.70 L -60.08,6.91 Z M -41.46,8.14 L -41.22,10.88 L -59.54,12.79 L -59.84,9.70 Z M -41.22,10.88 L -40.91,13.64 L -59.15,16.07 L -59.54,12.79 Z M -40.91,13.64 L -40.51,16.31 L -58.63,19.47 L -59.15,16.07 Z M -40.51,16.31 L -40.01,18.76 L -57.95,22.93 L -58.63,19.47 Z M -40.01,18.76 L -39.43,20.86 L -57.05,26.40 L -57.95,22.93 Z M -39.43,20.86 L -38.76,22.56 L -55.87,29.74 L -57.05,26.40 Z M -38.76,22.56 L -37.88,24.23 L -54.48,32.81 L -55.87,29.74 Z M -37.88,24.23 L -36.74,26.09 L -52.98,35.71 L -54.48,32.81 Z M -36.74,26.09 L -35.42,28.00 L -51.33,38.54 L -52.98,35.71 Z M -35.42,28.00 L -33.94,29.90 L -49.56,41.28 L -51.33,38.54 Z M -33.94,29.90 L -32.36,31.76 L -47.70,43.94 L -49.56,41.28 Z M -32.36,31.76 L -30.71,33.56 L -45.76,46.49 L -47.70,43.94 Z M -30.71,33.56 L -29.02,35.26 L -43.76,48.92 L -45.76,46.49 Z M -29.02,35.26 L -27.35,36.82 L -41.72,51.20 L -43.76,48.92 Z M -27.35,36.82 L -25.74,38.23 L -39.66,53.33 L -41.72,51.20 Z M -25.74,38.23 L -24.28,39.40 L -37.52,55.32 L -39.66,53.33 Z M -24.28,39.40 L -22.99,40.33 L -35.24,57.19 L -37.52,55.32 Z M -22.99,40.33 L -21.72,41.11 L -32.84,58.87 L -35.24,57.19 Z M -21.72,41.11 L -20.41,41.81 L -30.43,60.33 L -32.84,58.87 Z M -20.41,41.81 L -19.04,42.46 L -28.01,61.59 L -30.43,60.33 Z M -19.04,42.46 L -17.61,43.04 L -25.62,62.67 L -28.01,61.59 Z M -17.61,43.04 L -16.10,43.58 L -23.28,63.60 L -25.62,62.67 Z M -16.10,43.58 L -14.52,44.08 L -21.01,64.40 L -23.28,63.60 Z M -14.52,44.08 L -12.87,44.55 L -18.82,65.09 L -21.01,64.40 Z M -12.87,44.55 L -11.16,44.99 L -16.73,65.70 L -18.82,65.09 Z M -11.16,44.99 L -9.44,45.40 L -14.67,66.28 L -16.73,65.70 Z M -9.44,45.40 L -7.86,45.74 L -12.54,66.83 L -14.67,66.28 Z M -7.86,45.74 L -6.38,46.00 L -10.34,67.32 L -12.54,66.83 Z M -6.38,46.00 L -4.94,46.19 L -8.11,67.74 L -10.34,67.32 Z M -4.94,46.19 L -3.54,46.32 L -5.86,68.07 L -8.11,67.74 Z M -3.54,46.32 L -2.16,46.40 L -3.59,68.31 L -5.86,68.07 Z M -2.16,46.40 L -0.79,46.42 L -1.28,68.45 L -3.59,68.31 Z M -0.79,46.42 L 0.58,46.38 L 1.04,68.49 L -1.28,68.45 Z M 0.58,46.38 L 1.97,46.29 L 3.39,68.43 L 1.04,68.49 Z M 1.97,46.29 L 3.39,46.15 L 5.75,68.25 L 3.39,68.43 Z M 3.39,46.15 L 4.87,45.94 L 8.12,67.96 L 5.75,68.25 Z M 4.87,45.94 L 6.45,45.67 L 10.49,67.58 L 8.12,67.96 Z M 6.45,45.67 L 8.11,45.33 L 12.87,67.10 L 10.49,67.58 Z M 8.11,45.33 L 9.81,44.94 L 15.30,66.51 L 12.87,67.10 Z M 9.81,44.94 L 11.54,44.49 L 17.74,65.83 L 15.30,66.51 Z M 11.54,44.49 L 13.26,43.98 L 20.20,65.05 L 17.74,65.83 Z M 13.26,43.98 L 14.96,43.40 L 22.67,64.17 L 20.20,65.05 Z M 14.96,43.40 L 16.62,42.77 L 25.13,63.18 L 22.67,64.17 Z M 16.62,42.77 L 18.22,42.08 L 27.58,62.08 L 25.13,63.18 Z M 18.22,42.08 L 19.74,41.34 L 30.00,60.87 L 27.58,62.08 Z M 19.74,41.34 L 21.16,40.56 L 32.39,59.53 L 30.00,60.87 Z M 21.16,40.56 L 22.57,39.67 L 34.73,58.07 L 32.39,59.53 Z M 22.57,39.67 L 24.05,38.62 L 37.02,56.49 L 34.73,58.07 Z M 24.05,38.62 L 25.58,37.45 L 39.25,54.83 L 37.02,56.49 Z M 25.58,37.45 L 27.12,36.17 L 41.41,53.08 L 39.25,54.83 Z M 27.12,36.17 L 28.63,34.81 L 43.50,51.28 L 41.41,53.08 Z M 28.63,34.81 L 30.11,33.41 L 45.51,49.43 L 43.50,51.28 Z M 30.11,33.41 L 31.51,32.00 L 47.43,47.54 L 45.51,49.43 Z M 31.51,32.00 L 32.82,30.61 L 49.25,45.63 L 47.43,47.54 Z M 32.82,30.61 L 34.01,29.26 L 50.95,43.70 L 49.25,45.63 Z M 34.01,29.26 L 35.03,28.02 L 52.55,41.75 L 50.95,43.70 Z M 35.03,28.02 L 35.90,26.90 L 54.04,39.72 L 52.55,41.75 Z M 35.90,26.90 L 36.66,25.78 L 55.40,37.65 L 54.04,39.72 Z M 36.66,25.78 L 37.36,24.66 L 56.63,35.57 L 55.40,37.65 Z M 37.36,24.66 L 38.00,23.51 L 57.71,33.48 L 56.63,35.57 Z M 38.00,23.51 L 38.59,22.33 L 58.67,31.41 L 57.71,33.48 Z M 38.59,22.33 L 39.15,21.12 L 59.51,29.35 L 58.67,31.41 Z M 39.15,21.12 L 39.68,19.87 L 60.23,27.32 L 59.51,29.35 Z M 39.68,19.87 L 40.18,18.58 L 60.86,25.33 L 60.23,27.32 Z M 40.18,18.58 L 40.66,17.25 L 61.40,23.37 L 60.86,25.33 Z M 40.66,17.25 L 41.08,16.05 L 61.90,21.29 L 61.40,23.37 Z M 41.08,16.05 L 41.42,15.00 L 62.33,18.90 L 61.90,21.29 Z M 41.42,15.00 L 41.72,13.79 L 62.59,16.42 L 62.33,18.90 Z M 41.72,13.79 L 42.01,12.34 L 62.69,14.03 L 62.59,16.42 Z M 42.01,12.34 L 42.26,10.74 L 62.68,11.75 L 62.69,14.03 Z M 42.26,10.74 L 42.48,9.08 L 62.60,9.60 L 62.68,11.75 Z M 42.48,9.08 L 42.66,7.41 L 62.48,7.61 L 62.60,9.60 Z M 42.66,7.41 L 42.81,5.79 L 62.34,5.84 L 62.48,7.61 Z M 42.81,5.79 L 42.94,4.26 L 62.21,4.35 L 62.34,5.84 Z M 42.94,4.26 L 43.06,2.82 L 62.11,3.23 L 62.21,4.35 Z M 43.06,2.82 L 43.19,1.67 L 62.06,2.40 L 62.11,3.23 Z" fill="#7a2d3b" stroke="#7a2d3b" stroke-width="2.2" stroke-linejoin="round"/>
<path d="M 45.73,4.38 L 45.96,4.32 L 49.14,24.16 L 48.90,24.17 Z M 45.96,4.32 L 46.20,4.24 L 49.39,24.16 L 49.14,24.16 Z M 46.20,4.24 L 46.47,4.15 L 49.67,24.16 L 49.39,24.16 Z M 46.47,4.15 L 46.78,4.04 L 50.00,24.16 L 49.67,24.16 Z M 46.78,4.04 L 47.15,3.93 L 50.38,24.15 L 50.00,24.16 Z M 47.15,3.93 L 47.58,3.81 L 50.83,24.13 L 50.38,24.15 Z M 47.58,3.81 L 48.10,3.68 L 51.37,24.09 L 50.83,24.13 Z M 48.10,3.68 L 48.72,3.55 L 52.00,24.03 L 51.37,24.09 Z M 48.72,3.55 L 49.45,3.41 L 52.74,23.93 L 52.00,24.03 Z M 49.45,3.41 L 50.31,3.27 L 53.60,23.79 L 52.74,23.93 Z M 50.31,3.27 L 51.32,3.13 L 54.62,23.61 L 53.60,23.79 Z M 51.32,3.13 L 52.48,2.98 L 55.78,23.39 L 54.62,23.61 Z M 52.48,2.98 L 53.77,2.81 L 57.06,23.13 L 55.78,23.39 Z M 53.77,2.81 L 55.18,2.65 L 58.44,22.85 L 57.06,23.13 Z M 55.18,2.65 L 56.66,2.47 L 59.89,22.55 L 58.44,22.85 Z M 56.66,2.47 L 58.19,2.29 L 61.39,22.24 L 59.89,22.55 Z M 58.19,2.29 L 59.75,2.12 L 62.92,21.93 L 61.39,22.24 Z M 59.75,2.12 L 61.32,1.94 L 64.44,21.61 L 62.92,21.93 Z M 61.32,1.94 L 62.87,1.76 L 65.93,21.31 L 64.44,21.61 Z M 62.87,1.76 L 64.37,1.59 L 67.37,21.02 L 65.93,21.31 Z M 64.37,1.59 L 65.91,1.41 L 68.86,20.74 L 67.37,21.02 Z M 65.91,1.41 L 67.56,1.22 L 70.47,20.43 L 68.86,20.74 Z M 67.56,1.22 L 69.29,1.03 L 72.16,20.11 L 70.47,20.43 Z M 69.29,1.03 L 71.04,0.83 L 73.87,19.79 L 72.16,20.11 Z M 71.04,0.83 L 72.76,0.64 L 75.57,19.47 L 73.87,19.79 Z M 72.76,0.64 L 74.41,0.45 L 77.19,19.17 L 75.57,19.47 Z M 74.41,0.45 L 75.94,0.28 L 78.70,18.89 L 77.19,19.17 Z M 75.94,0.28 L 77.31,0.13 L 80.05,18.63 L 78.70,18.89 Z M 77.31,0.13 L 78.46,0.00 L 81.20,18.42 L 80.05,18.63 Z M 78.46,0.00 L 79.34,-0.10 L 82.08,18.26 L 81.20,18.42 Z" fill="#7a2d3b" stroke="#7a2d3b" stroke-width="2.2" stroke-linejoin="round"/>
<path d="M 43.18,7.05 L 43.02,5.79 L 60.79,3.45 L 60.95,4.43 Z M 43.02,5.79 L 42.84,4.21 L 60.62,2.16 L 60.79,3.45 Z M 42.84,4.21 L 42.67,2.48 L 60.41,0.47 L 60.62,2.16 Z M 42.67,2.48 L 42.48,0.63 L 60.16,-1.51 L 60.41,0.47 Z M 42.48,0.63 L 42.27,-1.30 L 59.85,-3.69 L 60.16,-1.51 Z M 42.27,-1.30 L 42.01,-3.26 L 59.49,-6.02 L 59.85,-3.69 Z M 42.01,-3.26 L 41.72,-5.16 L 59.04,-8.44 L 59.49,-6.02 Z M 41.72,-5.16 L 41.38,-6.94 L 58.49,-10.91 L 59.04,-8.44 Z M 41.38,-6.94 L 41.01,-8.49 L 57.81,-13.41 L 58.49,-10.91 Z M 41.01,-8.49 L 40.62,-9.79 L 56.98,-15.84 L 57.81,-13.41 Z M 40.62,-9.79 L 40.14,-11.03 L 56.01,-18.11 L 56.98,-15.84 Z M 40.14,-11.03 L 39.53,-12.39 L 54.96,-20.22 L 56.01,-18.11 Z M 39.53,-12.39 L 38.80,-13.82 L 53.84,-22.24 L 54.96,-20.22 Z M 38.80,-13.82 L 37.98,-15.29 L 52.66,-24.18 L 53.84,-22.24 Z M 37.98,-15.29 L 37.08,-16.81 L 51.46,-26.02 L 52.66,-24.18 Z M 37.08,-16.81 L 36.10,-18.37 L 50.26,-27.80 L 51.46,-26.02 Z M 36.10,-18.37 L 35.08,-19.95 L 49.06,-29.50 L 50.26,-27.80 Z M 35.08,-19.95 L 34.01,-21.56 L 47.89,-31.13 L 49.06,-29.50 Z M 34.01,-21.56 L 32.93,-23.20 L 46.77,-32.68 L 47.89,-31.13 Z M 32.93,-23.20 L 31.93,-24.74 L 45.63,-34.29 L 46.77,-32.68 Z M 31.93,-24.74 L 31.04,-26.06 L 44.33,-36.04 L 45.63,-34.29 Z M 31.04,-26.06 L 30.09,-27.32 L 42.93,-37.75 L 44.33,-36.04 Z M 30.09,-27.32 L 29.03,-28.66 L 41.55,-39.33 L 42.93,-37.75 Z M 29.03,-28.66 L 27.87,-30.06 L 40.23,-40.79 L 41.55,-39.33 Z M 27.87,-30.06 L 26.64,-31.54 L 39.00,-42.15 L 40.23,-40.79 Z M 26.64,-31.54 L 25.36,-33.11 L 37.89,-43.40 L 39.00,-42.15 Z M 25.36,-33.11 L 24.08,-34.78 L 36.93,-44.54 L 37.89,-43.40 Z M 24.08,-34.78 L 22.82,-36.59 L 36.14,-45.57 L 36.93,-44.54 Z M 22.82,-36.59 L 21.61,-38.57 L 35.54,-46.46 L 36.14,-45.57 Z M 21.61,-38.57 L 20.59,-40.65 L 35.08,-47.32 L 35.54,-46.46 Z M 20.59,-40.65 L 19.80,-42.61 L 34.70,-48.21 L 35.08,-47.32 Z M 19.80,-42.61 L 19.19,-44.46 L 34.40,-49.05 L 34.70,-48.21 Z M 19.19,-44.46 L 18.72,-46.28 L 34.18,-49.80 L 34.40,-49.05 Z M 18.72,-46.28 L 18.39,-48.07 L 34.02,-50.58 L 34.18,-49.80 Z M 18.39,-48.07 L 18.17,-49.80 L 33.90,-51.48 L 34.02,-50.58 Z M 18.17,-49.80 L 18.03,-51.50 L 33.80,-52.58 L 33.90,-51.48 Z M 18.03,-51.50 L 17.95,-53.18 L 33.73,-53.92 L 33.80,-52.58 Z M 17.95,-53.18 L 17.88,-54.92 L 33.66,-55.52 L 33.73,-53.92 Z M 17.88,-54.92 L 17.82,-56.77 L 33.58,-57.41 L 33.66,-55.52 Z M 17.82,-56.77 L 17.73,-58.89 L 33.49,-59.51 L 33.58,-57.41 Z M 17.73,-58.89 L 17.64,-61.51 L 33.40,-61.92 L 33.49,-59.51 Z M 17.64,-61.51 L 17.58,-64.60 L 33.34,-64.78 L 33.40,-61.92 Z M 17.58,-64.60 L 17.56,-67.96 L 33.32,-68.00 L 33.34,-64.78 Z M 17.56,-67.96 L 17.57,-71.49 L 33.33,-71.43 L 33.32,-68.00 Z M 17.57,-71.49 L 17.59,-75.06 L 33.35,-74.94 L 33.33,-71.43 Z M 17.59,-75.06 L 17.62,-78.54 L 33.38,-78.38 L 33.35,-74.94 Z M 17.62,-78.54 L 17.65,-81.80 L 33.42,-81.62 L 33.38,-78.38 Z M 17.65,-81.80 L 17.69,-84.71 L 33.45,-84.53 L 33.42,-81.62 Z M 17.69,-84.71 L 17.71,-87.12 L 33.48,-86.99 L 33.45,-84.53 Z M 17.71,-87.12 L 17.72,-88.93 L 33.49,-88.85 L 33.48,-86.99 Z" fill="#7a2d3b" stroke="#7a2d3b" stroke-width="2.2" stroke-linejoin="round"/>
<path d="M -17.72,-88.93 L -17.71,-86.89 L -33.48,-86.77 L -33.49,-88.85 Z M -17.71,-86.89 L -17.69,-84.17 L -33.44,-84.00 L -33.48,-86.77 Z M -17.69,-84.17 L -17.66,-80.90 L -33.40,-80.72 L -33.44,-84.00 Z M -17.66,-80.90 L -17.63,-77.23 L -33.35,-77.07 L -33.40,-80.72 Z M -17.63,-77.23 L -17.60,-73.31 L -33.31,-73.20 L -33.35,-77.07 Z M -17.60,-73.31 L -17.58,-69.30 L -33.28,-69.25 L -33.31,-73.20 Z M -17.58,-69.30 L -17.58,-65.34 L -33.28,-65.38 L -33.28,-69.25 Z M -17.58,-65.34 L -17.59,-61.57 L -33.31,-61.75 L -33.28,-65.38 Z M -17.59,-61.57 L -17.64,-58.12 L -33.37,-58.52 L -33.31,-61.75 Z M -17.64,-58.12 L -17.72,-55.18 L -33.48,-55.80 L -33.37,-58.52 Z M -17.72,-55.18 L -17.81,-52.75 L -33.62,-53.48 L -33.48,-55.80 Z M -17.81,-52.75 L -17.88,-50.61 L -33.74,-51.39 L -33.62,-53.48 Z M -17.88,-50.61 L -17.95,-48.62 L -33.87,-49.58 L -33.74,-51.39 Z M -17.95,-48.62 L -18.04,-46.72 L -34.02,-48.04 L -33.87,-49.58 Z M -18.04,-46.72 L -18.18,-44.86 L -34.19,-46.73 L -34.02,-48.04 Z M -18.18,-44.86 L -18.38,-43.01 L -34.39,-45.60 L -34.19,-46.73 Z M -18.38,-43.01 L -18.68,-41.14 L -34.64,-44.59 L -34.39,-45.60 Z M -18.68,-41.14 L -19.08,-39.25 L -34.93,-43.61 L -34.64,-44.59 Z M -19.08,-39.25 L -19.60,-37.33 L -35.31,-42.59 L -34.93,-43.61 Z M -19.60,-37.33 L -20.27,-35.31 L -35.77,-41.53 L -35.31,-42.59 Z M -20.27,-35.31 L -21.12,-33.17 L -36.30,-40.50 L -35.77,-41.53 Z M -21.12,-33.17 L -22.13,-31.08 L -36.94,-39.48 L -36.30,-40.50 Z M -22.13,-31.08 L -23.21,-29.12 L -37.72,-38.37 L -36.94,-39.48 Z M -23.21,-29.12 L -24.33,-27.26 L -38.62,-37.20 L -37.72,-38.37 Z M -24.33,-27.26 L -25.47,-25.51 L -39.64,-35.98 L -38.62,-37.20 Z M -25.47,-25.51 L -26.59,-23.85 L -40.73,-34.70 L -39.64,-35.98 Z M -26.59,-23.85 L -27.68,-22.28 L -41.90,-33.36 L -40.73,-34.70 Z M -27.68,-22.28 L -28.71,-20.81 L -43.11,-31.97 L -41.90,-33.36 Z M -28.71,-20.81 L -29.66,-19.43 L -44.34,-30.52 L -43.11,-31.97 Z M -29.66,-19.43 L -30.59,-18.04 L -45.48,-29.11 L -44.34,-30.52 Z M -30.59,-18.04 L -31.65,-16.50 L -46.48,-27.89 L -45.48,-29.11 Z M -31.65,-16.50 L -32.80,-14.93 L -47.47,-26.74 L -46.48,-27.89 Z M -32.80,-14.93 L -33.94,-13.45 L -48.53,-25.55 L -47.47,-26.74 Z M -33.94,-13.45 L -35.03,-12.06 L -49.65,-24.31 L -48.53,-25.55 Z M -35.03,-12.06 L -36.06,-10.75 L -50.80,-23.02 L -49.65,-24.31 Z M -36.06,-10.75 L -37.00,-9.53 L -51.98,-21.67 L -50.80,-23.02 Z M -37.00,-9.53 L -37.83,-8.40 L -53.17,-20.26 L -51.98,-21.67 Z M -37.83,-8.40 L -38.54,-7.38 L -54.35,-18.76 L -53.17,-20.26 Z M -38.54,-7.38 L -39.09,-6.50 L -55.51,-17.15 L -54.35,-18.76 Z M -39.09,-6.50 L -39.48,-5.78 L -56.63,-15.40 L -55.51,-17.15 Z M -39.48,-5.78 L -39.78,-5.09 L -57.64,-13.54 L -56.63,-15.40 Z M -39.78,-5.09 L -40.08,-4.27 L -58.50,-11.69 L -57.64,-13.54 Z M -40.08,-4.27 L -40.39,-3.32 L -59.21,-9.91 L -58.50,-11.69 Z M -40.39,-3.32 L -40.68,-2.29 L -59.81,-8.22 L -59.21,-9.91 Z M -40.68,-2.29 L -40.95,-1.22 L -60.31,-6.65 L -59.81,-8.22 Z M -40.95,-1.22 L -41.20,-0.13 L -60.73,-5.22 L -60.31,-6.65 Z M -41.20,-0.13 L -41.44,0.96 L -61.09,-3.97 L -60.73,-5.22 Z M -41.44,0.96 L -41.67,2.03 L -61.37,-2.96 L -61.09,-3.97 Z M -41.67,2.03 L -41.93,3.11 L -61.57,-2.29 L -61.37,-2.96 Z M -41.93,3.11 L -42.17,4.00 L -61.74,-1.80 L -61.57,-2.29 Z" fill="url(#cap3v)" stroke="url(#cap3v)" stroke-width="0.5" stroke-linejoin="round"/>
<path d="M -80.52,-10.59 L -79.69,-10.55 L -79.98,10.93 L -80.90,10.93 Z M -79.69,-10.55 L -78.61,-10.51 L -78.80,10.91 L -79.98,10.93 Z M -78.61,-10.51 L -77.29,-10.46 L -77.47,10.88 L -78.80,10.91 Z M -77.29,-10.46 L -75.78,-10.41 L -76.00,10.85 L -77.47,10.88 Z M -75.78,-10.41 L -74.12,-10.34 L -74.43,10.83 L -76.00,10.85 Z M -74.12,-10.34 L -72.37,-10.27 L -72.80,10.81 L -74.43,10.83 Z M -72.37,-10.27 L -70.56,-10.18 L -71.15,10.81 L -72.80,10.81 Z M -70.56,-10.18 L -68.72,-10.08 L -69.54,10.82 L -71.15,10.81 Z M -68.72,-10.08 L -66.90,-9.96 L -68.01,10.85 L -69.54,10.82 Z M -66.90,-9.96 L -65.12,-9.82 L -66.62,10.91 L -68.01,10.85 Z M -65.12,-9.82 L -63.35,-9.65 L -65.22,11.00 L -66.62,10.91 Z M -63.35,-9.65 L -61.55,-9.45 L -63.69,11.13 L -65.22,11.00 Z M -61.55,-9.45 L -59.73,-9.24 L -62.07,11.29 L -63.69,11.13 Z M -59.73,-9.24 L -57.91,-9.01 L -60.41,11.48 L -62.07,11.29 Z M -57.91,-9.01 L -56.14,-8.78 L -58.74,11.68 L -60.41,11.48 Z M -56.14,-8.78 L -54.42,-8.54 L -57.09,11.88 L -58.74,11.68 Z M -54.42,-8.54 L -52.80,-8.32 L -55.49,12.07 L -57.09,11.88 Z M -52.80,-8.32 L -51.32,-8.10 L -53.98,12.25 L -55.49,12.07 Z M -51.32,-8.10 L -50.00,-7.90 L -52.58,12.41 L -53.98,12.25 Z M -50.00,-7.90 L -48.87,-7.73 L -51.33,12.53 L -52.58,12.41 Z M -48.87,-7.73 L -47.86,-7.57 L -50.27,12.61 L -51.33,12.53 Z M -47.86,-7.57 L -46.95,-7.40 L -49.36,12.67 L -50.27,12.61 Z M -46.95,-7.40 L -46.15,-7.25 L -48.56,12.70 L -49.36,12.67 Z M -46.15,-7.25 L -45.45,-7.10 L -47.86,12.72 L -48.56,12.70 Z M -45.45,-7.10 L -44.84,-6.95 L -47.25,12.73 L -47.86,12.72 Z M -44.84,-6.95 L -44.32,-6.82 L -46.72,12.73 L -47.25,12.73 Z M -44.32,-6.82 L -43.86,-6.70 L -46.25,12.72 L -46.72,12.73 Z M -43.86,-6.70 L -43.46,-6.60 L -45.84,12.72 L -46.25,12.72 Z M -43.46,-6.60 L -43.12,-6.51 L -45.47,12.71 L -45.84,12.72 Z M -43.12,-6.51 L -42.80,-6.44 L -45.14,12.72 L -45.47,12.71 Z" fill="url(#cap3)" stroke="url(#cap3)" stroke-width="0.5" stroke-linejoin="round"/>
<path d="M -42.18,-0.93 L -41.98,0.83 L -60.44,2.66 L -60.61,1.28 Z M -41.98,0.83 L -41.81,3.06 L -60.27,4.50 L -60.44,2.66 Z M -41.81,3.06 L -41.64,5.51 L -60.08,6.91 L -60.27,4.50 Z M -41.64,5.51 L -41.46,8.14 L -59.84,9.70 L -60.08,6.91 Z M -41.46,8.14 L -41.22,10.88 L -59.54,12.79 L -59.84,9.70 Z M -41.22,10.88 L -40.91,13.64 L -59.15,16.07 L -59.54,12.79 Z M -40.91,13.64 L -40.51,16.31 L -58.63,19.47 L -59.15,16.07 Z M -40.51,16.31 L -40.01,18.76 L -57.95,22.93 L -58.63,19.47 Z M -40.01,18.76 L -39.43,20.86 L -57.05,26.40 L -57.95,22.93 Z M -39.43,20.86 L -38.76,22.56 L -55.87,29.74 L -57.05,26.40 Z M -38.76,22.56 L -37.88,24.23 L -54.48,32.81 L -55.87,29.74 Z M -37.88,24.23 L -36.74,26.09 L -52.98,35.71 L -54.48,32.81 Z M -36.74,26.09 L -35.42,28.00 L -51.33,38.54 L -52.98,35.71 Z M -35.42,28.00 L -33.94,29.90 L -49.56,41.28 L -51.33,38.54 Z M -33.94,29.90 L -32.36,31.76 L -47.70,43.94 L -49.56,41.28 Z M -32.36,31.76 L -30.71,33.56 L -45.76,46.49 L -47.70,43.94 Z M -30.71,33.56 L -29.02,35.26 L -43.76,48.92 L -45.76,46.49 Z M -29.02,35.26 L -27.35,36.82 L -41.72,51.20 L -43.76,48.92 Z M -27.35,36.82 L -25.74,38.23 L -39.66,53.33 L -41.72,51.20 Z M -25.74,38.23 L -24.28,39.40 L -37.52,55.32 L -39.66,53.33 Z M -24.28,39.40 L -22.99,40.33 L -35.24,57.19 L -37.52,55.32 Z M -22.99,40.33 L -21.72,41.11 L -32.84,58.87 L -35.24,57.19 Z M -21.72,41.11 L -20.41,41.81 L -30.43,60.33 L -32.84,58.87 Z M -20.41,41.81 L -19.04,42.46 L -28.01,61.59 L -30.43,60.33 Z M -19.04,42.46 L -17.61,43.04 L -25.62,62.67 L -28.01,61.59 Z M -17.61,43.04 L -16.10,43.58 L -23.28,63.60 L -25.62,62.67 Z M -16.10,43.58 L -14.52,44.08 L -21.01,64.40 L -23.28,63.60 Z M -14.52,44.08 L -12.87,44.55 L -18.82,65.09 L -21.01,64.40 Z M -12.87,44.55 L -11.16,44.99 L -16.73,65.70 L -18.82,65.09 Z M -11.16,44.99 L -9.44,45.40 L -14.67,66.28 L -16.73,65.70 Z M -9.44,45.40 L -7.86,45.74 L -12.54,66.83 L -14.67,66.28 Z M -7.86,45.74 L -6.38,46.00 L -10.34,67.32 L -12.54,66.83 Z M -6.38,46.00 L -4.94,46.19 L -8.11,67.74 L -10.34,67.32 Z M -4.94,46.19 L -3.54,46.32 L -5.86,68.07 L -8.11,67.74 Z M -3.54,46.32 L -2.16,46.40 L -3.59,68.31 L -5.86,68.07 Z M -2.16,46.40 L -0.79,46.42 L -1.28,68.45 L -3.59,68.31 Z M -0.79,46.42 L 0.58,46.38 L 1.04,68.49 L -1.28,68.45 Z M 0.58,46.38 L 1.97,46.29 L 3.39,68.43 L 1.04,68.49 Z M 1.97,46.29 L 3.39,46.15 L 5.75,68.25 L 3.39,68.43 Z M 3.39,46.15 L 4.87,45.94 L 8.12,67.96 L 5.75,68.25 Z M 4.87,45.94 L 6.45,45.67 L 10.49,67.58 L 8.12,67.96 Z M 6.45,45.67 L 8.11,45.33 L 12.87,67.10 L 10.49,67.58 Z M 8.11,45.33 L 9.81,44.94 L 15.30,66.51 L 12.87,67.10 Z M 9.81,44.94 L 11.54,44.49 L 17.74,65.83 L 15.30,66.51 Z M 11.54,44.49 L 13.26,43.98 L 20.20,65.05 L 17.74,65.83 Z M 13.26,43.98 L 14.96,43.40 L 22.67,64.17 L 20.20,65.05 Z M 14.96,43.40 L 16.62,42.77 L 25.13,63.18 L 22.67,64.17 Z M 16.62,42.77 L 18.22,42.08 L 27.58,62.08 L 25.13,63.18 Z M 18.22,42.08 L 19.74,41.34 L 30.00,60.87 L 27.58,62.08 Z M 19.74,41.34 L 21.16,40.56 L 32.39,59.53 L 30.00,60.87 Z M 21.16,40.56 L 22.57,39.67 L 34.73,58.07 L 32.39,59.53 Z M 22.57,39.67 L 24.05,38.62 L 37.02,56.49 L 34.73,58.07 Z M 24.05,38.62 L 25.58,37.45 L 39.25,54.83 L 37.02,56.49 Z M 25.58,37.45 L 27.12,36.17 L 41.41,53.08 L 39.25,54.83 Z M 27.12,36.17 L 28.63,34.81 L 43.50,51.28 L 41.41,53.08 Z M 28.63,34.81 L 30.11,33.41 L 45.51,49.43 L 43.50,51.28 Z M 30.11,33.41 L 31.51,32.00 L 47.43,47.54 L 45.51,49.43 Z M 31.51,32.00 L 32.82,30.61 L 49.25,45.63 L 47.43,47.54 Z M 32.82,30.61 L 34.01,29.26 L 50.95,43.70 L 49.25,45.63 Z M 34.01,29.26 L 35.03,28.02 L 52.55,41.75 L 50.95,43.70 Z M 35.03,28.02 L 35.90,26.90 L 54.04,39.72 L 52.55,41.75 Z M 35.90,26.90 L 36.66,25.78 L 55.40,37.65 L 54.04,39.72 Z M 36.66,25.78 L 37.36,24.66 L 56.63,35.57 L 55.40,37.65 Z M 37.36,24.66 L 38.00,23.51 L 57.71,33.48 L 56.63,35.57 Z M 38.00,23.51 L 38.59,22.33 L 58.67,31.41 L 57.71,33.48 Z M 38.59,22.33 L 39.15,21.12 L 59.51,29.35 L 58.67,31.41 Z M 39.15,21.12 L 39.68,19.87 L 60.23,27.32 L 59.51,29.35 Z M 39.68,19.87 L 40.18,18.58 L 60.86,25.33 L 60.23,27.32 Z M 40.18,18.58 L 40.66,17.25 L 61.40,23.37 L 60.86,25.33 Z M 40.66,17.25 L 41.08,16.05 L 61.90,21.29 L 61.40,23.37 Z M 41.08,16.05 L 41.42,15.00 L 62.33,18.90 L 61.90,21.29 Z M 41.42,15.00 L 41.72,13.79 L 62.59,16.42 L 62.33,18.90 Z M 41.72,13.79 L 42.01,12.34 L 62.69,14.03 L 62.59,16.42 Z M 42.01,12.34 L 42.26,10.74 L 62.68,11.75 L 62.69,14.03 Z M 42.26,10.74 L 42.48,9.08 L 62.60,9.60 L 62.68,11.75 Z M 42.48,9.08 L 42.66,7.41 L 62.48,7.61 L 62.60,9.60 Z M 42.66,7.41 L 42.81,5.79 L 62.34,5.84 L 62.48,7.61 Z M 42.81,5.79 L 42.94,4.26 L 62.21,4.35 L 62.34,5.84 Z M 42.94,4.26 L 43.06,2.82 L 62.11,3.23 L 62.21,4.35 Z M 43.06,2.82 L 43.19,1.67 L 62.06,2.40 L 62.11,3.23 Z" fill="url(#cap3)" stroke="url(#cap3)" stroke-width="0.5" stroke-linejoin="round"/>
<path d="M 45.73,4.38 L 45.96,4.32 L 49.14,24.16 L 48.90,24.17 Z M 45.96,4.32 L 46.20,4.24 L 49.39,24.16 L 49.14,24.16 Z M 46.20,4.24 L 46.47,4.15 L 49.67,24.16 L 49.39,24.16 Z M 46.47,4.15 L 46.78,4.04 L 50.00,24.16 L 49.67,24.16 Z M 46.78,4.04 L 47.15,3.93 L 50.38,24.15 L 50.00,24.16 Z M 47.15,3.93 L 47.58,3.81 L 50.83,24.13 L 50.38,24.15 Z M 47.58,3.81 L 48.10,3.68 L 51.37,24.09 L 50.83,24.13 Z M 48.10,3.68 L 48.72,3.55 L 52.00,24.03 L 51.37,24.09 Z M 48.72,3.55 L 49.45,3.41 L 52.74,23.93 L 52.00,24.03 Z M 49.45,3.41 L 50.31,3.27 L 53.60,23.79 L 52.74,23.93 Z M 50.31,3.27 L 51.32,3.13 L 54.62,23.61 L 53.60,23.79 Z M 51.32,3.13 L 52.48,2.98 L 55.78,23.39 L 54.62,23.61 Z M 52.48,2.98 L 53.77,2.81 L 57.06,23.13 L 55.78,23.39 Z M 53.77,2.81 L 55.18,2.65 L 58.44,22.85 L 57.06,23.13 Z M 55.18,2.65 L 56.66,2.47 L 59.89,22.55 L 58.44,22.85 Z M 56.66,2.47 L 58.19,2.29 L 61.39,22.24 L 59.89,22.55 Z M 58.19,2.29 L 59.75,2.12 L 62.92,21.93 L 61.39,22.24 Z M 59.75,2.12 L 61.32,1.94 L 64.44,21.61 L 62.92,21.93 Z M 61.32,1.94 L 62.87,1.76 L 65.93,21.31 L 64.44,21.61 Z M 62.87,1.76 L 64.37,1.59 L 67.37,21.02 L 65.93,21.31 Z M 64.37,1.59 L 65.91,1.41 L 68.86,20.74 L 67.37,21.02 Z M 65.91,1.41 L 67.56,1.22 L 70.47,20.43 L 68.86,20.74 Z M 67.56,1.22 L 69.29,1.03 L 72.16,20.11 L 70.47,20.43 Z M 69.29,1.03 L 71.04,0.83 L 73.87,19.79 L 72.16,20.11 Z M 71.04,0.83 L 72.76,0.64 L 75.57,19.47 L 73.87,19.79 Z M 72.76,0.64 L 74.41,0.45 L 77.19,19.17 L 75.57,19.47 Z M 74.41,0.45 L 75.94,0.28 L 78.70,18.89 L 77.19,19.17 Z M 75.94,0.28 L 77.31,0.13 L 80.05,18.63 L 78.70,18.89 Z M 77.31,0.13 L 78.46,0.00 L 81.20,18.42 L 80.05,18.63 Z M 78.46,0.00 L 79.34,-0.10 L 82.08,18.26 L 81.20,18.42 Z" fill="url(#cap3)" stroke="url(#cap3)" stroke-width="0.5" stroke-linejoin="round"/>
<path d="M 43.18,7.05 L 43.02,5.79 L 60.79,3.45 L 60.95,4.43 Z M 43.02,5.79 L 42.84,4.21 L 60.62,2.16 L 60.79,3.45 Z M 42.84,4.21 L 42.67,2.48 L 60.41,0.47 L 60.62,2.16 Z M 42.67,2.48 L 42.48,0.63 L 60.16,-1.51 L 60.41,0.47 Z M 42.48,0.63 L 42.27,-1.30 L 59.85,-3.69 L 60.16,-1.51 Z M 42.27,-1.30 L 42.01,-3.26 L 59.49,-6.02 L 59.85,-3.69 Z M 42.01,-3.26 L 41.72,-5.16 L 59.04,-8.44 L 59.49,-6.02 Z M 41.72,-5.16 L 41.38,-6.94 L 58.49,-10.91 L 59.04,-8.44 Z M 41.38,-6.94 L 41.01,-8.49 L 57.81,-13.41 L 58.49,-10.91 Z M 41.01,-8.49 L 40.62,-9.79 L 56.98,-15.84 L 57.81,-13.41 Z M 40.62,-9.79 L 40.14,-11.03 L 56.01,-18.11 L 56.98,-15.84 Z M 40.14,-11.03 L 39.53,-12.39 L 54.96,-20.22 L 56.01,-18.11 Z M 39.53,-12.39 L 38.80,-13.82 L 53.84,-22.24 L 54.96,-20.22 Z M 38.80,-13.82 L 37.98,-15.29 L 52.66,-24.18 L 53.84,-22.24 Z M 37.98,-15.29 L 37.08,-16.81 L 51.46,-26.02 L 52.66,-24.18 Z M 37.08,-16.81 L 36.10,-18.37 L 50.26,-27.80 L 51.46,-26.02 Z M 36.10,-18.37 L 35.08,-19.95 L 49.06,-29.50 L 50.26,-27.80 Z M 35.08,-19.95 L 34.01,-21.56 L 47.89,-31.13 L 49.06,-29.50 Z M 34.01,-21.56 L 32.93,-23.20 L 46.77,-32.68 L 47.89,-31.13 Z M 32.93,-23.20 L 31.93,-24.74 L 45.63,-34.29 L 46.77,-32.68 Z M 31.93,-24.74 L 31.04,-26.06 L 44.33,-36.04 L 45.63,-34.29 Z M 31.04,-26.06 L 30.09,-27.32 L 42.93,-37.75 L 44.33,-36.04 Z M 30.09,-27.32 L 29.03,-28.66 L 41.55,-39.33 L 42.93,-37.75 Z M 29.03,-28.66 L 27.87,-30.06 L 40.23,-40.79 L 41.55,-39.33 Z M 27.87,-30.06 L 26.64,-31.54 L 39.00,-42.15 L 40.23,-40.79 Z M 26.64,-31.54 L 25.36,-33.11 L 37.89,-43.40 L 39.00,-42.15 Z M 25.36,-33.11 L 24.08,-34.78 L 36.93,-44.54 L 37.89,-43.40 Z M 24.08,-34.78 L 22.82,-36.59 L 36.14,-45.57 L 36.93,-44.54 Z M 22.82,-36.59 L 21.61,-38.57 L 35.54,-46.46 L 36.14,-45.57 Z M 21.61,-38.57 L 20.59,-40.65 L 35.08,-47.32 L 35.54,-46.46 Z M 20.59,-40.65 L 19.80,-42.61 L 34.70,-48.21 L 35.08,-47.32 Z M 19.80,-42.61 L 19.19,-44.46 L 34.40,-49.05 L 34.70,-48.21 Z M 19.19,-44.46 L 18.72,-46.28 L 34.18,-49.80 L 34.40,-49.05 Z M 18.72,-46.28 L 18.39,-48.07 L 34.02,-50.58 L 34.18,-49.80 Z M 18.39,-48.07 L 18.17,-49.80 L 33.90,-51.48 L 34.02,-50.58 Z M 18.17,-49.80 L 18.03,-51.50 L 33.80,-52.58 L 33.90,-51.48 Z M 18.03,-51.50 L 17.95,-53.18 L 33.73,-53.92 L 33.80,-52.58 Z M 17.95,-53.18 L 17.88,-54.92 L 33.66,-55.52 L 33.73,-53.92 Z M 17.88,-54.92 L 17.82,-56.77 L 33.58,-57.41 L 33.66,-55.52 Z M 17.82,-56.77 L 17.73,-58.89 L 33.49,-59.51 L 33.58,-57.41 Z M 17.73,-58.89 L 17.64,-61.51 L 33.40,-61.92 L 33.49,-59.51 Z M 17.64,-61.51 L 17.58,-64.60 L 33.34,-64.78 L 33.40,-61.92 Z M 17.58,-64.60 L 17.56,-67.96 L 33.32,-68.00 L 33.34,-64.78 Z M 17.56,-67.96 L 17.57,-71.49 L 33.33,-71.43 L 33.32,-68.00 Z M 17.57,-71.49 L 17.59,-75.06 L 33.35,-74.94 L 33.33,-71.43 Z M 17.59,-75.06 L 17.62,-78.54 L 33.38,-78.38 L 33.35,-74.94 Z M 17.62,-78.54 L 17.65,-81.80 L 33.42,-81.62 L 33.38,-78.38 Z M 17.65,-81.80 L 17.69,-84.71 L 33.45,-84.53 L 33.42,-81.62 Z M 17.69,-84.71 L 17.71,-87.12 L 33.48,-86.99 L 33.45,-84.53 Z M 17.71,-87.12 L 17.72,-88.93 L 33.49,-88.85 L 33.48,-86.99 Z" fill="url(#cap3)" stroke="url(#cap3)" stroke-width="0.5" stroke-linejoin="round"/>
<path d="M -37.11,-33.23 L -37.75,-32.37 L -38.62,-31.23 L -39.65,-29.88 L -40.80,-28.38 L -41.98,-26.78 L -43.13,-25.16 L -44.19,-23.58 L -45.09,-22.09 L -45.87,-20.59 L -46.63,-18.97 L -47.34,-17.30 L -48.00,-15.64 L -48.59,-14.08 L -49.12,-12.66 L -49.56,-11.48 L -49.91,-10.59" fill="none" stroke="#1f4e8f" stroke-width="2.1" stroke-linecap="round"/><path d="M -51.25,-7.03 L -52.48,-15.62 L -49.24,-12.37 L -44.66,-12.67 Z" fill="#1f4e8f"/>
<path d="M -49.17,24.29 L -48.73,25.17 L -48.17,26.36 L -47.51,27.78 L -46.76,29.34 L -45.94,30.97 L -45.06,32.58 L -44.16,34.09 L -43.23,35.43 L -42.20,36.66 L -41.00,37.91 L -39.72,39.13 L -38.41,40.30 L -37.14,41.38 L -35.99,42.34 L -35.03,43.15 L -34.32,43.78" fill="none" stroke="#1f4e8f" stroke-width="2.1" stroke-linecap="round"/><path d="M -31.43,46.24 L -39.93,44.50 L -35.77,42.55 L -34.51,38.13 Z" fill="#1f4e8f"/>
<path d="M -16.70,56.77 L -15.62,57.02 L -14.18,57.41 L -12.47,57.87 L -10.57,58.37 L -8.57,58.83 L -6.55,59.22 L -4.59,59.47 L -2.78,59.55 L -0.99,59.40 L 0.91,59.07 L 2.86,58.60 L 4.77,58.05 L 6.57,57.49 L 8.19,56.95 L 9.55,56.51 L 10.58,56.21" fill="none" stroke="#6b1c2c" stroke-width="2.1" stroke-linecap="round"/><path d="M 14.20,55.05 L 8.23,61.35 L 8.77,56.79 L 5.69,53.38 Z" fill="#6b1c2c"/>
<path d="M 32.47,46.56 L 33.21,45.87 L 34.20,44.97 L 35.39,43.91 L 36.70,42.71 L 38.07,41.41 L 39.41,40.05 L 40.66,38.67 L 41.75,37.28 L 42.74,35.78 L 43.72,34.07 L 44.67,32.24 L 45.58,30.39 L 46.41,28.62 L 47.14,27.01 L 47.76,25.66 L 48.24,24.67" fill="none" stroke="#8a1c24" stroke-width="2.1" stroke-linecap="round"/><path d="M 49.84,21.22 L 50.43,29.87 L 47.44,26.39 L 42.85,26.35 Z" fill="#8a1c24"/>
<path d="M 49.54,0.17 L 49.20,-1.26 L 48.81,-3.16 L 48.34,-5.43 L 47.79,-7.94 L 47.15,-10.61 L 46.40,-13.31 L 45.53,-15.94 L 44.53,-18.38 L 43.34,-20.74 L 41.93,-23.15 L 40.36,-25.58 L 38.71,-28.01 L 37.03,-30.39 L 35.39,-32.69 L 33.85,-34.88 L 32.47,-36.94 L 31.20,-38.84 L 29.95,-40.62 L 28.74,-42.30 L 27.60,-43.89 L 26.55,-45.43 L 25.60,-46.94 L 24.79,-48.43 L 24.12,-49.92 L 23.64,-51.48 L 23.35,-53.10 L 23.19,-54.72 L 23.14,-56.30 L 23.15,-57.78 L 23.19,-59.10 L 23.22,-60.21 L 23.19,-61.06" fill="none" stroke="#8a1c24" stroke-width="2.1" stroke-linecap="round"/><path d="M 23.25,-64.86 L 27.32,-57.20 L 23.17,-59.16 L 18.96,-57.32 Z" fill="#8a1c24"/>
<path d="M -13.54,-95 L -13.54,-45.29 C -13.54,-36.29 -22.77,-28.03 -28.58,-21.16 A 36.74 36.74 0 1 0 27.47,-21.16 C 21.66,-28.03 12.06,-36.29 12.06,-45.29 L 12.06,-95 Z" fill="none" stroke="#7a2d3b" stroke-width="15.0"/>
<path d="M -13.54,-95 L -13.54,-45.29 C -13.54,-36.29 -22.77,-28.03 -28.58,-21.16 A 36.74 36.74 0 1 0 27.47,-21.16 C 21.66,-28.03 12.06,-36.29 12.06,-45.29 L 12.06,-95 Z" fill="none" stroke="#fdf0ed" stroke-width="12.4"/>
<path d="M -13.54,-95 L -13.54,-45.29 C -13.54,-36.29 -22.77,-28.03 -28.58,-21.16 A 36.74 36.74 0 1 0 27.47,-21.16 C 21.66,-28.03 12.06,-36.29 12.06,-45.29 L 12.06,-95 Z" fill="#cabfe3" stroke="#a9675a" stroke-width="6.0"/>
<path d="M -13.54,-95 L -13.54,-45.29 C -13.54,-36.29 -22.77,-28.03 -28.58,-21.16 A 36.74 36.74 0 1 0 27.47,-21.16 C 21.66,-28.03 12.06,-36.29 12.06,-45.29 L 12.06,-95 Z" fill="none" stroke="#f6d47a" stroke-width="4.4"/>
</g>
<circle cx="0" cy="0" r="75.3" fill="none" stroke="#080808" stroke-width="3.2"/>
</g>
<text x="354.2" y="422.5" font-size="22.5" font-weight="normal" fill="#111" stroke="#111" stroke-width="0.42" stroke-linejoin="round" textLength="85.6" lengthAdjust="spacingAndGlyphs" >Collapsed</text>
<text x="352.7" y="443.0" font-size="22.5" font-weight="normal" fill="#111" stroke="#111" stroke-width="0.42" stroke-linejoin="round" textLength="88.1" lengthAdjust="spacingAndGlyphs" >capillaries</text>
<text x="332.7" y="628.6" font-size="22.5" font-weight="normal" fill="#111" stroke="#111" stroke-width="0.42" stroke-linejoin="round" textLength="144.6" lengthAdjust="spacingAndGlyphs" >Intermittent flow</text>
<text x="344.2" y="649.0" font-size="22.5" font-weight="normal" fill="#111" stroke="#111" stroke-width="0.42" stroke-linejoin="round" textLength="120.6" lengthAdjust="spacingAndGlyphs" >during systole</text>
<text x="347.7" y="836.5" font-size="22.5" font-weight="normal" fill="#111" stroke="#111" stroke-width="0.42" stroke-linejoin="round" textLength="97.1" lengthAdjust="spacingAndGlyphs" >Continuous</text>
<text x="326.7" y="857.5" font-size="22.5" font-weight="normal" fill="#111" stroke="#111" stroke-width="0.42" stroke-linejoin="round" textLength="139.6" lengthAdjust="spacingAndGlyphs" >recruitment and</text>
<text x="351.7" y="878.0" font-size="22.5" font-weight="normal" fill="#111" stroke="#111" stroke-width="0.42" stroke-linejoin="round" textLength="89.6" lengthAdjust="spacingAndGlyphs" >distension</text>
<circle cx="61.3" cy="904.3" r="15.8" fill="#f7d55c" stroke="#d9a521" stroke-width="1.8"/>
<text x="61.3" y="911.3" font-size="20" font-weight="bold" fill="#1a1a1a" text-anchor="middle" textLength="17.5" lengthAdjust="spacingAndGlyphs" stroke="#1a1a1a" stroke-width="0.4">P<tspan font-size="15" dy="0.8">A</tspan></text>
<path d="M 83.0,900.4 L 102.8,900.4 L 101.8,894.6999999999999 L 119.4,904.3 L 101.8,913.9 L 102.8,908.1999999999999 L 83.0,908.1999999999999 Z" fill="url(#legY)" stroke="url(#legYs)" stroke-width="1.1" stroke-linejoin="miter"/>
<text x="126.2" y="911.0" font-size="22.5" font-weight="normal" fill="#111" stroke="#111" stroke-width="0.42" stroke-linejoin="round" textLength="157.0" lengthAdjust="spacingAndGlyphs" >Alveolar Pressure</text>
<circle cx="61.3" cy="941.6" r="15.8" fill="#cf4040" stroke="#a82c2c" stroke-width="1.8"/>
<text x="61.3" y="948.6" font-size="20" font-weight="bold" fill="#ffffff" text-anchor="middle" textLength="17.5" lengthAdjust="spacingAndGlyphs" stroke="#ffffff" stroke-width="0.4">Pa</text>
<path d="M 83.0,937.7 L 102.8,937.7 L 101.8,932.0 L 119.4,941.6 L 101.8,951.2 L 102.8,945.5 L 83.0,945.5 Z" fill="url(#legR)" stroke="url(#legRs)" stroke-width="1.1" stroke-linejoin="miter"/>
<text x="126.2" y="949.0" font-size="22.5" font-weight="normal" fill="#111" stroke="#111" stroke-width="0.42" stroke-linejoin="round" textLength="149.6" lengthAdjust="spacingAndGlyphs" >Arterial Pressure</text>
<circle cx="61.3" cy="979.0" r="15.8" fill="#2e73b6" stroke="#1d4f86" stroke-width="1.8"/>
<text x="61.3" y="986.0" font-size="20" font-weight="bold" fill="#ffffff" text-anchor="middle" textLength="17.5" lengthAdjust="spacingAndGlyphs" stroke="#ffffff" stroke-width="0.4">Pv</text>
<path d="M 83.0,975.1 L 102.8,975.1 L 101.8,969.4 L 119.4,979.0 L 101.8,988.6 L 102.8,982.9 L 83.0,982.9 Z" fill="url(#legB)" stroke="url(#legBs)" stroke-width="1.1" stroke-linejoin="miter"/>
<text x="126.2" y="986.3" font-size="22.5" font-weight="normal" fill="#111" stroke="#111" stroke-width="0.42" stroke-linejoin="round" textLength="149.6" lengthAdjust="spacingAndGlyphs" >Venous Pressure</text>
<text x="337.6" y="909.6" font-size="23.6" font-weight="bold" fill="#2c5c8f" stroke="#2c5c8f" stroke-width="0.55" stroke-linejoin="round" textLength="34.5" lengthAdjust="spacingAndGlyphs" >KEY</text>
<rect x="335.5" y="915.5" width="650" height="80.5" rx="11" ry="11" fill="#dce8f3" stroke="#2c5a8a" stroke-width="2.6"/>
<text x="366.7" y="950.2" font-size="28.4" font-weight="normal" fill="#111" stroke="#111" stroke-width="0.42" stroke-linejoin="round" textLength="526.6" lengthAdjust="spacingAndGlyphs" >Regional differences in pressures lead to uneven</text>
<text x="358.2" y="978.0" font-size="28.5" font-weight="normal" fill="#111" stroke="#111" stroke-width="0.42" stroke-linejoin="round" textLength="604.1" lengthAdjust="spacingAndGlyphs" >distribution of blood flow and ventilation down the lung.</text>
<text x="533.8" y="210.2" font-size="24" font-weight="bold" fill="#111" stroke="#111" stroke-width="0.55" stroke-linejoin="round" textLength="166.0" lengthAdjust="spacingAndGlyphs" >Relative Pressure</text>
<text x="485.0" y="235.6" font-size="24" font-weight="bold" fill="#111" stroke="#111" stroke-width="0.55" stroke-linejoin="round" textLength="262.8" lengthAdjust="spacingAndGlyphs" >Changes from Apex to Base</text>
<text x="768.3" y="210.2" font-size="24" font-weight="bold" fill="#111" stroke="#111" stroke-width="0.55" stroke-linejoin="round" textLength="215.0" lengthAdjust="spacingAndGlyphs" >Ventilation, Perfusion,</text>
<text x="811.3" y="235.6" font-size="24" font-weight="bold" fill="#111" stroke="#111" stroke-width="0.55" stroke-linejoin="round" textLength="130.5" lengthAdjust="spacingAndGlyphs" >and V/Q Ratio</text>
<path d="M 515.5,269.5 L 515.5,815.5 L 725.5,815.5" fill="none" stroke="#050505" stroke-width="4" stroke-linejoin="miter"/>
<path d="M 515.5,255.5 L 526.5,277.5 Q 515.5,272.5 504.5,277.5 Z" fill="#050505"/>
<path d="M 739.5,815.5 L 718.5,804.5 Q 722.5,815.5 718.5,826.5 Z" fill="#050505"/>
<path d="M 776.7,269.5 L 776.7,815.5 L 971,815.5" fill="none" stroke="#050505" stroke-width="4" stroke-linejoin="miter"/>
<path d="M 776.7,255.5 L 787.7,277.5 Q 776.7,272.5 765.7,277.5 Z" fill="#050505"/>
<path d="M 985,815.5 L 964,804.5 Q 968,815.5 964,826.5 Z" fill="#050505"/>
<text x="593.2" y="280.8" font-size="29" font-weight="normal" fill="#111" stroke="#111" stroke-width="0.42" stroke-linejoin="round" textLength="53.6" lengthAdjust="spacingAndGlyphs" >Apex</text>
<text x="597.8" y="845.5" font-size="28.5" font-weight="normal" fill="#111" stroke="#111" stroke-width="0.42" stroke-linejoin="round" textLength="50.4" lengthAdjust="spacingAndGlyphs" >Base</text>
<path d="M 518.5,283 C 555,355 590,440 614,506 C 634,565 648,650 655.5,704.7 C 660,735 664,770 669,810" fill="none" stroke="#0a0a0a" stroke-width="3.8" stroke-dasharray="3.8 4.1"/>
<path d="M 516,506 C 545,548 575,600 600,652 C 612,680 624,718 634.4,747 C 640,765 644,782 648,800" fill="none" stroke="#2f7fc1" stroke-width="4.6"/>
<path d="M 652.3,813.5 L 634.2,793.6 L 659,789 Z" fill="#2f7fc1"/>
<path d="M 516.5,279 C 545,370 575,460 603,553 C 620,612 632,660 641.4,700 C 649,735 656,765 662.5,800" fill="none" stroke="#c8373a" stroke-width="4.5"/>
<path d="M 664.5,813.5 L 649,794.5 L 673.2,787.8 Z" fill="#c8373a"/>
<path d="M 552.0,294.4 L 568.0,307.2 L 558.0,308.5 L 550.1,314.8 Z" fill="#f3be3c"/>
<path d="M 562.2,313.5 L 566.5,323.6" stroke="#f3be3c" stroke-width="4.5" fill="none"/>
<path d="M 569.8,331.2 L 577.4,350.3" stroke="#f3be3c" stroke-width="4.5" fill="none"/>
<path d="M 581.2,359.2 L 590.1,379.5" stroke="#f3be3c" stroke-width="4.5" fill="none"/>
<path d="M 593.4,387.1 L 598.5,401.1" stroke="#f3be3c" stroke-width="4.5" fill="none"/>
<path d="M 604.1,417.6 L 588.2,404.8 L 598.1,403.5 L 606.0,397.2 Z" fill="#f3be3c"/>
<path d="M 607.9,427.7 L 619.8,464.5" stroke="#f3be3c" stroke-width="4.5" fill="none"/>
<path d="M 625.7,481.0 L 610.8,467.0 L 620.8,466.5 L 629.2,460.9 Z" fill="#f3be3c"/>
<path d="M 628.2,492.5 L 636.6,528.1" stroke="#f3be3c" stroke-width="4.5" fill="none"/>
<path d="M 641.0,546.0 L 627.4,530.7 L 637.4,531.1 L 646.2,526.2 Z" fill="#f3be3c"/>
<path d="M 644.2,559.5 L 651.8,597.4" stroke="#f3be3c" stroke-width="4.5" fill="none"/>
<path d="M 655.0,613.6 L 642.0,597.9 L 652.0,598.6 L 661.0,594.1 Z" fill="#f3be3c"/>
<path d="M 657.2,627.1 L 668.0,702.9" stroke="#f3be3c" stroke-width="4.5" fill="none"/>
<path d="M 670.7,720.7 L 658.5,704.3 L 668.5,705.6 L 677.7,701.5 Z" fill="#f3be3c"/>
<path d="M 672.9,733.7 L 678.6,796.5" stroke="#f3be3c" stroke-width="3.6" fill="none"/>
<path d="M 679.9,812.7 L 668.6,795.6 L 678.6,797.5 L 688.0,793.9 Z" fill="#f3be3c"/>
<text x="595.9" y="361.9" font-size="29.8" font-weight="bold" fill="#0a0a0a" stroke="#0a0a0a" stroke-width="0.5" textLength="24.8" lengthAdjust="spacingAndGlyphs">P<tspan font-size="21" dy="2.7">A</tspan></text>
<text x="545.9" y="483.7" font-size="29.8" font-weight="bold" fill="#c43a3d" stroke="#c43a3d" stroke-width="0.55" stroke-linejoin="round" textLength="26.1" lengthAdjust="spacingAndGlyphs" >Pa</text>
<text x="549.8" y="652.7" font-size="30" font-weight="bold" fill="#2e75b8" stroke="#2e75b8" stroke-width="0.55" stroke-linejoin="round" textLength="26.9" lengthAdjust="spacingAndGlyphs" >Pv</text>
<path d="M 715.3,282.5 L 736.9,321 L 722.6999999999999,318.5 L 722.6999999999999,768.8 L 736.9,766.4 L 715.3,805.5 L 693.6999999999999,766.4 L 707.9,768.8 L 707.9,318.5 L 693.6999999999999,321 Z" fill="url(#bigArrow)" stroke="#0a0a0a" stroke-width="1.6" stroke-linejoin="miter"/>
<path d="M 793.0,285.5 L 793.3,288.7 L 793.7,292.8 L 794.1,297.6 L 794.6,303.1 L 795.1,308.9 L 795.7,315.1 L 796.2,321.3 L 796.8,327.5 L 797.4,333.4 L 798.0,339.0 L 798.6,344.3 L 799.1,349.5 L 799.7,354.7 L 800.3,359.9 L 800.9,365.2 L 801.6,370.4 L 802.2,375.7 L 802.9,381.0 L 803.6,386.5 L 804.4,392.0 L 805.2,397.7 L 806.0,403.6 L 806.8,409.5 L 807.7,415.6 L 808.6,421.7 L 809.5,427.8 L 810.4,433.8 L 811.4,439.7 L 812.4,445.4 L 813.5,451.0 L 814.6,456.4 L 815.7,461.7 L 816.8,467.0 L 818.0,472.1 L 819.2,477.2 L 820.5,482.2 L 821.8,487.0 L 823.1,491.7 L 824.5,496.3 L 826.0,500.8 L 827.6,505.1 L 829.2,509.3 L 831.0,513.3 L 832.8,517.2 L 834.6,520.9 L 836.5,524.7 L 838.4,528.3 L 840.2,531.9 L 842.0,535.4 L 843.8,539.0 L 845.5,542.5 L 847.2,546.0 L 848.8,549.4 L 850.5,552.8 L 852.1,556.1 L 853.8,559.4 L 855.4,562.6 L 857.0,565.8 L 858.7,568.9 L 860.3,572.0 L 862.0,575.0 L 863.6,577.9 L 865.3,580.8 L 867.0,583.6 L 868.6,586.3 L 870.3,589.1 L 871.9,591.8 L 873.6,594.5 L 875.2,597.2 L 876.8,600.0 L 878.4,602.8 L 880.0,605.7 L 881.6,608.5 L 883.2,611.4 L 884.8,614.2 L 886.3,617.0 L 887.8,619.8 L 889.3,622.6 L 890.7,625.2 L 892.0,627.8 L 893.2,630.3 L 894.4,632.8 L 895.5,635.2 L 896.6,637.5 L 897.6,639.8 L 898.5,642.1 L 899.5,644.3 L 900.4,646.4 L 901.3,648.5 L 902.2,650.6 L 903.1,652.5 L 903.9,654.3 L 904.7,655.9 L 905.4,657.4 L 906.2,659.0 L 906.9,660.5 L 907.6,662.2 L 908.4,664.0 L 909.2,666.1 L 910.0,668.4 L 910.9,671.0 L 911.8,674.0 L 912.7,677.2 L 913.7,680.5 L 914.7,683.9 L 915.6,687.4 L 916.5,690.8 L 917.4,694.1 L 918.2,697.2 L 919.0,700.0 L 919.7,702.5 L 920.3,704.6 L 920.8,706.5 L 921.3,708.2 L 921.8,709.9 L 922.3,711.8 L 922.7,713.8 L 923.2,716.1 L 923.8,718.8 L 924.4,722.0 L 925.1,725.8 L 925.9,730.1 L 926.7,734.8 L 927.5,739.7 L 928.3,744.9 L 929.2,750.2 L 930.0,755.5 L 930.7,760.7 L 931.4,765.7 L 932.0,770.5 L 932.5,775.2 L 932.9,780.2 L 933.3,785.3 L 933.7,790.3 L 934.0,795.3 L 934.2,800.0 L 934.5,804.3 L 934.7,808.2 L 934.8,811.4 L 935.0,814.0" fill="none" stroke="#5fae62" stroke-width="4.2" stroke-linejoin="round"/>
<path d="M 896.0,285.5 L 894.2,288.8 L 891.8,293.1 L 889.0,298.2 L 885.8,303.9 L 882.4,310.1 L 878.9,316.4 L 875.5,322.6 L 872.2,328.6 L 869.3,334.2 L 866.7,339.0 L 864.5,343.3 L 862.5,347.2 L 860.7,350.9 L 859.0,354.4 L 857.4,357.8 L 855.9,361.0 L 854.4,364.2 L 853.0,367.4 L 851.5,370.6 L 850.0,374.0 L 848.5,377.4 L 847.0,380.8 L 845.6,384.3 L 844.2,387.7 L 842.8,391.0 L 841.5,394.4 L 840.1,397.7 L 838.8,401.0 L 837.5,404.3 L 836.2,407.5 L 834.9,410.7 L 833.6,413.8 L 832.3,416.9 L 831.1,420.0 L 829.8,423.1 L 828.6,426.1 L 827.4,429.1 L 826.2,432.1 L 825.1,435.1 L 824.0,438.0 L 822.9,440.9 L 821.9,443.8 L 820.9,446.7 L 819.9,449.6 L 818.9,452.4 L 818.0,455.2 L 817.1,458.0 L 816.2,460.7 L 815.4,463.4 L 814.6,466.0 L 813.9,468.6 L 813.2,471.1 L 812.5,473.7 L 811.9,476.1 L 811.3,478.6 L 810.7,481.0 L 810.2,483.3 L 809.7,485.6 L 809.2,487.8 L 808.8,490.0 L 808.4,492.1 L 808.0,494.2 L 807.7,496.2 L 807.4,498.2 L 807.2,500.1 L 806.9,502.0 L 806.7,503.8 L 806.5,505.6 L 806.4,507.3 L 806.2,509.0 L 806.1,510.6 L 805.9,512.1 L 805.8,513.4 L 805.7,514.8 L 805.7,516.1 L 805.6,517.4 L 805.6,518.7 L 805.6,520.0 L 805.6,521.5 L 805.7,523.0 L 805.8,524.6 L 805.9,526.3 L 806.0,528.0 L 806.1,529.8 L 806.2,531.6 L 806.4,533.5 L 806.6,535.3 L 806.9,537.2 L 807.2,539.1 L 807.5,541.0 L 807.9,542.9 L 808.3,544.8 L 808.7,546.7 L 809.1,548.7 L 809.6,550.6 L 810.2,552.6 L 810.8,554.6 L 811.5,556.7 L 812.2,558.8 L 813.0,561.0 L 813.9,563.2 L 814.8,565.6 L 815.8,568.0 L 816.9,570.4 L 818.0,572.8 L 819.2,575.3 L 820.5,577.8 L 821.8,580.2 L 823.1,582.6 L 824.5,585.0 L 825.9,587.3 L 827.3,589.4 L 828.6,591.5 L 830.1,593.5 L 831.6,595.5 L 833.2,597.6 L 834.9,599.8 L 836.8,602.2 L 838.9,604.7 L 841.3,607.5 L 844.0,610.5 L 846.9,613.8 L 850.2,617.4 L 853.6,621.0 L 857.1,624.8 L 860.7,628.5 L 864.3,632.3 L 867.8,636.0 L 871.1,639.6 L 874.3,643.0 L 877.3,646.2 L 880.4,649.4 L 883.4,652.4 L 886.3,655.4 L 889.2,658.4 L 892.0,661.4 L 894.7,664.3 L 897.3,667.3 L 899.8,670.4 L 902.2,673.5 L 904.4,676.7 L 906.5,680.0 L 908.5,683.3 L 910.4,686.6 L 912.2,689.9 L 913.9,693.3 L 915.5,696.6 L 917.0,700.0 L 918.5,703.2 L 920.0,706.5 L 921.4,709.7 L 922.7,712.7 L 923.8,715.7 L 925.0,718.7 L 926.0,721.6 L 927.0,724.6 L 928.0,727.8 L 929.0,731.0 L 930.0,734.4 L 931.0,738.0 L 932.0,741.9 L 933.1,746.0 L 934.2,750.4 L 935.2,754.9 L 936.3,759.4 L 937.3,764.0 L 938.2,768.5 L 939.1,772.9 L 940.0,777.1 L 940.7,781.0 L 941.4,784.9 L 942.0,788.8 L 942.5,792.7 L 943.0,796.5 L 943.5,800.2 L 943.8,803.7 L 944.2,806.8 L 944.5,809.7 L 944.8,812.1 L 945.0,814.0" fill="none" stroke="#1f3a68" stroke-width="4.2" stroke-linejoin="round"/>
<path d="M 943.0,285.5 L 942.9,286.9 L 942.7,288.8 L 942.5,290.9 L 942.3,293.3 L 942.1,295.9 L 941.8,298.7 L 941.5,301.5 L 941.2,304.4 L 940.9,307.3 L 940.5,310.0 L 940.1,312.6 L 939.7,315.1 L 939.3,317.6 L 938.9,320.1 L 938.4,322.7 L 937.9,325.5 L 937.3,328.4 L 936.7,331.6 L 936.0,335.1 L 935.3,339.0 L 934.5,343.3 L 933.6,348.0 L 932.7,353.0 L 931.7,358.2 L 930.6,363.7 L 929.5,369.3 L 928.4,375.0 L 927.3,380.7 L 926.1,386.4 L 925.0,392.0 L 923.9,397.6 L 922.7,403.4 L 921.6,409.3 L 920.4,415.2 L 919.2,421.1 L 918.0,427.1 L 916.7,433.0 L 915.4,438.8 L 913.9,444.5 L 912.4,450.0 L 910.7,455.4 L 909.0,460.8 L 907.1,466.2 L 905.2,471.4 L 903.2,476.6 L 901.2,481.7 L 899.1,486.7 L 897.1,491.6 L 895.2,496.3 L 893.3,500.8 L 891.5,505.2 L 889.6,509.3 L 887.8,513.3 L 886.0,517.2 L 884.2,521.0 L 882.4,524.7 L 880.7,528.3 L 879.0,531.9 L 877.3,535.4 L 875.6,539.0 L 874.0,542.5 L 872.4,546.0 L 871.0,549.4 L 869.5,552.7 L 868.0,556.0 L 866.6,559.2 L 865.1,562.5 L 863.6,565.6 L 862.0,568.8 L 860.3,572.0 L 858.6,575.1 L 856.8,578.1 L 854.9,581.1 L 853.0,584.0 L 851.1,586.9 L 849.2,589.8 L 847.2,592.8 L 845.2,595.9 L 843.3,599.1 L 841.3,602.4 L 839.3,605.9 L 837.2,609.5 L 835.1,613.3 L 832.9,617.1 L 830.8,621.0 L 828.6,624.9 L 826.6,628.8 L 824.6,632.8 L 822.7,636.7 L 821.0,640.5 L 819.4,644.3 L 817.9,648.2 L 816.4,652.1 L 815.1,656.1 L 813.8,660.0 L 812.6,663.8 L 811.4,667.7 L 810.3,671.4 L 809.3,675.1 L 808.3,678.6 L 807.4,682.0 L 806.5,685.3 L 805.8,688.4 L 805.1,691.5 L 804.5,694.5 L 803.9,697.5 L 803.3,700.5 L 802.7,703.6 L 802.1,706.7 L 801.5,710.0 L 800.9,713.4 L 800.2,716.9 L 799.5,720.5 L 798.9,724.2 L 798.2,727.9 L 797.6,731.5 L 797.0,735.1 L 796.5,738.6 L 796.0,741.9 L 795.5,745.0 L 795.1,747.9 L 794.8,750.4 L 794.5,752.8 L 794.2,755.0 L 794.0,757.2 L 793.8,759.5 L 793.6,761.8 L 793.4,764.4 L 793.2,767.3 L 793.0,770.5 L 792.8,774.3 L 792.5,778.7 L 792.3,783.6 L 792.1,788.7 L 791.8,793.8 L 791.6,798.9 L 791.4,803.6 L 791.3,807.8 L 791.1,811.3 L 791.0,814.0" fill="none" stroke="#c8373a" stroke-width="4.2" stroke-linejoin="round"/>
<text x="808.9" y="356.3" font-size="30.3" font-weight="bold" fill="#62a864" stroke="#62a864" stroke-width="0.55" stroke-linejoin="round" textLength="15.6" lengthAdjust="spacingAndGlyphs" >V</text>
<text x="945.2" y="356.3" font-size="30" font-weight="bold" fill="#c43a3d" stroke="#c43a3d" stroke-width="0.55" stroke-linejoin="round" textLength="16.5" lengthAdjust="spacingAndGlyphs" >Q</text>
<text x="929.6" y="698.3" font-size="28.4" font-weight="bold" fill="#243c6e" stroke="#243c6e" stroke-width="0.55" stroke-linejoin="round" textLength="38.1" lengthAdjust="spacingAndGlyphs" >V/Q</text>
<text x="931.1" y="725.2" font-size="28" font-weight="bold" fill="#243c6e" stroke="#243c6e" stroke-width="0.55" stroke-linejoin="round" textLength="52.7" lengthAdjust="spacingAndGlyphs" >Ratio</text>
</svg></body></html>
